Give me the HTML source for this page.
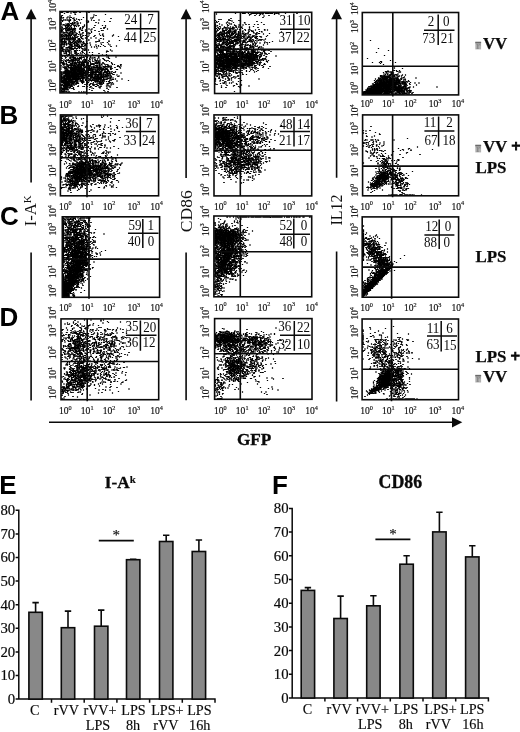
<!DOCTYPE html>
<html><head><meta charset="utf-8"><title>Figure</title>
<style>html,body{margin:0;padding:0;background:#fff}body{width:520px;height:732px;overflow:hidden}</style>
</head><body>
<svg width="520" height="732" viewBox="0 0 520 732" style="display:block">
<rect width="520" height="732" fill="#fff"/>
<g stroke="#000" stroke-width="2.3" stroke-linecap="square" fill="none" transform="scale(0.5) translate(0 1)"><path d="M122 24h3m9 0h2m11 0h2m3 0h0m8 0h0m13 0h0m5 0h0m-36 1h0m-13 1h0m21 1h0m1 1h0m60 0h0m-23 1h0m-63 1h0m67 0h0m-69 1h0m17 0h0m-18 2h0m14 0h0m51 0h0m-64 1h0m4 0h0m13 0h0m3 0h0m24 0h0m-45 1h0m4 0h0m8 0h0m14 0h0m34 0h0m3 0h0m-39 1h0m76 0h0m-100 1h0m17 0h0m14 0h0m-31 1h0m19 0h0m8 0h0m8 0h0m6 0h0m-41 1h0m5 0h0m3 0h1m3 0h2m12 0h0m11 0h0m24 0h0m15 0h0m-73 1h0m14 0h2m9 0h0m38 0h0m-66 1h0m16 0h0m35 0h0m3 0h0m-51 1h0m29 0h0m23 0h0m32 0h0m11 0h0m-81 1h0m9 0h0m29 0h0m-55 1h0m23 0h0m5 0h0m24 0h0m18 0h0m-70 1h0m27 0h0m5 0h2m5 0h0m36 0h0m-75 1h0m14 0h0m5 0h2m3 0h0m-24 1h0m10 0h0m4 0h2m7 0h0m5 0h0m6 0h0m-34 1h0m5 0h0m8 0h1m10 0h0m-20 1h0m3 0h0m5 0h2m3 0h0m4 0h0m11 0h0m15 0h0m-38 1h2m5 0h0m5 0h0m5 0h3m7 0h0m32 0h0m15 0h0m6 0h0m-89 1h0m13 0h2m4 0h0m16 0h0m12 0h0m-38 1h0m6 0h0m12 0h0m4 0h0m13 0h0m-42 1h0m10 0h0m4 0h0m4 0h0m69 0h0m-79 1h0m3 0h0m8 0h0m18 0h0m5 0h0m22 0h0m20 0h1m-87 1h0m3 0h0m14 0h0m10 0h0m-27 1h0m7 0h0m3 0h2m3 0h0m6 0h0m5 0h0m3 0h0m9 0h1m4 0h0m37 0h0m6 0h0m-86 1h0m5 0h0m4 0h0m9 0h9m29 0h0m6 0h0m31 0h0m-92 1h0m12 0h0m3 0h1m9 0h1m11 0h0m-35 1h0m7 0h9m3 0h1m6 0h0m13 0h0m7 0h0m11 0h0m-60 1h2m10 0h2m10 0h0m17 0h2m25 0h0m13 0h0m3 0h0m-84 1h0m10 0h1m5 0h0m7 0h0m4 0h0m-26 1h0m19 0h2m5 0h0m10 0h0m13 0h0m11 0h0m15 0h0m-76 1h0m3 0h1m8 0h0m7 0h2m3 0h0m4 0h0m9 0h0m-37 1h0m6 0h0m4 0h0m8 0h0m5 0h0m14 0h0m7 0h0m17 0h0m-61 1h0m6 0h1m6 0h0m3 0h0m10 0h0m4 0h0m14 0h0m10 0h2m-39 1h0m3 0h0m3 0h0m9 0h0m26 0h0m-54 1h0m6 0h0m5 0h0m5 0h0m4 0h0m14 0h0m4 0h0m35 0h0m7 0h0m-84 1h0m8 0h0m9 0h0m5 0h0m8 0h0m5 0h0m4 0h0m-39 1h3m7 0h2m4 0h2m8 0h5m8 0h0m17 0h0m27 0h0m22 0h0m-105 1h0m5 0h1m6 0h2m5 0h2m5 0h2m17 0h0m4 0h0m19 0h0m11 0h0m-78 1h0m4 0h0m4 0h2m3 0h0m3 0h0m22 0h0m4 0h0m42 0h0m18 0h0m-103 1h0m3 0h0m4 0h0m4 0h0m8 0h0m8 0h0m7 0h0m20 0h0m12 0h0m19 0h0m30 0h0m-115 1h0m14 0h1m8 0h0m6 0h0m3 0h0m9 0h0m-41 1h0m11 0h0m8 0h0m4 0h0m3 0h0m3 0h3m8 0h0m-40 1h0m3 0h2m3 0h0m7 0h2m3 0h0m21 0h0m8 0h0m3 0h0m8 0h0m10 0h0m-66 1h4m3 0h0m3 0h0m8 0h0m3 0h0m3 0h0m8 0h1m5 0h0m37 0h1m-78 1h0m4 0h0m4 0h5m3 0h1m4 0h0m3 0h0m3 0h0m5 0h0m10 0h0m41 0h0m-85 1h0m3 0h0m7 0h1m9 0h0m4 0h0m11 0h3m-36 1h0m5 0h0m7 0h0m3 0h0m3 0h0m4 0h0m3 0h1m7 0h0m20 0h1m20 0h0m-76 1h0m26 0h0m6 0h0m5 0h0m14 0h0m26 0h0m40 0h0m-117 1h2m5 0h0m3 0h0m6 0h0m17 0h0m5 0h2m11 0h0m45 0h0m-92 1h2m4 0h0m6 0h2m7 0h0m5 0h0m4 0h0m3 0h1m3 0h0m4 0h0m6 0h0m19 0h0m3 0h0m3 0h0m20 0h0m-96 1h3m3 0h0m3 0h0m10 0h0m4 0h0m3 0h4m5 0h3m32 0h0m-68 1h0m4 0h3m7 0h0m3 0h4m4 0h2m6 0h0m9 0h0m40 0h0m9 0h0m-91 1h0m5 0h0m4 0h0m5 0h0m4 0h2m5 0h0m4 0h2m7 0h0m5 0h1m12 0h0m22 0h0m-65 1h1m9 0h0m6 0h1m15 0h0m6 0h0m-52 1h6m3 0h2m4 0h0m3 0h0m8 0h1m4 0h0m4 0h0m8 0h0m5 0h0m46 0h0m-95 1h2m15 0h0m4 0h0m11 0h2m7 0h2m38 0h0m-81 1h0m6 0h1m4 0h0m6 0h3m3 0h0m4 0h1m5 0h0m15 0h1m10 0h0m11 0h0m28 0h0m-78 1h1m10 0h0m6 0h0m5 0h0m5 0h0m28 0h0m10 0h0m-85 1h2m25 0h2m4 0h2m13 0h0m3 0h0m24 0h0m36 0h0m-111 1h0m6 0h0m12 0h0m4 0h2m8 0h0m5 0h1m3 0h1m3 0h0m26 0h0m8 0h0m9 0h0m12 0h0m-100 1h0m15 0h2m4 0h0m13 0h2m25 0h0m6 0h0m-67 1h3m9 0h0m3 0h0m5 0h0m8 0h0m7 0h1m4 0h0m-36 1h0m6 0h4m3 0h2m3 0h0m15 0h0m11 0h0m24 0h0m-72 1h3m16 0h4m3 0h2m3 0h2m4 0h0m5 0h1m-43 1h0m18 0h0m13 0h0m15 0h0m4 0h0m-46 1h0m4 0h0m4 0h0m10 0h0m3 0h0m-25 1h0m3 0h2m9 0h2m4 0h0m23 0h1m4 0h1m6 0h0m44 0h0m-89 1h0m5 0h0m12 0h2m4 0h0m4 0h0m10 0h0m-47 1h3m5 0h2m4 0h4m13 0h0m61 0h0m10 0h0m-102 1h0m5 0h0m9 0h0m13 0h2m13 0h1m51 0h0m-85 1h2m5 0h0m5 0h0m6 0h2m14 0h0m48 0h0m-91 1h0m11 0h0m6 0h0m13 0h1m12 0h1m13 0h0m6 0h0m-63 1h0m6 0h0m12 0h0m21 0h0m-39 1h0m8 0h0m3 0h0m17 0h2m5 0h0m12 0h0m29 0h0m-59 1h0m4 0h0m12 0h0m9 0h0m-42 1h0m15 0h2m14 0h0m20 0h0m12 0h0m28 0h0m-90 1h0m10 0h0m3 0h2m7 0h1m6 0h0m8 0h0m11 0h0m5 0h0m29 0h0m-71 1h0m14 0h0m23 0h0m25 0h0m26 0h0m-97 1h0m10 0h0m11 0h0m17 0h0m35 0h0m-68 1h0m17 0h0m25 0h0m9 0h0m-59 1h1m18 0h3m23 0h1m7 0h0m6 0h0m16 0h0m17 0h0m3 0h0m15 0h0m-110 1h0m10 0h0m14 0h4m9 0h2m3 0h0m4 0h0m6 0h0m15 0h0m-67 1h0m9 0h0m8 0h2m6 0h0m4 0h0m4 0h0m5 0h2m18 0h0m4 0h2m4 0h0m8 0h0m19 0h0m-93 1h0m25 0h0m7 0h5m45 0h0m13 0h0m-77 1h0m4 0h0m5 0h2m5 0h0m5 0h0m6 0h0m10 0h0m16 0h0m12 0h0m-85 1h0m15 0h0m7 0h0m3 0h0m12 0h0m9 0h0m3 0h0m9 0h0m10 0h0m19 0h0m-87 1h0m6 0h0m5 0h1m9 0h0m6 0h3m3 0h1m3 0h0m13 0h0m13 0h0m15 0h0m-78 1h2m7 0h0m5 0h0m4 0h0m5 0h4m3 0h0m4 0h1m11 0h0m3 0h0m6 0h0m14 0h0m3 0h0m16 0h0m6 0h0m-94 1h1m8 0h0m7 0h0m4 0h0m4 0h0m10 0h0m9 0h0m6 0h0m9 0h0m10 0h0m3 0h0m4 0h1m15 0h0m-86 1h0m5 0h1m12 0h0m15 0h0m8 0h2m9 0h1m6 0h0m33 0h0m-79 1h0m4 0h4m3 0h0m4 0h0m4 0h0m5 0h1m4 0h0m4 0h0m3 0h0m18 0h0m3 0h0m3 0h0m-78 1h4m11 0h2m17 0h1m5 0h2m3 0h5m9 0h0m11 0h0m14 0h0m17 0h0m-101 1h0m6 0h0m5 0h0m12 0h0m4 0h4m5 0h1m3 0h1m4 0h0m8 0h2m13 0h0m5 0h4m-73 1h1m6 0h0m8 0h0m3 0h2m3 0h2m8 0h0m7 0h0m16 0h0m4 0h0m5 0h1m3 0h0m4 0h0m7 0h0m18 0h0m-99 1h5m13 0h0m6 0h0m3 0h2m4 0h1m4 0h2m3 0h1m4 0h3m5 0h0m4 0h0m3 0h0m6 0h0m8 0h0m7 0h0m-82 1h0m7 0h1m7 0h2m5 0h0m5 0h0m3 0h2m3 0h0m5 0h0m6 0h0m9 0h1m3 0h2m11 0h0m4 0h0m11 0h0m11 0h0m4 0h0m13 0h0m-115 1h1m5 0h0m5 0h2m3 0h0m3 0h4m7 0h7m3 0h2m5 0h2m5 0h0m17 0h0m6 0h0m7 0h0m5 0h0m25 0h0m-119 1h0m14 0h2m3 0h5m4 0h1m4 0h2m5 0h5m7 0h4m3 0h0m10 0h4m5 0h0m36 0h0m-99 1h0m4 0h2m5 0h10m4 0h0m7 0h1m5 0h2m3 0h0m8 0h0m6 0h0m5 0h1m16 0h2m4 0h0m20 0h0m-112 1h0m4 0h3m10 0h1m6 0h0m3 0h0m4 0h2m4 0h0m10 0h1m10 0h0m6 0h1m4 0h0m8 0h0m3 0h3m3 0h2m17 0h0m3 0h0m-116 1h0m4 0h0m8 0h0m10 0h0m4 0h0m3 0h2m4 0h6m4 0h0m4 0h2m5 0h0m4 0h4m6 0h0m6 0h2m4 0h0m3 0h0m3 0h0m5 0h2m3 0h0m3 0h0m16 0h0m-111 1h0m4 0h0m5 0h6m3 0h0m3 0h1m4 0h9m6 0h1m4 0h0m5 0h0m8 0h10m4 0h1m7 0h0m21 0h0m-101 1h1m8 0h0m7 0h1m3 0h3m4 0h2m3 0h3m9 0h0m3 0h2m5 0h0m6 0h0m7 0h4m12 0h0m9 0h0m20 0h0m-109 1h1m8 0h12m3 0h8m3 0h0m6 0h1m3 0h6m3 0h0m14 0h2m4 0h1m7 0h0m10 0h0m-102 1h0m8 0h0m4 0h1m6 0h2m3 0h9m4 0h10m10 0h0m12 0h4m3 0h0m5 0h3m4 0h2m9 0h0m-79 1h2m3 0h2m3 0h7m3 0h3m4 0h0m7 0h1m3 0h2m3 0h1m4 0h0m6 0h2m4 0h6m5 0h2m7 0h0m11 0h2m-103 1h4m5 0h1m4 0h0m3 0h4m3 0h0m6 0h0m3 0h1m3 0h0m14 0h1m3 0h0m3 0h0m5 0h0m5 0h0m3 0h0m3 0h0m4 0h0m6 0h0m-85 1h2m3 0h2m6 0h7m4 0h8m3 0h2m8 0h6m3 0h0m7 0h0m7 0h0m6 0h0m10 0h2m-87 1h0m3 0h5m4 0h3m3 0h4m3 0h8m3 0h0m3 0h2m3 0h3m5 0h0m3 0h0m9 0h3m6 0h0m7 0h0m5 0h0m-93 1h0m8 0h4m3 0h7m3 0h0m3 0h2m3 0h12m4 0h2m9 0h0m5 0h0m3 0h3m3 0h0m5 0h0m8 0h3m4 0h2m6 0h0m7 0h0m-109 1h0m4 0h3m3 0h5m3 0h4m3 0h7m6 0h7m9 0h0m6 0h4m4 0h6m3 0h5m5 0h0m4 0h2m5 0h0m-92 1h0m3 0h2m6 0h3m3 0h9m4 0h1m4 0h0m6 0h0m3 0h0m4 0h2m5 0h2m3 0h0m4 0h0m4 0h6m6 0h2m9 0h0m8 0h0m3 0h0m-108 1h2m7 0h10m3 0h0m4 0h0m3 0h13m3 0h0m3 0h4m7 0h0m6 0h5m5 0h1m4 0h0m5 0h1m4 0h2m4 0h0m5 0h0m19 0h0m-120 1h0m6 0h0m4 0h8m3 0h27m3 0h0m3 0h0m8 0h1m7 0h0m9 0h2m12 0h5m4 0h0m-98 1h0m4 0h0m3 0h6m4 0h8m5 0h11m6 0h0m3 0h0m5 0h2m3 0h0m13 0h5m3 0h0m7 0h0m5 0h0m-96 1h0m8 0h0m3 0h6m3 0h13m3 0h4m4 0h0m5 0h2m5 0h0m5 0h1m4 0h5m3 0h2m3 0h2m6 0h1m4 0h0m11 0h2m-106 1h2m9 0h1m4 0h7m3 0h10m3 0h10m5 0h0m3 0h3m4 0h0m9 0h6m3 0h0m3 0h0m5 0h0m5 0h0m4 0h0m13 0h0m-112 1h0m6 0h16m3 0h6m10 0h2m3 0h0m3 0h1m5 0h0m3 0h3m7 0h2m4 0h0m6 0h0m11 0h1m-92 1h0m6 0h1m3 0h3m3 0h4m4 0h1m3 0h2m3 0h2m3 0h0m3 0h2m7 0h1m10 0h2m6 0h1m3 0h2m7 0h0m3 0h4m4 0h4m3 0h0m16 0h0m-116 1h1m6 0h0m3 0h0m3 0h11m3 0h6m3 0h5m3 0h0m11 0h0m3 0h0m3 0h0m7 0h0m3 0h0m4 0h0m4 0h1m3 0h0m8 0h0m9 0h1m13 0h0m-114 1h26m3 0h3m3 0h0m8 0h0m3 0h2m3 0h2m7 0h0m3 0h1m3 0h3m3 0h0m4 0h5m4 0h6m-92 1h0m6 0h1m4 0h1m3 0h4m3 0h3m3 0h2m4 0h2m4 0h0m3 0h5m3 0h1m7 0h0m3 0h6m5 0h4m4 0h2m16 0h1m-100 1h1m3 0h3m4 0h3m3 0h2m4 0h3m3 0h2m3 0h0m3 0h0m4 0h0m3 0h0m7 0h0m3 0h0m6 0h0m5 0h0m6 0h1m3 0h1m3 0h0m6 0h0m9 0h0m3 0h0m3 0h0m4 0h0m-104 1h2m4 0h7m3 0h3m4 0h2m3 0h0m4 0h8m3 0h3m8 0h0m6 0h0m5 0h12m3 0h1m4 0h0m10 0h0m4 0h0m-99 1h1m8 0h14m3 0h1m3 0h0m3 0h3m3 0h0m4 0h2m4 0h0m5 0h6m3 0h0m5 0h0m4 0h9m7 0h0m3 0h2m16 0h0m13 0h0m-122 1h0m6 0h4m3 0h4m4 0h7m3 0h5m3 0h0m4 0h0m6 0h0m14 0h0m3 0h0m4 0h2m4 0h0m3 0h1m4 0h4m3 0h0m12 0h2m-105 1h5m3 0h3m4 0h11m3 0h2m3 0h0m5 0h0m11 0h1m7 0h0m5 0h0m7 0h1m4 0h0m23 0h3m-101 1h0m3 0h6m6 0h2m3 0h2m7 0h2m9 0h4m5 0h0m6 0h0m5 0h2m3 0h2m5 0h2m6 0h0m3 0h2m50 0h0m-135 1h0m3 0h2m6 0h2m4 0h5m9 0h2m5 0h2m4 0h0m8 0h0m4 0h0m5 0h0m6 0h2m9 0h0m9 0h0m10 0h0m15 0h0m-112 1h5m3 0h3m3 0h4m5 0h0m3 0h3m13 0h0m3 0h0m25 0h0m3 0h0m3 0h2m4 0h2m7 0h0m4 0h0m-95 1h0m3 0h6m3 0h3m6 0h0m3 0h2m4 0h0m4 0h0m7 0h2m3 0h0m7 0h0m16 0h0m3 0h2m4 0h1m17 0h0m-94 1h9m4 0h1m3 0h4m4 0h0m4 0h2m9 0h2m10 0h1m10 0h0m12 0h0m4 0h0m4 0h0m13 0h0m5 0h0m-96 1h16m3 0h1m5 0h0m21 0h0m12 0h0m15 0h4m16 0h0m-94 1h5m3 0h2m6 0h3m5 0h5m8 0h0m16 0h1m16 0h4m5 0h0m9 0h2m-96 1h0m4 0h0m4 0h9m7 0h0m29 0h0m10 0h0m9 0h1m19 0h0m10 0h0m3 0h0m-105 1h0m3 0h0m4 0h2m5 0h1m5 0h1m3 0h0m6 0h0m18 0h0m9 0h1m8 0h0m4 0h1m7 0h0m4 0h0m-75 1h10m4 0h0m5 0h1m37 0h0m16 0h0m14 0h0m6 0h0m-100 1h2m3 0h13m3 0h0m36 0h0m8 0h1m7 0h2m-75 1h1m8 0h5m5 0h4m12 0h0m56 0h1m4 0h0m-91 1h0m3 0h6m8 0h0m12 0h0m10 0h0m3 0h0m6 0h0m6 0h1m9 0h2m9 0h0m-74 1h3m8 0h2m57 0h2m20 0h1m-99 1h0m6 0h2m3 0h0m3 0h0m11 0h0m33 0h0m54 0h0m-112 1h2m4 0h6m5 0h1m33 0h0m11 0h0m16 0h0m14 0h0m-88 1h8m10 0h0m3 0h0m40 0h0m27 0h0m-92 1h0m3 0h4m5 0h2m-14 1h0m3 0h2m3 0h0m4 0h0m14 0h0m31 0h0m38 0h0m-92 1h0m3 0h0m4 0h0m4 0h0m-13 1h0m5 0h0m56 0h0m24 0h0m-86 1h0m6 0h1m-4 1h1m6 0h0m84 0h0m-94 1h6m6 0h0m3 0h2m19 0h0m5 0h0m4 0h0m3 0h0m40 0h0"/>
<path d="M122 24h3m9 0h2m11 0h2m3 0h0m8 0h0m13 0h0m5 0h0m-36 1h0m-13 1h0m21 1h0m1 1h0m60 0h0m-23 1h0m-63 1h0m67 0h0m-69 1h0m17 0h0m-18 2h0m14 0h0m51 0h0m-64 1h0m4 0h0m13 0h0m3 0h0m24 0h0m-45 1h0m4 0h0m8 0h0m14 0h0m34 0h0m3 0h0m-39 1h0m76 0h0m-100 1h0m17 0h0m14 0h0m-31 1h0m19 0h0m8 0h0m8 0h0m6 0h0m-41 1h0m5 0h0m3 0h1m3 0h2m12 0h0m11 0h0m24 0h0m15 0h0m-73 1h0m14 0h2m9 0h0m38 0h0m-66 1h0m16 0h0m35 0h0m3 0h0m-51 1h0m29 0h0m23 0h0m32 0h0m11 0h0m-81 1h0m9 0h0m29 0h0m-55 1h0m23 0h0m5 0h0m24 0h0m18 0h0m-70 1h0m27 0h0m5 0h2m5 0h0m36 0h0m-75 1h0m14 0h0m5 0h2m3 0h0m-24 1h0m10 0h0m4 0h2m7 0h0m5 0h0m6 0h0m-34 1h0m5 0h0m8 0h1m10 0h0m-20 1h0m3 0h0m5 0h2m3 0h0m4 0h0m11 0h0m15 0h0m-38 1h2m5 0h0m5 0h0m5 0h3m7 0h0m32 0h0m15 0h0m6 0h0m-89 1h0m13 0h2m4 0h0m16 0h0m12 0h0m-38 1h0m6 0h0m12 0h0m4 0h0m13 0h0m-42 1h0m10 0h0m4 0h0m4 0h0m69 0h0m-79 1h0m3 0h0m8 0h0m18 0h0m5 0h0m22 0h0m20 0h1m-87 1h0m3 0h0m14 0h0m10 0h0m-27 1h0m7 0h0m3 0h2m3 0h0m6 0h0m5 0h0m3 0h0m9 0h1m4 0h0m37 0h0m6 0h0m-86 1h0m5 0h0m4 0h0m9 0h9m29 0h0m6 0h0m31 0h0m-92 1h0m12 0h0m3 0h1m9 0h1m11 0h0m-35 1h0m7 0h9m3 0h1m6 0h0m13 0h0m7 0h0m11 0h0m-60 1h2m10 0h2m10 0h0m17 0h2m25 0h0m13 0h0m3 0h0m-84 1h0m10 0h1m5 0h0m7 0h0m4 0h0m-26 1h0m19 0h2m5 0h0m10 0h0m13 0h0m11 0h0m15 0h0m-76 1h0m3 0h1m8 0h0m7 0h2m3 0h0m4 0h0m9 0h0m-37 1h0m6 0h0m4 0h0m8 0h0m5 0h0m14 0h0m7 0h0m17 0h0m-61 1h0m6 0h1m6 0h0m3 0h0m10 0h0m4 0h0m14 0h0m10 0h2m-39 1h0m3 0h0m3 0h0m9 0h0m26 0h0m-54 1h0m6 0h0m5 0h0m5 0h0m4 0h0m14 0h0m4 0h0m35 0h0m7 0h0m-84 1h0m8 0h0m9 0h0m5 0h0m8 0h0m5 0h0m4 0h0m-39 1h3m7 0h2m4 0h2m8 0h5m8 0h0m17 0h0m27 0h0m22 0h0m-105 1h0m5 0h1m6 0h2m5 0h2m5 0h2m17 0h0m4 0h0m19 0h0m11 0h0m-78 1h0m4 0h0m4 0h2m3 0h0m3 0h0m22 0h0m4 0h0m42 0h0m18 0h0m-103 1h0m3 0h0m4 0h0m4 0h0m8 0h0m8 0h0m7 0h0m20 0h0m12 0h0m19 0h0m30 0h0m-115 1h0m14 0h1m8 0h0m6 0h0m3 0h0m9 0h0m-41 1h0m11 0h0m8 0h0m4 0h0m3 0h0m3 0h3m8 0h0m-40 1h0m3 0h2m3 0h0m7 0h2m3 0h0m21 0h0m8 0h0m3 0h0m8 0h0m10 0h0m-66 1h4m3 0h0m3 0h0m8 0h0m3 0h0m3 0h0m8 0h1m5 0h0m37 0h1m-78 1h0m4 0h0m4 0h5m3 0h1m4 0h0m3 0h0m3 0h0m5 0h0m10 0h0m41 0h0m-85 1h0m3 0h0m7 0h1m9 0h0m4 0h0m11 0h3m-36 1h0m5 0h0m7 0h0m3 0h0m3 0h0m4 0h0m3 0h1m7 0h0m20 0h1m20 0h0m-76 1h0m26 0h0m6 0h0m5 0h0m14 0h0m26 0h0m40 0h0m-117 1h2m5 0h0m3 0h0m6 0h0m17 0h0m5 0h2m11 0h0m45 0h0m-92 1h2m4 0h0m6 0h2m7 0h0m5 0h0m4 0h0m3 0h1m3 0h0m4 0h0m6 0h0m19 0h0m3 0h0m3 0h0m20 0h0m-96 1h3m3 0h0m3 0h0m10 0h0m4 0h0m3 0h4m5 0h3m32 0h0m-68 1h0m4 0h3m7 0h0m3 0h4m4 0h2m6 0h0m9 0h0m40 0h0m9 0h0m-91 1h0m5 0h0m4 0h0m5 0h0m4 0h2m5 0h0m4 0h2m7 0h0m5 0h1m12 0h0m22 0h0m-65 1h1m9 0h0m6 0h1m15 0h0m6 0h0m-52 1h6m3 0h2m4 0h0m3 0h0m8 0h1m4 0h0m4 0h0m8 0h0m5 0h0m46 0h0m-95 1h2m15 0h0m4 0h0m11 0h2m7 0h2m38 0h0m-81 1h0m6 0h1m4 0h0m6 0h3m3 0h0m4 0h1m5 0h0m15 0h1m10 0h0m11 0h0m28 0h0m-78 1h1m10 0h0m6 0h0m5 0h0m5 0h0m28 0h0m10 0h0m-85 1h2m25 0h2m4 0h2m13 0h0m3 0h0m24 0h0m36 0h0m-111 1h0m6 0h0m12 0h0m4 0h2m8 0h0m5 0h1m3 0h1m3 0h0m26 0h0m8 0h0m9 0h0m12 0h0m-100 1h0m15 0h2m4 0h0m13 0h2m25 0h0m6 0h0m-67 1h3m9 0h0m3 0h0m5 0h0m8 0h0m7 0h1m4 0h0m-36 1h0m6 0h4m3 0h2m3 0h0m15 0h0m11 0h0m24 0h0m-72 1h3m16 0h4m3 0h2m3 0h2m4 0h0m5 0h1m-43 1h0m18 0h0m13 0h0m15 0h0m4 0h0m-46 1h0m4 0h0m4 0h0m10 0h0m3 0h0m-25 1h0m3 0h2m9 0h2m4 0h0m23 0h1m4 0h1m6 0h0m44 0h0m-89 1h0m5 0h0m12 0h2m4 0h0m4 0h0m10 0h0m-47 1h3m5 0h2m4 0h4m13 0h0m61 0h0m10 0h0m-102 1h0m5 0h0m9 0h0m13 0h2m13 0h1m51 0h0m-85 1h2m5 0h0m5 0h0m6 0h2m14 0h0m48 0h0m-91 1h0m11 0h0m6 0h0m13 0h1m12 0h1m13 0h0m6 0h0m-63 1h0m6 0h0m12 0h0m21 0h0m-39 1h0m8 0h0m3 0h0m17 0h2m5 0h0m12 0h0m29 0h0m-59 1h0m4 0h0m12 0h0m9 0h0m-42 1h0m15 0h2m14 0h0m20 0h0m12 0h0m28 0h0m-90 1h0m10 0h0m3 0h2m7 0h1m6 0h0m8 0h0m11 0h0m5 0h0m29 0h0m-71 1h0m14 0h0m23 0h0m25 0h0m26 0h0m-97 1h0m10 0h0m11 0h0m17 0h0m35 0h0m-68 1h0m17 0h0m25 0h0m9 0h0m-59 1h1m18 0h3m23 0h1m7 0h0m6 0h0m16 0h0m17 0h0m3 0h0m15 0h0m-110 1h0m10 0h0m14 0h4m9 0h2m3 0h0m4 0h0m6 0h0m15 0h0m-67 1h0m9 0h0m8 0h2m6 0h0m4 0h0m4 0h0m5 0h2m18 0h0m4 0h2m4 0h0m8 0h0m19 0h0m-93 1h0m25 0h0m7 0h5m45 0h0m13 0h0m-77 1h0m4 0h0m5 0h2m5 0h0m5 0h0m6 0h0m10 0h0m16 0h0m12 0h0m-85 1h0m15 0h0m7 0h0m3 0h0m12 0h0m9 0h0m3 0h0m9 0h0m10 0h0m19 0h0m-87 1h0m6 0h0m5 0h1m9 0h0m6 0h3m3 0h1m3 0h0m13 0h0m13 0h0m15 0h0m-78 1h2m7 0h0m5 0h0m4 0h0m5 0h4m3 0h0m4 0h1m11 0h0m3 0h0m6 0h0m14 0h0m3 0h0m16 0h0m6 0h0m-94 1h1m8 0h0m7 0h0m4 0h0m4 0h0m10 0h0m9 0h0m6 0h0m9 0h0m10 0h0m3 0h0m4 0h1m15 0h0m-86 1h0m5 0h1m12 0h0m15 0h0m8 0h2m9 0h1m6 0h0m33 0h0m-79 1h0m4 0h4m3 0h0m4 0h0m4 0h0m5 0h1m4 0h0m4 0h0m3 0h0m18 0h0m3 0h0m3 0h0m-78 1h4m11 0h2m17 0h1m5 0h2m3 0h5m9 0h0m11 0h0m14 0h0m17 0h0m-101 1h0m6 0h0m5 0h0m12 0h0m4 0h4m5 0h1m3 0h1m4 0h0m8 0h2m13 0h0m5 0h4m-73 1h1m6 0h0m8 0h0m3 0h2m3 0h2m8 0h0m7 0h0m16 0h0m4 0h0m5 0h1m3 0h0m4 0h0m7 0h0m18 0h0m-99 1h5m13 0h0m6 0h0m3 0h2m4 0h1m4 0h2m3 0h1m4 0h3m5 0h0m4 0h0m3 0h0m6 0h0m8 0h0m7 0h0m-82 1h0m7 0h1m7 0h2m5 0h0m5 0h0m3 0h2m3 0h0m5 0h0m6 0h0m9 0h1m3 0h2m11 0h0m4 0h0m11 0h0m11 0h0m4 0h0m13 0h0m-115 1h1m5 0h0m5 0h2m3 0h0m3 0h4m7 0h7m3 0h2m5 0h2m5 0h0m17 0h0m6 0h0m7 0h0m5 0h0m25 0h0m-119 1h0m14 0h2m3 0h5m4 0h1m4 0h2m5 0h5m7 0h4m3 0h0m10 0h4m5 0h0m36 0h0m-99 1h0m4 0h2m5 0h10m4 0h0m7 0h1m5 0h2m3 0h0m8 0h0m6 0h0m5 0h1m16 0h2m4 0h0m20 0h0m-112 1h0m4 0h3m10 0h1m6 0h0m3 0h0m4 0h2m4 0h0m10 0h1m10 0h0m6 0h1m4 0h0m8 0h0m3 0h3m3 0h2m17 0h0m3 0h0m-116 1h0m4 0h0m8 0h0m10 0h0m4 0h0m3 0h2m4 0h6m4 0h0m4 0h2m5 0h0m4 0h4m6 0h0m6 0h2m4 0h0m3 0h0m3 0h0m5 0h2m3 0h0m3 0h0m16 0h0m-111 1h0m4 0h0m5 0h6m3 0h0m3 0h1m4 0h9m6 0h1m4 0h0m5 0h0m8 0h10m4 0h1m7 0h0m21 0h0m-101 1h1m8 0h0m7 0h1m3 0h3m4 0h2m3 0h3m9 0h0m3 0h2m5 0h0m6 0h0m7 0h4m12 0h0m9 0h0m20 0h0m-109 1h1m8 0h12m3 0h8m3 0h0m6 0h1m3 0h6m3 0h0m14 0h2m4 0h1m7 0h0m10 0h0m-102 1h0m8 0h0m4 0h1m6 0h2m3 0h9m4 0h10m10 0h0m12 0h4m3 0h0m5 0h3m4 0h2m9 0h0m-79 1h2m3 0h2m3 0h7m3 0h3m4 0h0m7 0h1m3 0h2m3 0h1m4 0h0m6 0h2m4 0h6m5 0h2m7 0h0m11 0h2m-103 1h4m5 0h1m4 0h0m3 0h4m3 0h0m6 0h0m3 0h1m3 0h0m14 0h1m3 0h0m3 0h0m5 0h0m5 0h0m3 0h0m3 0h0m4 0h0m6 0h0m-85 1h2m3 0h2m6 0h7m4 0h8m3 0h2m8 0h6m3 0h0m7 0h0m7 0h0m6 0h0m10 0h2m-87 1h0m3 0h5m4 0h3m3 0h4m3 0h8m3 0h0m3 0h2m3 0h3m5 0h0m3 0h0m9 0h3m6 0h0m7 0h0m5 0h0m-93 1h0m8 0h4m3 0h7m3 0h0m3 0h2m3 0h12m4 0h2m9 0h0m5 0h0m3 0h3m3 0h0m5 0h0m8 0h3m4 0h2m6 0h0m7 0h0m-109 1h0m4 0h3m3 0h5m3 0h4m3 0h7m6 0h7m9 0h0m6 0h4m4 0h6m3 0h5m5 0h0m4 0h2m5 0h0m-92 1h0m3 0h2m6 0h3m3 0h9m4 0h1m4 0h0m6 0h0m3 0h0m4 0h2m5 0h2m3 0h0m4 0h0m4 0h6m6 0h2m9 0h0m8 0h0m3 0h0m-108 1h2m7 0h10m3 0h0m4 0h0m3 0h13m3 0h0m3 0h4m7 0h0m6 0h5m5 0h1m4 0h0m5 0h1m4 0h2m4 0h0m5 0h0m19 0h0m-120 1h0m6 0h0m4 0h8m3 0h27m3 0h0m3 0h0m8 0h1m7 0h0m9 0h2m12 0h5m4 0h0m-98 1h0m4 0h0m3 0h6m4 0h8m5 0h11m6 0h0m3 0h0m5 0h2m3 0h0m13 0h5m3 0h0m7 0h0m5 0h0m-96 1h0m8 0h0m3 0h6m3 0h13m3 0h4m4 0h0m5 0h2m5 0h0m5 0h1m4 0h5m3 0h2m3 0h2m6 0h1m4 0h0m11 0h2m-106 1h2m9 0h1m4 0h7m3 0h10m3 0h10m5 0h0m3 0h3m4 0h0m9 0h6m3 0h0m3 0h0m5 0h0m5 0h0m4 0h0m13 0h0m-112 1h0m6 0h16m3 0h6m10 0h2m3 0h0m3 0h1m5 0h0m3 0h3m7 0h2m4 0h0m6 0h0m11 0h1m-92 1h0m6 0h1m3 0h3m3 0h4m4 0h1m3 0h2m3 0h2m3 0h0m3 0h2m7 0h1m10 0h2m6 0h1m3 0h2m7 0h0m3 0h4m4 0h4m3 0h0m16 0h0m-116 1h1m6 0h0m3 0h0m3 0h11m3 0h6m3 0h5m3 0h0m11 0h0m3 0h0m3 0h0m7 0h0m3 0h0m4 0h0m4 0h1m3 0h0m8 0h0m9 0h1m13 0h0m-114 1h26m3 0h3m3 0h0m8 0h0m3 0h2m3 0h2m7 0h0m3 0h1m3 0h3m3 0h0m4 0h5m4 0h6m-92 1h0m6 0h1m4 0h1m3 0h4m3 0h3m3 0h2m4 0h2m4 0h0m3 0h5m3 0h1m7 0h0m3 0h6m5 0h4m4 0h2m16 0h1m-100 1h1m3 0h3m4 0h3m3 0h2m4 0h3m3 0h2m3 0h0m3 0h0m4 0h0m3 0h0m7 0h0m3 0h0m6 0h0m5 0h0m6 0h1m3 0h1m3 0h0m6 0h0m9 0h0m3 0h0m3 0h0m4 0h0m-104 1h2m4 0h7m3 0h3m4 0h2m3 0h0m4 0h8m3 0h3m8 0h0m6 0h0m5 0h12m3 0h1m4 0h0m10 0h0m4 0h0m-99 1h1m8 0h14m3 0h1m3 0h0m3 0h3m3 0h0m4 0h2m4 0h0m5 0h6m3 0h0m5 0h0m4 0h9m7 0h0m3 0h2m16 0h0m13 0h0m-122 1h0m6 0h4m3 0h4m4 0h7m3 0h5m3 0h0m4 0h0m6 0h0m14 0h0m3 0h0m4 0h2m4 0h0m3 0h1m4 0h4m3 0h0m12 0h2m-105 1h5m3 0h3m4 0h11m3 0h2m3 0h0m5 0h0m11 0h1m7 0h0m5 0h0m7 0h1m4 0h0m23 0h3m-101 1h0m3 0h6m6 0h2m3 0h2m7 0h2m9 0h4m5 0h0m6 0h0m5 0h2m3 0h2m5 0h2m6 0h0m3 0h2m50 0h0m-135 1h0m3 0h2m6 0h2m4 0h5m9 0h2m5 0h2m4 0h0m8 0h0m4 0h0m5 0h0m6 0h2m9 0h0m9 0h0m10 0h0m15 0h0m-112 1h5m3 0h3m3 0h4m5 0h0m3 0h3m13 0h0m3 0h0m25 0h0m3 0h0m3 0h2m4 0h2m7 0h0m4 0h0m-95 1h0m3 0h6m3 0h3m6 0h0m3 0h2m4 0h0m4 0h0m7 0h2m3 0h0m7 0h0m16 0h0m3 0h2m4 0h1m17 0h0m-94 1h9m4 0h1m3 0h4m4 0h0m4 0h2m9 0h2m10 0h1m10 0h0m12 0h0m4 0h0m4 0h0m13 0h0m5 0h0m-96 1h16m3 0h1m5 0h0m21 0h0m12 0h0m15 0h4m16 0h0m-94 1h5m3 0h2m6 0h3m5 0h5m8 0h0m16 0h1m16 0h4m5 0h0m9 0h2m-96 1h0m4 0h0m4 0h9m7 0h0m29 0h0m10 0h0m9 0h1m19 0h0m10 0h0m3 0h0m-105 1h0m3 0h0m4 0h2m5 0h1m5 0h1m3 0h0m6 0h0m18 0h0m9 0h1m8 0h0m4 0h1m7 0h0m4 0h0m-75 1h10m4 0h0m5 0h1m37 0h0m16 0h0m14 0h0m6 0h0m-100 1h2m3 0h13m3 0h0m36 0h0m8 0h1m7 0h2m-75 1h1m8 0h5m5 0h4m12 0h0m56 0h1m4 0h0m-91 1h0m3 0h6m8 0h0m12 0h0m10 0h0m3 0h0m6 0h0m6 0h1m9 0h2m9 0h0m-74 1h3m8 0h2m57 0h2m20 0h1m-99 1h0m6 0h2m3 0h0m3 0h0m11 0h0m33 0h0m54 0h0m-112 1h2m4 0h6m5 0h1m33 0h0m11 0h0m16 0h0m14 0h0m-88 1h8m10 0h0m3 0h0m40 0h0m27 0h0m-92 1h0m3 0h4m5 0h2m-14 1h0m3 0h2m3 0h0m4 0h0m14 0h0m31 0h0m38 0h0m-92 1h0m3 0h0m4 0h0m4 0h0m-13 1h0m5 0h0m56 0h0m24 0h0m-86 1h0m6 0h1m-4 1h1m6 0h0m84 0h0m-94 1h6m6 0h0m3 0h2m19 0h0m5 0h0m4 0h0m3 0h0m40 0h0"/>
<path d="M471 26h0m14 0h5m7 0h0m6 0h8m3 0h2m3 0h2m3 0h3m4 0h6m3 0h5m4 0h1m3 0h1m3 0h0m14 0h0m23 0h0m-161 1h0m69 0h0m11 0h0m7 0h0m5 0h1m32 0h0m-58 1h0m21 0h0m28 0h0m-50 1h0m11 1h0m9 0h0m19 0h0m-10 1h0m-2 3h0m-64 2h0m-24 2h0m4 0h0m16 0h0m-27 2h0m27 0h0m3 0h0m17 0h0m-14 1h0m17 0h0m-48 1h0m4 0h0m77 0h0m-59 1h0m-21 1h0m33 0h0m22 0h0m34 0h0m-92 1h0m22 0h0m5 0h0m32 0h0m-51 2h0m21 0h0m3 0h0m-32 1h0m24 0h0m37 0h0m6 0h0m11 0h0m7 0h0m12 0h0m-84 1h0m25 0h0m9 0h1m7 0h0m-55 1h0m4 0h0m22 0h0m13 0h0m-39 1h0m3 0h0m21 0h0m17 0h0m-41 1h0m8 0h0m68 0h0m-76 1h0m10 0h0m8 0h0m12 0h0m5 0h0m6 0h0m5 0h0m3 0h1m3 0h0m15 0h0m-68 1h0m5 0h0m14 0h2m13 0h0m8 0h0m10 0h0m16 0h0m17 0h0m-68 1h0m7 0h3m8 0h3m-38 1h2m4 0h0m3 0h0m5 0h0m7 0h0m8 0h0m4 0h2m19 0h0m-54 1h0m15 0h0m16 0h0m13 0h0m6 0h0m18 0h0m-64 1h0m4 0h0m6 0h0m9 0h0m5 0h0m7 0h0m13 0h0m11 0h0m28 0h0m11 0h0m-98 1h0m20 0h0m8 0h2m9 0h2m25 0h0m3 0h0m11 0h0m18 0h1m5 0h0m-104 1h0m5 0h0m10 0h1m3 0h0m3 0h0m4 0h0m3 0h1m30 0h0m12 0h0m-72 1h0m3 0h0m11 0h0m4 0h0m11 0h2m4 0h0m3 0h0m3 0h0m8 0h0m6 0h0m20 0h0m-75 1h0m17 0h0m8 0h0m6 0h0m4 0h0m11 0h0m21 0h0m6 0h2m13 0h0m4 0h0m-92 1h2m8 0h1m4 0h3m5 0h0m3 0h4m7 0h3m14 0h0m39 0h0m39 0h0m-132 1h0m9 0h2m7 0h0m4 0h1m3 0h1m7 0h0m4 0h0m8 0h0m20 0h0m10 0h0m7 0h0m-83 1h0m8 0h2m3 0h0m8 0h0m4 0h0m3 0h0m4 0h2m5 0h2m7 0h0m9 0h0m8 0h0m12 0h0m-77 1h0m6 0h1m8 0h0m4 0h0m3 0h0m5 0h1m4 0h5m9 0h0m9 0h0m6 0h0m4 0h0m16 0h0m5 0h2m20 0h0m-108 1h0m3 0h0m9 0h0m5 0h0m6 0h0m5 0h0m15 0h0m3 0h0m7 0h0m7 0h0m5 0h0m18 0h0m13 0h0m-96 1h0m7 0h0m3 0h0m3 0h4m6 0h0m5 0h0m4 0h0m3 0h1m5 0h0m5 0h1m11 0h0m11 0h1m11 0h0m-77 1h5m5 0h0m4 0h0m5 0h0m8 0h0m3 0h0m6 0h0m5 0h1m10 0h0m5 0h0m-61 1h0m3 0h5m4 0h2m4 0h0m4 0h0m3 0h0m5 0h2m8 0h0m7 0h4m26 0h0m27 0h0m-104 1h0m6 0h2m9 0h0m9 0h4m8 0h1m5 0h0m14 0h1m7 0h0m3 0h0m5 0h0m7 0h0m-81 1h1m5 0h0m8 0h0m6 0h0m3 0h2m3 0h0m15 0h2m9 0h0m3 0h0m10 0h0m7 0h2m6 0h2m5 0h0m13 0h0m-102 1h0m5 0h0m3 0h1m4 0h4m3 0h0m3 0h0m8 0h0m4 0h8m4 0h1m3 0h1m4 0h0m7 0h0m10 0h0m6 0h0m12 0h1m-88 1h1m24 0h0m8 0h1m13 0h0m15 0h0m3 0h0m4 0h0m6 0h3m-82 1h0m9 0h2m5 0h0m8 0h3m4 0h3m8 0h5m10 0h2m5 0h0m5 0h1m10 0h0m-80 1h2m4 0h0m4 0h0m4 0h0m3 0h2m9 0h0m6 0h1m18 0h0m11 0h0m7 0h0m10 0h0m3 0h0m-84 1h2m6 0h1m5 0h2m4 0h0m19 0h0m6 0h0m4 0h0m12 0h1m38 0h0m-100 1h1m3 0h9m3 0h10m4 0h0m8 0h0m3 0h1m3 0h0m3 0h0m21 0h0m5 0h0m15 0h0m4 0h0m-93 1h0m9 0h0m4 0h4m6 0h1m4 0h0m4 0h0m7 0h0m5 0h3m10 0h0m3 0h1m6 0h0m4 0h0m5 0h0m7 0h0m4 0h0m3 0h2m5 0h0m-97 1h0m3 0h0m6 0h2m5 0h0m7 0h4m6 0h0m3 0h2m3 0h1m3 0h0m11 0h0m13 0h0m11 0h0m6 0h0m-86 1h1m4 0h1m11 0h0m3 0h0m4 0h0m7 0h2m4 0h0m3 0h1m6 0h0m6 0h0m4 0h1m11 0h0m3 0h0m3 0h0m-75 1h0m4 0h1m4 0h2m5 0h1m5 0h0m6 0h0m6 0h0m4 0h5m5 0h0m17 0h3m46 0h0m-114 1h0m8 0h0m7 0h1m8 0h0m6 0h0m3 0h2m13 0h0m7 0h2m3 0h0m4 0h0m7 0h0m3 0h0m4 0h0m5 0h0m16 0h0m-99 1h1m14 0h1m3 0h2m3 0h1m3 0h1m7 0h0m7 0h2m12 0h0m4 0h0m42 0h0m5 0h0m-94 1h0m3 0h0m7 0h0m4 0h0m4 0h1m7 0h0m14 0h0m25 0h0m10 0h0m9 0h0m-98 1h0m7 0h0m7 0h1m7 0h0m4 0h0m3 0h6m6 0h0m4 0h0m30 0h0m6 0h0m-81 1h0m3 0h0m10 0h3m3 0h2m6 0h0m3 0h0m6 0h0m7 0h0m7 0h0m3 0h0m8 0h0m43 0h0m-104 1h0m8 0h0m5 0h0m7 0h0m3 0h3m11 0h2m13 0h0m3 0h0m10 0h0m10 0h1m4 0h0m-78 1h0m4 0h0m4 0h2m28 0h0m19 0h1m5 0h0m5 0h0m26 0h0m-96 1h0m4 0h0m3 0h0m15 0h2m4 0h1m4 0h0m4 0h0m11 0h0m3 0h0m12 0h0m5 0h2m9 0h0m-79 1h1m9 0h0m3 0h0m4 0h0m13 0h0m5 0h0m19 0h0m6 0h0m9 0h0m4 0h2m9 0h0m-81 1h0m8 0h7m9 0h1m3 0h1m3 0h3m20 0h0m12 0h0m3 0h2m6 0h0m-79 1h0m3 0h1m7 0h2m6 0h0m3 0h3m23 0h2m25 0h0m11 0h1m3 0h0m-92 1h0m3 0h0m3 0h0m4 0h1m6 0h0m3 0h1m6 0h0m3 0h0m7 0h0m14 0h0m3 0h0m5 0h0m4 0h0m7 0h0m3 0h0m13 0h1m-87 1h2m13 0h0m8 0h2m4 0h0m4 0h0m3 0h0m32 0h0m8 0h0m19 0h0m-95 1h0m6 0h3m6 0h0m7 0h3m3 0h4m4 0h0m17 0h0m6 0h4m13 0h0m10 0h0m-86 1h0m12 0h0m5 0h9m6 0h0m5 0h4m3 0h2m8 0h1m3 0h0m7 0h1m5 0h0m20 0h0m-91 1h0m4 0h3m8 0h0m5 0h1m10 0h0m11 0h2m3 0h2m20 0h0m3 0h0m13 0h0m9 0h0m-94 1h6m14 0h4m6 0h0m4 0h5m10 0h0m31 0h0m12 0h0m3 0h0m8 0h0m-102 1h0m5 0h1m3 0h7m3 0h1m5 0h0m24 0h0m12 0h0m10 0h4m21 0h2m8 0h0m-103 1h4m4 0h0m10 0h6m8 0h1m5 0h0m7 0h3m7 0h1m5 0h1m8 0h4m6 0h0m13 0h0m-97 1h1m8 0h6m7 0h5m4 0h0m4 0h4m3 0h0m3 0h2m7 0h0m19 0h0m3 0h2m18 0h0m15 0h0m-111 1h0m9 0h0m3 0h0m10 0h0m8 0h0m4 0h2m11 0h3m4 0h0m4 0h0m7 0h1m3 0h0m3 0h8m7 0h0m11 0h0m-98 1h1m7 0h0m3 0h4m15 0h0m3 0h0m6 0h0m4 0h1m4 0h0m4 0h1m4 0h2m6 0h0m8 0h0m6 0h0m3 0h4m4 0h0m-86 1h0m6 0h2m3 0h1m6 0h8m3 0h0m3 0h0m3 0h0m8 0h4m4 0h1m8 0h0m3 0h0m6 0h3m5 0h0m3 0h0m9 0h1m5 0h0m-99 1h0m4 0h0m6 0h0m4 0h0m4 0h0m6 0h0m6 0h5m3 0h4m4 0h7m3 0h0m5 0h11m3 0h0m6 0h0m3 0h0m17 0h0m6 0h0m-107 1h0m5 0h0m5 0h0m4 0h0m3 0h9m3 0h3m5 0h2m4 0h1m11 0h2m7 0h0m3 0h6m7 0h0m10 0h0m3 0h0m6 0h0m-99 1h0m6 0h7m3 0h2m10 0h8m4 0h2m4 0h1m5 0h3m4 0h0m3 0h2m3 0h3m5 0h3m3 0h1m6 0h2m13 0h0m-103 1h0m5 0h0m4 0h0m6 0h0m5 0h4m4 0h5m4 0h2m3 0h0m6 0h7m4 0h3m9 0h3m3 0h4m9 0h1m-91 1h0m3 0h0m5 0h0m4 0h0m3 0h0m3 0h0m4 0h1m3 0h4m7 0h6m3 0h2m7 0h0m5 0h1m3 0h2m3 0h3m3 0h2m6 0h2m7 0h0m5 0h0m-97 1h0m3 0h7m3 0h7m3 0h0m3 0h2m3 0h2m4 0h6m3 0h4m3 0h1m3 0h7m3 0h5m3 0h1m4 0h4m3 0h0m34 0h0m-121 1h3m5 0h0m6 0h1m3 0h8m3 0h9m3 0h0m4 0h1m3 0h6m3 0h0m4 0h0m4 0h1m3 0h3m3 0h5m3 0h0m5 0h2m11 0h0m-102 1h3m5 0h5m5 0h1m5 0h3m3 0h1m3 0h0m5 0h0m3 0h0m6 0h0m4 0h0m5 0h2m4 0h5m3 0h2m4 0h2m3 0h0m7 0h0m12 0h0m-101 1h0m3 0h4m4 0h0m4 0h11m5 0h13m5 0h17m3 0h3m4 0h1m4 0h3m4 0h1m-89 1h0m3 0h0m3 0h0m3 0h0m3 0h0m5 0h0m3 0h2m3 0h1m5 0h5m3 0h5m8 0h0m3 0h0m4 0h1m3 0h0m3 0h12m5 0h0m-83 1h0m8 0h0m3 0h6m4 0h7m3 0h2m5 0h2m6 0h3m14 0h13m3 0h0m9 0h0m6 0h0m3 0h0m3 0h0m-100 1h4m3 0h0m5 0h0m4 0h0m6 0h2m3 0h19m3 0h5m3 0h2m3 0h1m4 0h1m3 0h0m5 0h5m3 0h0m4 0h0m-88 1h10m7 0h22m3 0h13m4 0h0m3 0h1m3 0h0m3 0h0m3 0h6m7 0h0m6 0h4m4 0h0m-99 1h0m3 0h5m5 0h4m3 0h0m4 0h1m3 0h5m3 0h14m5 0h0m11 0h13m3 0h1m9 0h0m3 0h0m7 0h0m-102 1h3m3 0h5m3 0h0m5 0h0m3 0h25m4 0h0m4 0h8m4 0h1m3 0h0m3 0h0m3 0h2m7 0h2m8 0h0m10 0h0m-106 1h0m6 0h10m3 0h3m3 0h2m3 0h5m3 0h6m4 0h1m7 0h1m3 0h11m4 0h0m11 0h0m4 0h0m-90 1h0m4 0h12m6 0h18m4 0h1m3 0h4m5 0h6m3 0h0m4 0h4m6 0h5m17 0h2m-104 1h3m3 0h0m3 0h2m3 0h8m5 0h5m3 0h2m3 0h2m5 0h0m3 0h1m4 0h0m4 0h2m6 0h2m3 0h0m13 0h0m19 0h0m-104 1h1m3 0h0m4 0h2m4 0h0m7 0h0m3 0h2m5 0h1m3 0h0m4 0h1m4 0h4m3 0h0m4 0h0m4 0h3m3 0h0m4 0h9m4 0h1m5 0h0m3 0h0m-91 1h0m3 0h1m4 0h0m3 0h7m3 0h13m4 0h1m3 0h3m4 0h3m7 0h3m3 0h0m3 0h9m12 0h0m-89 1h1m4 0h0m4 0h8m3 0h0m3 0h17m4 0h0m8 0h17m3 0h0m7 0h0m4 0h0m15 0h0m-98 1h33m3 0h4m3 0h2m4 0h3m4 0h0m5 0h0m4 0h2m3 0h7m7 0h1m4 0h0m-89 1h0m7 0h1m6 0h2m8 0h4m3 0h6m3 0h0m9 0h4m5 0h0m5 0h0m3 0h2m3 0h0m17 0h0m9 0h2m-99 1h1m4 0h1m3 0h8m5 0h3m3 0h2m3 0h2m3 0h5m3 0h1m4 0h1m3 0h1m4 0h0m5 0h2m6 0h0m-73 1h1m5 0h15m3 0h0m3 0h0m3 0h0m5 0h2m8 0h0m6 0h5m3 0h2m5 0h8m5 0h2m7 0h0m5 0h1m-94 1h2m4 0h2m4 0h16m3 0h0m3 0h8m3 0h4m4 0h1m3 0h2m5 0h0m5 0h0m9 0h2m-80 1h1m5 0h21m5 0h0m5 0h1m7 0h0m7 0h0m4 0h0m9 0h0m13 0h0m18 0h0m13 0h0m-109 1h3m6 0h0m3 0h4m3 0h0m3 0h10m5 0h4m3 0h0m10 0h0m8 0h0m5 0h0m6 0h0m-73 1h2m3 0h1m3 0h0m6 0h4m3 0h2m3 0h2m6 0h2m5 0h0m11 0h0m3 0h0m3 0h0m14 0h2m4 0h0m3 0h0m13 0h0m-90 1h2m8 0h2m4 0h0m3 0h6m4 0h1m5 0h0m13 0h0m7 0h1m8 0h0m-69 1h0m5 0h2m3 0h3m4 0h1m3 0h2m4 0h0m3 0h1m3 0h0m3 0h0m5 0h1m3 0h0m7 0h0m3 0h0m6 0h0m17 0h0m6 0h0m21 0h0m-106 1h1m12 0h0m3 0h2m9 0h0m4 0h0m3 0h0m5 0h0m8 0h0m10 0h0m17 0h0m7 0h0m-81 1h2m3 0h0m6 0h1m3 0h5m3 0h3m5 0h1m9 0h0m31 0h0m-72 1h0m5 0h0m6 0h0m6 0h0m7 0h4m4 0h0m38 0h0m-70 1h2m4 0h0m7 0h3m6 0h1m4 0h0m3 0h0m6 0h0m3 0h0m4 0h0m10 0h0m9 0h0m14 0h0m9 0h0m-85 1h0m8 0h0m3 0h0m10 0h1m7 0h2m3 0h0m13 0h0m-47 1h4m6 0h0m3 0h0m4 0h3m9 0h3m4 0h0m26 0h0m6 0h0m14 0h0m-76 1h0m8 0h0m13 0h0m13 0h0m38 0h0m-78 1h1m16 0h0m5 0h0m14 0h0m6 0h1m4 0h2m4 0h0m-53 1h0m16 0h0m6 0h0m19 0h0m-41 1h0m3 0h0m4 0h0m3 0h0m6 0h0m5 0h0m8 0h0m14 0h0m-43 1h1m4 0h0m4 0h1m7 0h0m8 0h0m3 0h0m26 0h0m-47 1h0m5 0h0m5 0h0m4 0h0m34 0h0m7 0h0m-62 1h0m7 0h0m7 0h0m18 0h0m-20 1h0m10 0h0m5 0h1m17 0h0m5 0h0m-48 1h2m13 0h0m3 0h0m9 0h0m-25 1h0m11 0h0m3 0h0m5 0h0m14 0h0m8 0h0m-37 1h0m5 0h0m12 0h0m16 0h0m-27 1h0m21 0h0m-28 1h0m8 0h0m10 0h0m7 0h0m7 0h0m-39 1h0m7 0h1m24 0h0m14 0h1m-47 1h0m20 0h0m6 0h2m59 0h0m-87 1h0m10 1h0m18 0h0m4 0h0m-17 1h0m10 0h0m27 0h0m-52 1h0m9 0h0m10 1h0m27 0h0m-25 1h0m14 0h0m-17 1h0m-3 1h0m13 0h0m4 0h0m-22 1h0m7 0h0m25 0h0m-42 1h0m21 0h0m-18 1h0m40 0h0m7 0h0m0 1h2m-29 1h0m15 0h0m-26 1h0m24 0h0m31 0h0m-21 1h0m2 1h0m-36 1h0m9 0h0m17 8h0"/>
<path d="M471 26h0m14 0h5m7 0h0m6 0h8m3 0h2m3 0h2m3 0h3m4 0h6m3 0h5m4 0h1m3 0h1m3 0h0m14 0h0m23 0h0m-161 1h0m69 0h0m11 0h0m7 0h0m5 0h1m32 0h0m-58 1h0m21 0h0m28 0h0m-50 1h0m11 1h0m9 0h0m19 0h0m-10 1h0m-2 3h0m-64 2h0m-24 2h0m4 0h0m16 0h0m-27 2h0m27 0h0m3 0h0m17 0h0m-14 1h0m17 0h0m-48 1h0m4 0h0m77 0h0m-59 1h0m-21 1h0m33 0h0m22 0h0m34 0h0m-92 1h0m22 0h0m5 0h0m32 0h0m-51 2h0m21 0h0m3 0h0m-32 1h0m24 0h0m37 0h0m6 0h0m11 0h0m7 0h0m12 0h0m-84 1h0m25 0h0m9 0h1m7 0h0m-55 1h0m4 0h0m22 0h0m13 0h0m-39 1h0m3 0h0m21 0h0m17 0h0m-41 1h0m8 0h0m68 0h0m-76 1h0m10 0h0m8 0h0m12 0h0m5 0h0m6 0h0m5 0h0m3 0h1m3 0h0m15 0h0m-68 1h0m5 0h0m14 0h2m13 0h0m8 0h0m10 0h0m16 0h0m17 0h0m-68 1h0m7 0h3m8 0h3m-38 1h2m4 0h0m3 0h0m5 0h0m7 0h0m8 0h0m4 0h2m19 0h0m-54 1h0m15 0h0m16 0h0m13 0h0m6 0h0m18 0h0m-64 1h0m4 0h0m6 0h0m9 0h0m5 0h0m7 0h0m13 0h0m11 0h0m28 0h0m11 0h0m-98 1h0m20 0h0m8 0h2m9 0h2m25 0h0m3 0h0m11 0h0m18 0h1m5 0h0m-104 1h0m5 0h0m10 0h1m3 0h0m3 0h0m4 0h0m3 0h1m30 0h0m12 0h0m-72 1h0m3 0h0m11 0h0m4 0h0m11 0h2m4 0h0m3 0h0m3 0h0m8 0h0m6 0h0m20 0h0m-75 1h0m17 0h0m8 0h0m6 0h0m4 0h0m11 0h0m21 0h0m6 0h2m13 0h0m4 0h0m-92 1h2m8 0h1m4 0h3m5 0h0m3 0h4m7 0h3m14 0h0m39 0h0m39 0h0m-132 1h0m9 0h2m7 0h0m4 0h1m3 0h1m7 0h0m4 0h0m8 0h0m20 0h0m10 0h0m7 0h0m-83 1h0m8 0h2m3 0h0m8 0h0m4 0h0m3 0h0m4 0h2m5 0h2m7 0h0m9 0h0m8 0h0m12 0h0m-77 1h0m6 0h1m8 0h0m4 0h0m3 0h0m5 0h1m4 0h5m9 0h0m9 0h0m6 0h0m4 0h0m16 0h0m5 0h2m20 0h0m-108 1h0m3 0h0m9 0h0m5 0h0m6 0h0m5 0h0m15 0h0m3 0h0m7 0h0m7 0h0m5 0h0m18 0h0m13 0h0m-96 1h0m7 0h0m3 0h0m3 0h4m6 0h0m5 0h0m4 0h0m3 0h1m5 0h0m5 0h1m11 0h0m11 0h1m11 0h0m-77 1h5m5 0h0m4 0h0m5 0h0m8 0h0m3 0h0m6 0h0m5 0h1m10 0h0m5 0h0m-61 1h0m3 0h5m4 0h2m4 0h0m4 0h0m3 0h0m5 0h2m8 0h0m7 0h4m26 0h0m27 0h0m-104 1h0m6 0h2m9 0h0m9 0h4m8 0h1m5 0h0m14 0h1m7 0h0m3 0h0m5 0h0m7 0h0m-81 1h1m5 0h0m8 0h0m6 0h0m3 0h2m3 0h0m15 0h2m9 0h0m3 0h0m10 0h0m7 0h2m6 0h2m5 0h0m13 0h0m-102 1h0m5 0h0m3 0h1m4 0h4m3 0h0m3 0h0m8 0h0m4 0h8m4 0h1m3 0h1m4 0h0m7 0h0m10 0h0m6 0h0m12 0h1m-88 1h1m24 0h0m8 0h1m13 0h0m15 0h0m3 0h0m4 0h0m6 0h3m-82 1h0m9 0h2m5 0h0m8 0h3m4 0h3m8 0h5m10 0h2m5 0h0m5 0h1m10 0h0m-80 1h2m4 0h0m4 0h0m4 0h0m3 0h2m9 0h0m6 0h1m18 0h0m11 0h0m7 0h0m10 0h0m3 0h0m-84 1h2m6 0h1m5 0h2m4 0h0m19 0h0m6 0h0m4 0h0m12 0h1m38 0h0m-100 1h1m3 0h9m3 0h10m4 0h0m8 0h0m3 0h1m3 0h0m3 0h0m21 0h0m5 0h0m15 0h0m4 0h0m-93 1h0m9 0h0m4 0h4m6 0h1m4 0h0m4 0h0m7 0h0m5 0h3m10 0h0m3 0h1m6 0h0m4 0h0m5 0h0m7 0h0m4 0h0m3 0h2m5 0h0m-97 1h0m3 0h0m6 0h2m5 0h0m7 0h4m6 0h0m3 0h2m3 0h1m3 0h0m11 0h0m13 0h0m11 0h0m6 0h0m-86 1h1m4 0h1m11 0h0m3 0h0m4 0h0m7 0h2m4 0h0m3 0h1m6 0h0m6 0h0m4 0h1m11 0h0m3 0h0m3 0h0m-75 1h0m4 0h1m4 0h2m5 0h1m5 0h0m6 0h0m6 0h0m4 0h5m5 0h0m17 0h3m46 0h0m-114 1h0m8 0h0m7 0h1m8 0h0m6 0h0m3 0h2m13 0h0m7 0h2m3 0h0m4 0h0m7 0h0m3 0h0m4 0h0m5 0h0m16 0h0m-99 1h1m14 0h1m3 0h2m3 0h1m3 0h1m7 0h0m7 0h2m12 0h0m4 0h0m42 0h0m5 0h0m-94 1h0m3 0h0m7 0h0m4 0h0m4 0h1m7 0h0m14 0h0m25 0h0m10 0h0m9 0h0m-98 1h0m7 0h0m7 0h1m7 0h0m4 0h0m3 0h6m6 0h0m4 0h0m30 0h0m6 0h0m-81 1h0m3 0h0m10 0h3m3 0h2m6 0h0m3 0h0m6 0h0m7 0h0m7 0h0m3 0h0m8 0h0m43 0h0m-104 1h0m8 0h0m5 0h0m7 0h0m3 0h3m11 0h2m13 0h0m3 0h0m10 0h0m10 0h1m4 0h0m-78 1h0m4 0h0m4 0h2m28 0h0m19 0h1m5 0h0m5 0h0m26 0h0m-96 1h0m4 0h0m3 0h0m15 0h2m4 0h1m4 0h0m4 0h0m11 0h0m3 0h0m12 0h0m5 0h2m9 0h0m-79 1h1m9 0h0m3 0h0m4 0h0m13 0h0m5 0h0m19 0h0m6 0h0m9 0h0m4 0h2m9 0h0m-81 1h0m8 0h7m9 0h1m3 0h1m3 0h3m20 0h0m12 0h0m3 0h2m6 0h0m-79 1h0m3 0h1m7 0h2m6 0h0m3 0h3m23 0h2m25 0h0m11 0h1m3 0h0m-92 1h0m3 0h0m3 0h0m4 0h1m6 0h0m3 0h1m6 0h0m3 0h0m7 0h0m14 0h0m3 0h0m5 0h0m4 0h0m7 0h0m3 0h0m13 0h1m-87 1h2m13 0h0m8 0h2m4 0h0m4 0h0m3 0h0m32 0h0m8 0h0m19 0h0m-95 1h0m6 0h3m6 0h0m7 0h3m3 0h4m4 0h0m17 0h0m6 0h4m13 0h0m10 0h0m-86 1h0m12 0h0m5 0h9m6 0h0m5 0h4m3 0h2m8 0h1m3 0h0m7 0h1m5 0h0m20 0h0m-91 1h0m4 0h3m8 0h0m5 0h1m10 0h0m11 0h2m3 0h2m20 0h0m3 0h0m13 0h0m9 0h0m-94 1h6m14 0h4m6 0h0m4 0h5m10 0h0m31 0h0m12 0h0m3 0h0m8 0h0m-102 1h0m5 0h1m3 0h7m3 0h1m5 0h0m24 0h0m12 0h0m10 0h4m21 0h2m8 0h0m-103 1h4m4 0h0m10 0h6m8 0h1m5 0h0m7 0h3m7 0h1m5 0h1m8 0h4m6 0h0m13 0h0m-97 1h1m8 0h6m7 0h5m4 0h0m4 0h4m3 0h0m3 0h2m7 0h0m19 0h0m3 0h2m18 0h0m15 0h0m-111 1h0m9 0h0m3 0h0m10 0h0m8 0h0m4 0h2m11 0h3m4 0h0m4 0h0m7 0h1m3 0h0m3 0h8m7 0h0m11 0h0m-98 1h1m7 0h0m3 0h4m15 0h0m3 0h0m6 0h0m4 0h1m4 0h0m4 0h1m4 0h2m6 0h0m8 0h0m6 0h0m3 0h4m4 0h0m-86 1h0m6 0h2m3 0h1m6 0h8m3 0h0m3 0h0m3 0h0m8 0h4m4 0h1m8 0h0m3 0h0m6 0h3m5 0h0m3 0h0m9 0h1m5 0h0m-99 1h0m4 0h0m6 0h0m4 0h0m4 0h0m6 0h0m6 0h5m3 0h4m4 0h7m3 0h0m5 0h11m3 0h0m6 0h0m3 0h0m17 0h0m6 0h0m-107 1h0m5 0h0m5 0h0m4 0h0m3 0h9m3 0h3m5 0h2m4 0h1m11 0h2m7 0h0m3 0h6m7 0h0m10 0h0m3 0h0m6 0h0m-99 1h0m6 0h7m3 0h2m10 0h8m4 0h2m4 0h1m5 0h3m4 0h0m3 0h2m3 0h3m5 0h3m3 0h1m6 0h2m13 0h0m-103 1h0m5 0h0m4 0h0m6 0h0m5 0h4m4 0h5m4 0h2m3 0h0m6 0h7m4 0h3m9 0h3m3 0h4m9 0h1m-91 1h0m3 0h0m5 0h0m4 0h0m3 0h0m3 0h0m4 0h1m3 0h4m7 0h6m3 0h2m7 0h0m5 0h1m3 0h2m3 0h3m3 0h2m6 0h2m7 0h0m5 0h0m-97 1h0m3 0h7m3 0h7m3 0h0m3 0h2m3 0h2m4 0h6m3 0h4m3 0h1m3 0h7m3 0h5m3 0h1m4 0h4m3 0h0m34 0h0m-121 1h3m5 0h0m6 0h1m3 0h8m3 0h9m3 0h0m4 0h1m3 0h6m3 0h0m4 0h0m4 0h1m3 0h3m3 0h5m3 0h0m5 0h2m11 0h0m-102 1h3m5 0h5m5 0h1m5 0h3m3 0h1m3 0h0m5 0h0m3 0h0m6 0h0m4 0h0m5 0h2m4 0h5m3 0h2m4 0h2m3 0h0m7 0h0m12 0h0m-101 1h0m3 0h4m4 0h0m4 0h11m5 0h13m5 0h17m3 0h3m4 0h1m4 0h3m4 0h1m-89 1h0m3 0h0m3 0h0m3 0h0m3 0h0m5 0h0m3 0h2m3 0h1m5 0h5m3 0h5m8 0h0m3 0h0m4 0h1m3 0h0m3 0h12m5 0h0m-83 1h0m8 0h0m3 0h6m4 0h7m3 0h2m5 0h2m6 0h3m14 0h13m3 0h0m9 0h0m6 0h0m3 0h0m3 0h0m-100 1h4m3 0h0m5 0h0m4 0h0m6 0h2m3 0h19m3 0h5m3 0h2m3 0h1m4 0h1m3 0h0m5 0h5m3 0h0m4 0h0m-88 1h10m7 0h22m3 0h13m4 0h0m3 0h1m3 0h0m3 0h0m3 0h6m7 0h0m6 0h4m4 0h0m-99 1h0m3 0h5m5 0h4m3 0h0m4 0h1m3 0h5m3 0h14m5 0h0m11 0h13m3 0h1m9 0h0m3 0h0m7 0h0m-102 1h3m3 0h5m3 0h0m5 0h0m3 0h25m4 0h0m4 0h8m4 0h1m3 0h0m3 0h0m3 0h2m7 0h2m8 0h0m10 0h0m-106 1h0m6 0h10m3 0h3m3 0h2m3 0h5m3 0h6m4 0h1m7 0h1m3 0h11m4 0h0m11 0h0m4 0h0m-90 1h0m4 0h12m6 0h18m4 0h1m3 0h4m5 0h6m3 0h0m4 0h4m6 0h5m17 0h2m-104 1h3m3 0h0m3 0h2m3 0h8m5 0h5m3 0h2m3 0h2m5 0h0m3 0h1m4 0h0m4 0h2m6 0h2m3 0h0m13 0h0m19 0h0m-104 1h1m3 0h0m4 0h2m4 0h0m7 0h0m3 0h2m5 0h1m3 0h0m4 0h1m4 0h4m3 0h0m4 0h0m4 0h3m3 0h0m4 0h9m4 0h1m5 0h0m3 0h0m-91 1h0m3 0h1m4 0h0m3 0h7m3 0h13m4 0h1m3 0h3m4 0h3m7 0h3m3 0h0m3 0h9m12 0h0m-89 1h1m4 0h0m4 0h8m3 0h0m3 0h17m4 0h0m8 0h17m3 0h0m7 0h0m4 0h0m15 0h0m-98 1h33m3 0h4m3 0h2m4 0h3m4 0h0m5 0h0m4 0h2m3 0h7m7 0h1m4 0h0m-89 1h0m7 0h1m6 0h2m8 0h4m3 0h6m3 0h0m9 0h4m5 0h0m5 0h0m3 0h2m3 0h0m17 0h0m9 0h2m-99 1h1m4 0h1m3 0h8m5 0h3m3 0h2m3 0h2m3 0h5m3 0h1m4 0h1m3 0h1m4 0h0m5 0h2m6 0h0m-73 1h1m5 0h15m3 0h0m3 0h0m3 0h0m5 0h2m8 0h0m6 0h5m3 0h2m5 0h8m5 0h2m7 0h0m5 0h1m-94 1h2m4 0h2m4 0h16m3 0h0m3 0h8m3 0h4m4 0h1m3 0h2m5 0h0m5 0h0m9 0h2m-80 1h1m5 0h21m5 0h0m5 0h1m7 0h0m7 0h0m4 0h0m9 0h0m13 0h0m18 0h0m13 0h0m-109 1h3m6 0h0m3 0h4m3 0h0m3 0h10m5 0h4m3 0h0m10 0h0m8 0h0m5 0h0m6 0h0m-73 1h2m3 0h1m3 0h0m6 0h4m3 0h2m3 0h2m6 0h2m5 0h0m11 0h0m3 0h0m3 0h0m14 0h2m4 0h0m3 0h0m13 0h0m-90 1h2m8 0h2m4 0h0m3 0h6m4 0h1m5 0h0m13 0h0m7 0h1m8 0h0m-69 1h0m5 0h2m3 0h3m4 0h1m3 0h2m4 0h0m3 0h1m3 0h0m3 0h0m5 0h1m3 0h0m7 0h0m3 0h0m6 0h0m17 0h0m6 0h0m21 0h0m-106 1h1m12 0h0m3 0h2m9 0h0m4 0h0m3 0h0m5 0h0m8 0h0m10 0h0m17 0h0m7 0h0m-81 1h2m3 0h0m6 0h1m3 0h5m3 0h3m5 0h1m9 0h0m31 0h0m-72 1h0m5 0h0m6 0h0m6 0h0m7 0h4m4 0h0m38 0h0m-70 1h2m4 0h0m7 0h3m6 0h1m4 0h0m3 0h0m6 0h0m3 0h0m4 0h0m10 0h0m9 0h0m14 0h0m9 0h0m-85 1h0m8 0h0m3 0h0m10 0h1m7 0h2m3 0h0m13 0h0m-47 1h4m6 0h0m3 0h0m4 0h3m9 0h3m4 0h0m26 0h0m6 0h0m14 0h0m-76 1h0m8 0h0m13 0h0m13 0h0m38 0h0m-78 1h1m16 0h0m5 0h0m14 0h0m6 0h1m4 0h2m4 0h0m-53 1h0m16 0h0m6 0h0m19 0h0m-41 1h0m3 0h0m4 0h0m3 0h0m6 0h0m5 0h0m8 0h0m14 0h0m-43 1h1m4 0h0m4 0h1m7 0h0m8 0h0m3 0h0m26 0h0m-47 1h0m5 0h0m5 0h0m4 0h0m34 0h0m7 0h0m-62 1h0m7 0h0m7 0h0m18 0h0m-20 1h0m10 0h0m5 0h1m17 0h0m5 0h0m-48 1h2m13 0h0m3 0h0m9 0h0m-25 1h0m11 0h0m3 0h0m5 0h0m14 0h0m8 0h0m-37 1h0m5 0h0m12 0h0m16 0h0m-27 1h0m21 0h0m-28 1h0m8 0h0m10 0h0m7 0h0m7 0h0m-39 1h0m7 0h1m24 0h0m14 0h1m-47 1h0m20 0h0m6 0h2m59 0h0m-87 1h0m10 1h0m18 0h0m4 0h0m-17 1h0m10 0h0m27 0h0m-52 1h0m9 0h0m10 1h0m27 0h0m-25 1h0m14 0h0m-17 1h0m-3 1h0m13 0h0m4 0h0m-22 1h0m7 0h0m25 0h0m-42 1h0m21 0h0m-18 1h0m40 0h0m7 0h0m0 1h2m-29 1h0m15 0h0m-26 1h0m24 0h0m31 0h0m-21 1h0m2 1h0m-36 1h0m9 0h0m17 8h0"/>
<path d="M741 80h0m16 16h0m20 4h0m-24 4h0m16 6h0m-34 6h0m46 4h0m-20 2h2m-18 2h0m14 0h0m4 0h0m28 0h0m-30 2h0m6 2h0m-12 4h0m34 3h0m16 1h0m-19 4h0m3 0h0m4 0h0m6 0h0m-23 1h0m-5 1h0m3 0h0m3 0h0m17 0h1m-22 1h0m5 0h0m3 0h2m15 0h3m-34 1h0m16 0h0m-11 1h2m9 0h0m4 0h0m-2 1h0m-17 1h0m8 0h0m6 0h1m13 0h0m-25 1h0m4 0h0m5 0h0m3 0h2m7 0h0m-11 1h0m5 0h4m4 0h0m11 0h0m6 0h0m-50 1h1m6 0h1m9 0h3m13 0h0m-30 1h1m6 0h1m3 0h0m3 0h1m4 0h0m3 0h0m3 0h0m9 0h1m4 0h0m-42 1h0m5 0h13m10 0h0m8 0h0m-36 1h2m8 0h1m6 0h3m4 0h5m4 0h2m13 0h0m-45 1h1m3 0h1m3 0h6m3 0h0m14 0h0m12 0h0m-50 1h1m7 0h6m8 0h6m7 0h0m11 0h0m3 0h0m26 0h0m-71 1h0m3 0h0m5 0h1m3 0h2m6 0h7m6 0h2m6 0h0m-51 1h0m7 0h2m4 0h4m3 0h0m3 0h0m4 0h0m3 0h11m18 0h0m-51 1h0m3 0h1m3 0h7m5 0h10m6 0h3m6 0h0m-48 1h0m3 0h0m10 0h8m3 0h2m3 0h0m4 0h1m4 0h0m3 0h5m6 0h0m3 0h1m-62 1h0m4 0h0m3 0h0m3 0h4m3 0h1m3 0h0m3 0h1m6 0h5m4 0h0m3 0h6m19 0h0m-61 1h1m3 0h7m6 0h5m3 0h6m3 0h0m3 0h0m5 0h1m-48 1h2m7 0h3m3 0h3m3 0h10m3 0h2m3 0h0m6 0h3m5 0h4m5 0h0m5 0h0m-66 1h0m4 0h0m3 0h2m7 0h12m3 0h1m4 0h13m4 0h1m5 0h1m3 0h0m-66 1h2m4 0h0m4 0h8m5 0h9m3 0h3m3 0h4m3 0h0m7 0h1m4 0h1m11 0h0m-70 1h0m3 0h2m3 0h3m4 0h7m3 0h19m3 0h1m7 0h5m19 0h0m8 0h0m-83 1h0m4 0h5m3 0h5m5 0h0m4 0h3m4 0h2m3 0h1m4 0h3m3 0h1m3 0h1m10 0h0m-74 1h2m4 0h9m4 0h21m3 0h4m5 0h4m4 0h0m3 0h5m-65 1h32m3 0h13m16 0h1m7 0h0m-72 1h5m3 0h1m3 0h16m3 0h6m3 0h3m5 0h0m6 0h0m6 0h0m3 0h0m22 0h0m-87 1h2m5 0h32m4 0h3m5 0h2m11 0h0m4 0h0m-72 1h1m4 0h3m3 0h4m3 0h12m4 0h14m7 0h0m4 0h1m7 0h0m-71 1h0m4 0h2m4 0h18m3 0h13m3 0h3m3 0h0m3 0h0m3 0h5m5 0h5m-73 1h1m6 0h4m3 0h21m5 0h3m3 0h9m3 0h5m3 0h1m5 0h0m9 0h0m7 0h0m47 0h0m-131 1h13m3 0h5m3 0h2m3 0h7m3 0h15m6 0h1m3 0h0m3 0h0m7 0h2m-83 1h1m5 0h0m3 0h13m3 0h2m4 0h4m3 0h4m5 0h5m5 0h6m3 0h4m4 0h0m3 0h1m3 0h2m-84 1h0m3 0h6m3 0h34m4 0h2m3 0h10m3 0h2m5 0h4m-76 1h0m3 0h3m3 0h20m3 0h9m5 0h1m5 0h3m4 0h0m3 0h1m5 0h2m3 0h0m4 0h0m-80 1h0m5 0h26m4 0h1m3 0h8m4 0h5m3 0h5m3 0h2m5 0h0m3 0h0m-80 1h45m4 0h3m5 0h5m3 0h1m4 0h2m8 0h1m6 0h0m-85 1h35m3 0h5m3 0h1m4 0h0m4 0h7m4 0h0m3 0h2m3 0h0m6 0h0m3 0h0m5 0h0m-89 1h19m3 0h26m6 0h0m3 0h0m4 0h0m4 0h4m3 0h4m4 0h0m5 0h2m-92 1h3m3 0h30m4 0h3m3 0h10m10 0h3m4 0h0m3 0h0m3 0h2m6 0h0m-85 1h0m3 0h39m6 0h0m7 0h0m3 0h0m6 0h1m3 0h1m3 0h1m6 0h0m10 0h3m-95 1h10m3 0h4m3 0h0m6 0h4m3 0h4m5 0h6m3 0h5m13 0h2m6 0h0m4 0h0m8 0h0m4 0h0m6 0h0m-99 1h0m3 0h2m5 0h25m10 0h0m3 0h3m6 0h0m7 0h1m7 0h1m5 0h1m4 0h0m3 0h0m-83 1h0m5 0h2m3 0h9m6 0h8m5 0h2m4 0h0m4 0h0m21 0h0m10 0h2m7 0h0m6 0h0m-97 1h81m6 0h1m3 0h0"/>
<path d="M741 80h0m16 16h0m20 4h0m-24 4h0m16 6h0m-34 6h0m46 4h0m-20 2h2m-18 2h0m14 0h0m4 0h0m28 0h0m-30 2h0m6 2h0m-12 4h0m34 3h0m16 1h0m-19 4h0m3 0h0m4 0h0m6 0h0m-23 1h0m-5 1h0m3 0h0m3 0h0m17 0h1m-22 1h0m5 0h0m3 0h2m15 0h3m-34 1h0m16 0h0m-11 1h2m9 0h0m4 0h0m-2 1h0m-17 1h0m8 0h0m6 0h1m13 0h0m-25 1h0m4 0h0m5 0h0m3 0h2m7 0h0m-11 1h0m5 0h4m4 0h0m11 0h0m6 0h0m-50 1h1m6 0h1m9 0h3m13 0h0m-30 1h1m6 0h1m3 0h0m3 0h1m4 0h0m3 0h0m3 0h0m9 0h1m4 0h0m-42 1h0m5 0h13m10 0h0m8 0h0m-36 1h2m8 0h1m6 0h3m4 0h5m4 0h2m13 0h0m-45 1h1m3 0h1m3 0h6m3 0h0m14 0h0m12 0h0m-50 1h1m7 0h6m8 0h6m7 0h0m11 0h0m3 0h0m26 0h0m-71 1h0m3 0h0m5 0h1m3 0h2m6 0h7m6 0h2m6 0h0m-51 1h0m7 0h2m4 0h4m3 0h0m3 0h0m4 0h0m3 0h11m18 0h0m-51 1h0m3 0h1m3 0h7m5 0h10m6 0h3m6 0h0m-48 1h0m3 0h0m10 0h8m3 0h2m3 0h0m4 0h1m4 0h0m3 0h5m6 0h0m3 0h1m-62 1h0m4 0h0m3 0h0m3 0h4m3 0h1m3 0h0m3 0h1m6 0h5m4 0h0m3 0h6m19 0h0m-61 1h1m3 0h7m6 0h5m3 0h6m3 0h0m3 0h0m5 0h1m-48 1h2m7 0h3m3 0h3m3 0h10m3 0h2m3 0h0m6 0h3m5 0h4m5 0h0m5 0h0m-66 1h0m4 0h0m3 0h2m7 0h12m3 0h1m4 0h13m4 0h1m5 0h1m3 0h0m-66 1h2m4 0h0m4 0h8m5 0h9m3 0h3m3 0h4m3 0h0m7 0h1m4 0h1m11 0h0m-70 1h0m3 0h2m3 0h3m4 0h7m3 0h19m3 0h1m7 0h5m19 0h0m8 0h0m-83 1h0m4 0h5m3 0h5m5 0h0m4 0h3m4 0h2m3 0h1m4 0h3m3 0h1m3 0h1m10 0h0m-74 1h2m4 0h9m4 0h21m3 0h4m5 0h4m4 0h0m3 0h5m-65 1h32m3 0h13m16 0h1m7 0h0m-72 1h5m3 0h1m3 0h16m3 0h6m3 0h3m5 0h0m6 0h0m6 0h0m3 0h0m22 0h0m-87 1h2m5 0h32m4 0h3m5 0h2m11 0h0m4 0h0m-72 1h1m4 0h3m3 0h4m3 0h12m4 0h14m7 0h0m4 0h1m7 0h0m-71 1h0m4 0h2m4 0h18m3 0h13m3 0h3m3 0h0m3 0h0m3 0h5m5 0h5m-73 1h1m6 0h4m3 0h21m5 0h3m3 0h9m3 0h5m3 0h1m5 0h0m9 0h0m7 0h0m47 0h0m-131 1h13m3 0h5m3 0h2m3 0h7m3 0h15m6 0h1m3 0h0m3 0h0m7 0h2m-83 1h1m5 0h0m3 0h13m3 0h2m4 0h4m3 0h4m5 0h5m5 0h6m3 0h4m4 0h0m3 0h1m3 0h2m-84 1h0m3 0h6m3 0h34m4 0h2m3 0h10m3 0h2m5 0h4m-76 1h0m3 0h3m3 0h20m3 0h9m5 0h1m5 0h3m4 0h0m3 0h1m5 0h2m3 0h0m4 0h0m-80 1h0m5 0h26m4 0h1m3 0h8m4 0h5m3 0h5m3 0h2m5 0h0m3 0h0m-80 1h45m4 0h3m5 0h5m3 0h1m4 0h2m8 0h1m6 0h0m-85 1h35m3 0h5m3 0h1m4 0h0m4 0h7m4 0h0m3 0h2m3 0h0m6 0h0m3 0h0m5 0h0m-89 1h19m3 0h26m6 0h0m3 0h0m4 0h0m4 0h4m3 0h4m4 0h0m5 0h2m-92 1h3m3 0h30m4 0h3m3 0h10m10 0h3m4 0h0m3 0h0m3 0h2m6 0h0m-85 1h0m3 0h39m6 0h0m7 0h0m3 0h0m6 0h1m3 0h1m3 0h1m6 0h0m10 0h3m-95 1h10m3 0h4m3 0h0m6 0h4m3 0h4m5 0h6m3 0h5m13 0h2m6 0h0m4 0h0m8 0h0m4 0h0m6 0h0m-99 1h0m3 0h2m5 0h25m10 0h0m3 0h3m6 0h0m7 0h1m7 0h1m5 0h1m4 0h0m3 0h0m-83 1h0m5 0h2m3 0h9m6 0h8m5 0h2m4 0h0m4 0h0m21 0h0m10 0h2m7 0h0m6 0h0m-97 1h81m6 0h1m3 0h0"/>
<path d="M123 231h21m59 0h0m4 0h0m8 0h0m-92 1h0m3 0h0m6 0h0m-8 1h0m28 0h0m-29 1h0m7 0h0m74 0h0m-81 1h0m4 0h0m10 0h0m9 0h0m-19 1h0m3 0h0m4 0h0m19 0h0m14 0h0m55 0h0m-99 1h0m5 0h0m35 0h0m-36 1h0m4 0h0m5 0h0m-13 1h0m3 0h0m3 0h9m5 0h0m-20 1h0m8 0h0m6 0h0m10 0h0m91 0h0m-115 1h6m3 0h0m6 0h0m3 0h0m3 0h0m6 0h0m-27 1h0m9 0h0m5 0h2m5 0h0m30 0h0m-51 1h2m15 0h0m6 0h0m75 0h0m-98 1h0m8 0h0m5 0h0m3 0h0m6 0h0m-18 1h0m4 0h0m7 0h0m8 0h0m5 0h1m14 0h0m-43 1h0m7 0h0m3 0h0m3 0h0m15 0h0m3 0h0m-31 1h0m4 0h0m3 0h4m10 0h0m7 0h0m-28 1h1m5 0h0m4 0h0m3 0h2m3 0h0m15 0h0m30 0h0m-63 1h0m5 0h2m6 0h1m3 0h0m6 0h0m5 0h0m47 0h0m12 0h0m-79 1h0m5 0h2m6 0h0m20 0h0m34 0h0m3 0h0m32 0h0m-110 1h0m5 0h0m8 0h2m4 0h0m4 0h0m3 0h0m4 0h0m5 0h0m15 0h0m8 0h0m12 0h0m3 0h0m4 0h0m21 0h0m-98 1h0m9 0h0m3 0h0m23 0h0m-35 1h2m3 0h4m6 0h0m4 0h0m3 0h0m26 0h0m12 0h0m16 0h0m10 0h0m26 0h0m-107 1h0m3 0h2m6 0h0m5 0h0m73 0h0m17 0h0m11 0h0m-122 1h5m4 0h2m3 0h0m8 0h0m10 0h2m32 0h0m-63 1h0m10 0h3m3 0h2m5 0h2m84 0h0m-112 1h1m10 0h2m17 0h0m7 0h0m47 0h0m15 0h0m-99 1h6m3 0h0m4 0h2m6 0h0m4 0h0m3 0h0m6 0h0m28 0h0m15 0h0m8 0h0m-85 1h0m5 0h0m10 0h1m6 0h0m7 0h0m3 0h0m6 0h0m3 0h0m19 0h0m46 0h0m-106 1h0m3 0h0m3 0h5m3 0h1m4 0h2m4 0h0m10 0h0m6 0h0m12 0h0m4 0h0m-57 1h0m3 0h0m4 0h0m3 0h0m3 0h2m5 0h0m17 0h0m3 0h2m21 0h2m7 0h0m-72 1h0m4 0h0m8 0h3m3 0h0m5 0h1m6 0h0m3 0h0m3 0h1m5 0h0m7 0h0m4 0h0m46 0h0m16 0h0m-115 1h4m5 0h12m10 0h0m8 0h0m3 0h0m29 0h0m13 0h0m-84 1h1m5 0h4m6 0h0m4 0h1m13 0h0m6 0h1m18 0h0m-59 1h0m3 0h5m6 0h5m4 0h3m3 0h0m7 0h0m49 0h0m-85 1h7m3 0h3m3 0h4m3 0h2m3 0h2m3 0h0m49 0h0m6 0h0m6 0h0m3 0h0m6 0h0m-103 1h0m3 0h2m4 0h8m4 0h9m9 0h0m69 0h0m-105 1h3m3 0h5m4 0h0m4 0h0m6 0h1m5 0h1m6 0h0m13 0h0m11 0h2m40 0h0m-107 1h3m7 0h2m8 0h0m9 0h1m3 0h2m14 0h2m27 0h0m4 0h0m16 0h0m-98 1h0m3 0h8m4 0h0m3 0h3m3 0h0m3 0h0m5 0h2m8 0h1m34 0h0m21 0h0m-98 1h0m3 0h16m16 0h0m3 0h0m14 0h0m4 0h0m7 0h0m5 0h0m15 0h0m4 0h0m-87 1h0m4 0h0m7 0h1m6 0h2m4 0h0m5 0h2m4 0h2m7 0h0m24 0h0m19 0h0m-87 1h6m4 0h1m6 0h1m4 0h2m4 0h0m5 0h0m3 0h0m10 0h0m9 0h0m28 0h0m4 0h0m7 0h0m-92 1h0m7 0h1m5 0h3m6 0h2m10 0h0m11 0h0m12 0h0m5 0h0m53 0h0m-117 1h0m3 0h8m4 0h5m4 0h0m4 0h4m6 0h3m6 0h0m14 0h0m3 0h0m17 0h0m-81 1h3m3 0h4m7 0h3m4 0h0m6 0h0m6 0h0m7 0h0m12 0h2m14 0h0m-69 1h12m5 0h2m3 0h0m6 0h0m5 0h2m9 0h1m4 0h0m17 0h0m26 0h0m-94 1h1m3 0h6m6 0h2m12 0h0m11 0h1m24 0h0m41 0h0m-107 1h0m5 0h0m4 0h0m8 0h4m4 0h3m3 0h3m3 0h0m9 0h0m43 0h0m17 0h0m-106 1h6m5 0h0m6 0h0m3 0h0m8 0h2m4 0h0m9 0h0m5 0h0m7 0h3m22 0h0m23 0h0m-103 1h0m3 0h0m5 0h3m3 0h2m4 0h0m6 0h4m3 0h3m3 0h0m31 0h0m26 0h0m9 0h0m-105 1h3m4 0h4m15 0h0m4 0h4m4 0h0m7 0h0m21 0h0m9 0h0m4 0h0m-79 1h2m6 0h4m3 0h0m3 0h0m5 0h0m3 0h1m37 0h0m8 0h0m26 0h0m-96 1h1m6 0h2m7 0h0m4 0h0m12 0h2m7 0h0m10 0h0m8 0h0m-61 1h2m6 0h4m4 0h0m3 0h0m8 0h2m5 0h1m3 0h0m4 0h0m11 0h1m5 0h0m-59 1h0m7 0h0m4 0h6m3 0h1m16 0h4m5 0h0m35 0h0m-81 1h1m6 0h6m6 0h0m6 0h3m20 0h0m19 0h0m3 0h0m9 0h0m-79 1h0m8 0h0m12 0h0m7 0h3m7 0h0m23 0h0m15 0h0m-75 1h2m4 0h0m11 0h2m7 0h4m4 0h1m3 0h3m5 0h0m4 0h0m29 0h0m8 0h0m-87 1h1m5 0h0m3 0h0m3 0h0m4 0h0m5 0h0m8 0h0m18 0h3m31 0h0m-81 1h0m4 0h0m10 0h1m3 0h1m6 0h2m10 0h1m4 0h0m30 0h0m15 0h0m-75 1h2m21 0h2m17 0h0m51 0h0m-96 1h0m5 0h0m4 0h4m3 0h0m3 0h3m3 0h2m5 0h0m4 0h0m15 0h0m-60 1h0m5 0h0m6 0h2m4 0h0m6 0h0m5 0h2m7 0h0m3 0h1m3 0h0m5 0h0m4 0h0m24 0h2m7 0h0m-85 1h0m5 0h0m6 0h4m3 0h2m4 0h0m18 0h0m24 0h0m24 0h0m7 0h0m-95 1h0m7 0h0m5 0h2m3 0h0m3 0h0m3 0h0m9 0h0m4 0h0m18 0h0m57 0h0m-114 1h1m7 0h0m14 0h0m3 0h0m5 0h0m9 0h1m3 0h0m15 0h0m9 0h0m7 0h0m-74 1h0m10 0h0m6 0h0m3 0h1m5 0h0m5 0h2m8 0h1m-41 1h0m4 0h0m7 0h0m6 0h0m5 0h0m3 0h0m3 0h0m4 0h0m-28 1h2m8 0h0m16 0h0m20 0h0m4 0h0m35 0h0m-86 1h0m7 0h0m3 0h1m7 0h0m4 0h2m7 0h2m10 0h0m12 0h0m-58 1h0m19 0h0m6 0h0m7 0h0m7 0h0m12 0h0m-41 1h0m16 0h0m11 0h3m3 0h0m15 0h1m26 0h0m5 0h0m3 0h0m4 0h0m-97 1h2m8 0h0m15 0h0m6 0h1m9 0h2m40 0h1m-50 1h2m11 0h1m14 0h0m5 0h0m27 0h0m-94 1h0m13 0h2m4 0h0m16 0h0m17 0h0m11 0h0m18 0h0m3 0h0m5 0h0m-82 1h1m13 0h0m6 0h0m11 0h2m5 0h0m6 0h0m-51 1h0m17 0h0m3 0h0m9 0h1m5 0h3m22 0h0m-51 1h0m5 0h2m9 0h0m12 0h1m22 0h0m5 0h0m26 0h0m21 0h0m-87 1h2m5 0h0m10 0h0m3 0h0m7 0h1m17 0h0m18 0h0m-74 1h0m25 0h1m4 0h0m4 0h0m4 0h0m-51 1h0m13 0h0m11 0h2m12 0h0m36 0h0m3 0h0m11 0h0m11 0h0m-92 1h1m10 0h0m4 0h0m18 0h0m9 0h0m19 0h0m-63 1h0m26 0h0m24 0h0m3 0h0m16 0h0m13 0h0m8 0h0m-76 1h0m4 0h0m11 0h1m12 0h0m5 0h0m5 0h0m12 0h0m11 0h0m3 0h0m4 0h0m-88 1h0m19 0h0m15 0h0m5 0h1m6 0h0m10 0h0m12 0h0m20 0h0m3 0h0m17 0h0m-97 1h0m10 0h0m3 0h2m4 0h0m5 0h0m8 0h0m3 0h0m55 0h2m6 0h0m-95 1h0m11 0h0m8 0h0m3 0h1m6 0h0m5 0h0m8 0h0m6 0h0m31 0h0m-67 1h0m7 0h0m5 0h2m7 0h0m9 0h0m3 0h0m14 0h0m10 0h0m3 0h0m-86 1h0m16 0h0m9 0h0m25 0h0m10 0h2m3 0h0m3 0h0m10 0h0m15 0h0m16 0h0m-90 1h0m8 0h2m12 0h0m8 0h2m6 0h0m5 0h0m6 0h1m13 0h0m5 0h0m13 0h0m-92 1h0m29 0h0m3 0h1m7 0h0m3 0h0m4 0h0m3 0h0m5 0h0m6 0h1m5 0h0m27 0h0m8 0h0m-79 1h0m12 0h0m5 0h0m14 0h0m4 0h2m7 0h0m7 0h1m5 0h0m-57 1h1m5 0h0m4 0h4m3 0h3m3 0h0m4 0h0m5 0h0m7 0h0m3 0h0m10 0h0m13 0h0m-86 1h0m13 0h0m11 0h7m4 0h1m7 0h0m4 0h0m12 0h0m12 0h0m4 0h0m16 0h0m20 0h0m-105 1h0m15 0h0m3 0h4m3 0h2m3 0h2m8 0h1m4 0h0m3 0h0m14 0h0m3 0h0m6 0h0m10 0h2m-93 1h0m11 0h0m5 0h6m8 0h4m4 0h0m4 0h0m6 0h0m3 0h0m5 0h2m3 0h0m6 0h1m4 0h0m7 0h5m6 0h0m12 0h0m3 0h2m6 0h0m-97 1h4m5 0h2m3 0h0m3 0h8m3 0h2m10 0h0m17 0h2m5 0h1m8 0h2m20 0h0m-95 1h0m6 0h0m7 0h0m14 0h8m6 0h0m6 0h0m9 0h4m5 0h1m8 0h1m3 0h0m7 0h0m4 0h0m-96 1h0m4 0h0m9 0h1m3 0h0m5 0h3m3 0h1m3 0h0m3 0h1m5 0h0m3 0h0m4 0h1m3 0h0m3 0h0m3 0h0m3 0h3m6 0h1m6 0h0m11 0h0m15 0h0m-93 1h0m5 0h13m7 0h0m5 0h3m6 0h2m3 0h2m3 0h0m4 0h0m8 0h2m5 0h0m5 0h2m-88 1h0m12 0h1m6 0h3m4 0h2m4 0h0m4 0h1m8 0h1m3 0h0m6 0h0m4 0h2m3 0h3m4 0h0m3 0h0m4 0h0m10 0h0m-82 1h4m7 0h3m3 0h7m4 0h3m3 0h3m8 0h1m4 0h0m3 0h3m9 0h0m7 0h2m9 0h0m4 0h3m-92 1h2m4 0h10m3 0h12m4 0h0m6 0h4m5 0h0m4 0h0m5 0h0m3 0h1m3 0h0m5 0h0m3 0h2m14 0h0m-96 1h0m14 0h3m4 0h0m4 0h0m3 0h0m4 0h5m3 0h3m4 0h0m3 0h3m11 0h0m3 0h0m8 0h0m3 0h0m3 0h4m7 0h0m14 0h0m-101 1h0m9 0h3m3 0h11m5 0h1m3 0h1m4 0h9m4 0h3m6 0h0m3 0h10m4 0h0m10 0h0m-80 1h0m7 0h0m4 0h6m3 0h4m3 0h7m5 0h11m3 0h2m5 0h0m3 0h1m5 0h0m4 0h3m-81 1h1m3 0h0m5 0h16m4 0h0m3 0h4m9 0h4m4 0h0m3 0h1m5 0h0m32 0h0m-91 1h6m3 0h17m4 0h6m6 0h1m3 0h2m4 0h4m16 0h1m17 0h0m-88 1h4m3 0h0m3 0h8m3 0h0m4 0h2m4 0h0m3 0h0m3 0h1m5 0h5m8 0h0m5 0h0m4 0h0m4 0h1m7 0h0m-84 1h2m5 0h10m3 0h0m3 0h16m3 0h0m5 0h0m6 0h1m5 0h0m3 0h0m3 0h1m4 0h0m8 0h0m-80 1h0m5 0h7m3 0h4m3 0h7m4 0h2m3 0h6m5 0h7m9 0h2m4 0h0m3 0h1m4 0h0m5 0h0m12 0h0m-92 1h3m3 0h24m8 0h0m3 0h1m3 0h0m8 0h4m4 0h0m5 0h2m6 0h0m-79 1h5m3 0h1m3 0h16m3 0h1m3 0h0m4 0h0m3 0h5m8 0h2m3 0h0m3 0h1m6 0h0m21 0h0m-83 1h0m6 0h20m7 0h1m16 0h2m4 0h0m3 0h0m4 0h1m3 0h0m4 0h0m23 0h0m-106 1h2m3 0h7m3 0h0m5 0h13m3 0h0m7 0h1m3 0h5m8 0h3m4 0h0m3 0h0m7 0h0m4 0h1m5 0h0m8 0h0m8 0h0m-100 1h0m3 0h2m9 0h13m7 0h4m3 0h1m5 0h0m5 0h4m11 0h0m3 0h0m5 0h5m8 0h0m-90 1h0m13 0h4m4 0h2m3 0h6m4 0h10m6 0h2m3 0h0m3 0h1m3 0h3m12 0h1m3 0h1m3 0h2m8 0h0m-99 1h0m3 0h2m9 0h2m3 0h1m3 0h0m6 0h7m5 0h5m4 0h0m3 0h2m4 0h0m9 0h0m9 0h0m3 0h0m4 0h0m4 0h0m8 0h1m-97 1h0m7 0h0m4 0h5m4 0h1m6 0h4m3 0h7m6 0h2m7 0h0m4 0h0m4 0h0m3 0h1m5 0h0m6 0h0m7 0h2m5 0h0m-90 1h0m3 0h6m4 0h3m3 0h3m5 0h3m3 0h1m4 0h2m4 0h0m3 0h1m5 0h1m6 0h3m3 0h3m4 0h1m6 0h0m6 0h0m7 0h0m-94 1h0m4 0h0m9 0h1m4 0h0m3 0h4m4 0h2m3 0h1m4 0h0m14 0h2m6 0h5m5 0h0m4 0h0m7 0h1m-94 1h0m8 0h0m4 0h0m4 0h0m4 0h1m3 0h2m5 0h1m3 0h5m3 0h1m3 0h3m3 0h0m4 0h0m5 0h0m6 0h0m3 0h0m7 0h2m9 0h0m13 0h0m3 0h1m-106 1h0m22 0h1m5 0h12m3 0h2m3 0h1m4 0h0m5 0h1m3 0h0m17 0h3m5 0h0m4 0h0m4 0h2m-92 1h0m13 0h0m4 0h1m3 0h1m3 0h7m3 0h1m4 0h0m5 0h0m5 0h2m7 0h1m4 0h0m11 0h3m9 0h0m-84 1h0m4 0h1m7 0h0m6 0h8m4 0h2m6 0h5m5 0h2m5 0h0m4 0h0m16 0h2m7 0h0m7 0h0m8 0h0m-107 1h0m15 0h0m7 0h1m3 0h0m3 0h0m4 0h7m4 0h1m5 0h0m5 0h0m13 0h0m5 0h0m15 0h0m18 0h0m-92 1h0m3 0h1m10 0h4m3 0h7m6 0h0m10 0h0m6 0h0m13 0h0m11 0h0m15 0h2m-96 1h0m3 0h0m4 0h0m3 0h2m9 0h0m5 0h5m4 0h0m7 0h0m8 0h0m5 0h0m3 0h1m13 0h3m8 0h0m-74 1h5m4 0h5m4 0h0m5 0h0m5 0h0m7 0h2m4 0h0m15 0h6m3 0h0m3 0h1m6 0h0m17 0h2m-105 1h0m9 0h6m5 0h5m3 0h1m4 0h0m4 0h3m7 0h2m5 0h0m4 0h0m3 0h0m11 0h0m15 0h0m-86 1h0m6 0h0m3 0h7m3 0h0m8 0h2m3 0h2m7 0h0m32 0h0m4 0h2m3 0h0m11 0h0m-100 1h0m10 0h2m4 0h0m5 0h0m4 0h0m5 0h3m13 0h0m8 0h1m9 0h0m20 0h0m4 0h0m25 0h0m-88 1h0m3 0h2m42 0h0m6 0h0m12 0h0m8 0h0m-84 1h0m3 0h0m3 0h6m3 0h3m7 0h3m9 0h0m32 0h0m17 0h0m-82 1h8m6 0h0m14 0h0m14 0h0m15 0h0m4 0h0m9 0h0m-80 1h0m10 0h0m3 0h0m6 0h1m11 0h0m3 0h1m7 0h0m8 0h0m10 0h0m-64 1h0m4 0h2m3 0h1m4 0h0m3 0h1m3 0h1m3 0h0m3 0h2m4 0h0m6 0h0m9 0h0m13 0h0m-64 1h0m14 0h1m4 0h1m4 0h4m10 0h0m6 0h0m13 0h0m37 0h0m7 0h0m-94 1h2m5 0h0m3 0h0m4 0h2m10 0h0m4 0h0m8 0h0m41 0h0m-73 1h0m9 0h2m3 0h0m12 0h0m48 0h0m11 0h0m-82 1h0m9 0h0m4 0h0m-23 1h0m18 0h0m5 0h0m7 0h2m45 0h0m14 0h0m3 0h0m-103 1h2m3 0h0m11 0h1m7 0h0m50 0h2m34 0h0m-95 1h1m5 0h3m3 0h0m11 0h0m47 0h0m-85 1h0m18 0h0m30 0h0m-34 1h0m3 0h0m17 0h0m-17 1h0m18 0h0m24 1h0m-41 1h0m14 0h0m-19 1h0m43 1h0m-37 2h0"/>
<path d="M123 231h21m59 0h0m4 0h0m8 0h0m-92 1h0m3 0h0m6 0h0m-8 1h0m28 0h0m-29 1h0m7 0h0m74 0h0m-81 1h0m4 0h0m10 0h0m9 0h0m-19 1h0m3 0h0m4 0h0m19 0h0m14 0h0m55 0h0m-99 1h0m5 0h0m35 0h0m-36 1h0m4 0h0m5 0h0m-13 1h0m3 0h0m3 0h9m5 0h0m-20 1h0m8 0h0m6 0h0m10 0h0m91 0h0m-115 1h6m3 0h0m6 0h0m3 0h0m3 0h0m6 0h0m-27 1h0m9 0h0m5 0h2m5 0h0m30 0h0m-51 1h2m15 0h0m6 0h0m75 0h0m-98 1h0m8 0h0m5 0h0m3 0h0m6 0h0m-18 1h0m4 0h0m7 0h0m8 0h0m5 0h1m14 0h0m-43 1h0m7 0h0m3 0h0m3 0h0m15 0h0m3 0h0m-31 1h0m4 0h0m3 0h4m10 0h0m7 0h0m-28 1h1m5 0h0m4 0h0m3 0h2m3 0h0m15 0h0m30 0h0m-63 1h0m5 0h2m6 0h1m3 0h0m6 0h0m5 0h0m47 0h0m12 0h0m-79 1h0m5 0h2m6 0h0m20 0h0m34 0h0m3 0h0m32 0h0m-110 1h0m5 0h0m8 0h2m4 0h0m4 0h0m3 0h0m4 0h0m5 0h0m15 0h0m8 0h0m12 0h0m3 0h0m4 0h0m21 0h0m-98 1h0m9 0h0m3 0h0m23 0h0m-35 1h2m3 0h4m6 0h0m4 0h0m3 0h0m26 0h0m12 0h0m16 0h0m10 0h0m26 0h0m-107 1h0m3 0h2m6 0h0m5 0h0m73 0h0m17 0h0m11 0h0m-122 1h5m4 0h2m3 0h0m8 0h0m10 0h2m32 0h0m-63 1h0m10 0h3m3 0h2m5 0h2m84 0h0m-112 1h1m10 0h2m17 0h0m7 0h0m47 0h0m15 0h0m-99 1h6m3 0h0m4 0h2m6 0h0m4 0h0m3 0h0m6 0h0m28 0h0m15 0h0m8 0h0m-85 1h0m5 0h0m10 0h1m6 0h0m7 0h0m3 0h0m6 0h0m3 0h0m19 0h0m46 0h0m-106 1h0m3 0h0m3 0h5m3 0h1m4 0h2m4 0h0m10 0h0m6 0h0m12 0h0m4 0h0m-57 1h0m3 0h0m4 0h0m3 0h0m3 0h2m5 0h0m17 0h0m3 0h2m21 0h2m7 0h0m-72 1h0m4 0h0m8 0h3m3 0h0m5 0h1m6 0h0m3 0h0m3 0h1m5 0h0m7 0h0m4 0h0m46 0h0m16 0h0m-115 1h4m5 0h12m10 0h0m8 0h0m3 0h0m29 0h0m13 0h0m-84 1h1m5 0h4m6 0h0m4 0h1m13 0h0m6 0h1m18 0h0m-59 1h0m3 0h5m6 0h5m4 0h3m3 0h0m7 0h0m49 0h0m-85 1h7m3 0h3m3 0h4m3 0h2m3 0h2m3 0h0m49 0h0m6 0h0m6 0h0m3 0h0m6 0h0m-103 1h0m3 0h2m4 0h8m4 0h9m9 0h0m69 0h0m-105 1h3m3 0h5m4 0h0m4 0h0m6 0h1m5 0h1m6 0h0m13 0h0m11 0h2m40 0h0m-107 1h3m7 0h2m8 0h0m9 0h1m3 0h2m14 0h2m27 0h0m4 0h0m16 0h0m-98 1h0m3 0h8m4 0h0m3 0h3m3 0h0m3 0h0m5 0h2m8 0h1m34 0h0m21 0h0m-98 1h0m3 0h16m16 0h0m3 0h0m14 0h0m4 0h0m7 0h0m5 0h0m15 0h0m4 0h0m-87 1h0m4 0h0m7 0h1m6 0h2m4 0h0m5 0h2m4 0h2m7 0h0m24 0h0m19 0h0m-87 1h6m4 0h1m6 0h1m4 0h2m4 0h0m5 0h0m3 0h0m10 0h0m9 0h0m28 0h0m4 0h0m7 0h0m-92 1h0m7 0h1m5 0h3m6 0h2m10 0h0m11 0h0m12 0h0m5 0h0m53 0h0m-117 1h0m3 0h8m4 0h5m4 0h0m4 0h4m6 0h3m6 0h0m14 0h0m3 0h0m17 0h0m-81 1h3m3 0h4m7 0h3m4 0h0m6 0h0m6 0h0m7 0h0m12 0h2m14 0h0m-69 1h12m5 0h2m3 0h0m6 0h0m5 0h2m9 0h1m4 0h0m17 0h0m26 0h0m-94 1h1m3 0h6m6 0h2m12 0h0m11 0h1m24 0h0m41 0h0m-107 1h0m5 0h0m4 0h0m8 0h4m4 0h3m3 0h3m3 0h0m9 0h0m43 0h0m17 0h0m-106 1h6m5 0h0m6 0h0m3 0h0m8 0h2m4 0h0m9 0h0m5 0h0m7 0h3m22 0h0m23 0h0m-103 1h0m3 0h0m5 0h3m3 0h2m4 0h0m6 0h4m3 0h3m3 0h0m31 0h0m26 0h0m9 0h0m-105 1h3m4 0h4m15 0h0m4 0h4m4 0h0m7 0h0m21 0h0m9 0h0m4 0h0m-79 1h2m6 0h4m3 0h0m3 0h0m5 0h0m3 0h1m37 0h0m8 0h0m26 0h0m-96 1h1m6 0h2m7 0h0m4 0h0m12 0h2m7 0h0m10 0h0m8 0h0m-61 1h2m6 0h4m4 0h0m3 0h0m8 0h2m5 0h1m3 0h0m4 0h0m11 0h1m5 0h0m-59 1h0m7 0h0m4 0h6m3 0h1m16 0h4m5 0h0m35 0h0m-81 1h1m6 0h6m6 0h0m6 0h3m20 0h0m19 0h0m3 0h0m9 0h0m-79 1h0m8 0h0m12 0h0m7 0h3m7 0h0m23 0h0m15 0h0m-75 1h2m4 0h0m11 0h2m7 0h4m4 0h1m3 0h3m5 0h0m4 0h0m29 0h0m8 0h0m-87 1h1m5 0h0m3 0h0m3 0h0m4 0h0m5 0h0m8 0h0m18 0h3m31 0h0m-81 1h0m4 0h0m10 0h1m3 0h1m6 0h2m10 0h1m4 0h0m30 0h0m15 0h0m-75 1h2m21 0h2m17 0h0m51 0h0m-96 1h0m5 0h0m4 0h4m3 0h0m3 0h3m3 0h2m5 0h0m4 0h0m15 0h0m-60 1h0m5 0h0m6 0h2m4 0h0m6 0h0m5 0h2m7 0h0m3 0h1m3 0h0m5 0h0m4 0h0m24 0h2m7 0h0m-85 1h0m5 0h0m6 0h4m3 0h2m4 0h0m18 0h0m24 0h0m24 0h0m7 0h0m-95 1h0m7 0h0m5 0h2m3 0h0m3 0h0m3 0h0m9 0h0m4 0h0m18 0h0m57 0h0m-114 1h1m7 0h0m14 0h0m3 0h0m5 0h0m9 0h1m3 0h0m15 0h0m9 0h0m7 0h0m-74 1h0m10 0h0m6 0h0m3 0h1m5 0h0m5 0h2m8 0h1m-41 1h0m4 0h0m7 0h0m6 0h0m5 0h0m3 0h0m3 0h0m4 0h0m-28 1h2m8 0h0m16 0h0m20 0h0m4 0h0m35 0h0m-86 1h0m7 0h0m3 0h1m7 0h0m4 0h2m7 0h2m10 0h0m12 0h0m-58 1h0m19 0h0m6 0h0m7 0h0m7 0h0m12 0h0m-41 1h0m16 0h0m11 0h3m3 0h0m15 0h1m26 0h0m5 0h0m3 0h0m4 0h0m-97 1h2m8 0h0m15 0h0m6 0h1m9 0h2m40 0h1m-50 1h2m11 0h1m14 0h0m5 0h0m27 0h0m-94 1h0m13 0h2m4 0h0m16 0h0m17 0h0m11 0h0m18 0h0m3 0h0m5 0h0m-82 1h1m13 0h0m6 0h0m11 0h2m5 0h0m6 0h0m-51 1h0m17 0h0m3 0h0m9 0h1m5 0h3m22 0h0m-51 1h0m5 0h2m9 0h0m12 0h1m22 0h0m5 0h0m26 0h0m21 0h0m-87 1h2m5 0h0m10 0h0m3 0h0m7 0h1m17 0h0m18 0h0m-74 1h0m25 0h1m4 0h0m4 0h0m4 0h0m-51 1h0m13 0h0m11 0h2m12 0h0m36 0h0m3 0h0m11 0h0m11 0h0m-92 1h1m10 0h0m4 0h0m18 0h0m9 0h0m19 0h0m-63 1h0m26 0h0m24 0h0m3 0h0m16 0h0m13 0h0m8 0h0m-76 1h0m4 0h0m11 0h1m12 0h0m5 0h0m5 0h0m12 0h0m11 0h0m3 0h0m4 0h0m-88 1h0m19 0h0m15 0h0m5 0h1m6 0h0m10 0h0m12 0h0m20 0h0m3 0h0m17 0h0m-97 1h0m10 0h0m3 0h2m4 0h0m5 0h0m8 0h0m3 0h0m55 0h2m6 0h0m-95 1h0m11 0h0m8 0h0m3 0h1m6 0h0m5 0h0m8 0h0m6 0h0m31 0h0m-67 1h0m7 0h0m5 0h2m7 0h0m9 0h0m3 0h0m14 0h0m10 0h0m3 0h0m-86 1h0m16 0h0m9 0h0m25 0h0m10 0h2m3 0h0m3 0h0m10 0h0m15 0h0m16 0h0m-90 1h0m8 0h2m12 0h0m8 0h2m6 0h0m5 0h0m6 0h1m13 0h0m5 0h0m13 0h0m-92 1h0m29 0h0m3 0h1m7 0h0m3 0h0m4 0h0m3 0h0m5 0h0m6 0h1m5 0h0m27 0h0m8 0h0m-79 1h0m12 0h0m5 0h0m14 0h0m4 0h2m7 0h0m7 0h1m5 0h0m-57 1h1m5 0h0m4 0h4m3 0h3m3 0h0m4 0h0m5 0h0m7 0h0m3 0h0m10 0h0m13 0h0m-86 1h0m13 0h0m11 0h7m4 0h1m7 0h0m4 0h0m12 0h0m12 0h0m4 0h0m16 0h0m20 0h0m-105 1h0m15 0h0m3 0h4m3 0h2m3 0h2m8 0h1m4 0h0m3 0h0m14 0h0m3 0h0m6 0h0m10 0h2m-93 1h0m11 0h0m5 0h6m8 0h4m4 0h0m4 0h0m6 0h0m3 0h0m5 0h2m3 0h0m6 0h1m4 0h0m7 0h5m6 0h0m12 0h0m3 0h2m6 0h0m-97 1h4m5 0h2m3 0h0m3 0h8m3 0h2m10 0h0m17 0h2m5 0h1m8 0h2m20 0h0m-95 1h0m6 0h0m7 0h0m14 0h8m6 0h0m6 0h0m9 0h4m5 0h1m8 0h1m3 0h0m7 0h0m4 0h0m-96 1h0m4 0h0m9 0h1m3 0h0m5 0h3m3 0h1m3 0h0m3 0h1m5 0h0m3 0h0m4 0h1m3 0h0m3 0h0m3 0h0m3 0h3m6 0h1m6 0h0m11 0h0m15 0h0m-93 1h0m5 0h13m7 0h0m5 0h3m6 0h2m3 0h2m3 0h0m4 0h0m8 0h2m5 0h0m5 0h2m-88 1h0m12 0h1m6 0h3m4 0h2m4 0h0m4 0h1m8 0h1m3 0h0m6 0h0m4 0h2m3 0h3m4 0h0m3 0h0m4 0h0m10 0h0m-82 1h4m7 0h3m3 0h7m4 0h3m3 0h3m8 0h1m4 0h0m3 0h3m9 0h0m7 0h2m9 0h0m4 0h3m-92 1h2m4 0h10m3 0h12m4 0h0m6 0h4m5 0h0m4 0h0m5 0h0m3 0h1m3 0h0m5 0h0m3 0h2m14 0h0m-96 1h0m14 0h3m4 0h0m4 0h0m3 0h0m4 0h5m3 0h3m4 0h0m3 0h3m11 0h0m3 0h0m8 0h0m3 0h0m3 0h4m7 0h0m14 0h0m-101 1h0m9 0h3m3 0h11m5 0h1m3 0h1m4 0h9m4 0h3m6 0h0m3 0h10m4 0h0m10 0h0m-80 1h0m7 0h0m4 0h6m3 0h4m3 0h7m5 0h11m3 0h2m5 0h0m3 0h1m5 0h0m4 0h3m-81 1h1m3 0h0m5 0h16m4 0h0m3 0h4m9 0h4m4 0h0m3 0h1m5 0h0m32 0h0m-91 1h6m3 0h17m4 0h6m6 0h1m3 0h2m4 0h4m16 0h1m17 0h0m-88 1h4m3 0h0m3 0h8m3 0h0m4 0h2m4 0h0m3 0h0m3 0h1m5 0h5m8 0h0m5 0h0m4 0h0m4 0h1m7 0h0m-84 1h2m5 0h10m3 0h0m3 0h16m3 0h0m5 0h0m6 0h1m5 0h0m3 0h0m3 0h1m4 0h0m8 0h0m-80 1h0m5 0h7m3 0h4m3 0h7m4 0h2m3 0h6m5 0h7m9 0h2m4 0h0m3 0h1m4 0h0m5 0h0m12 0h0m-92 1h3m3 0h24m8 0h0m3 0h1m3 0h0m8 0h4m4 0h0m5 0h2m6 0h0m-79 1h5m3 0h1m3 0h16m3 0h1m3 0h0m4 0h0m3 0h5m8 0h2m3 0h0m3 0h1m6 0h0m21 0h0m-83 1h0m6 0h20m7 0h1m16 0h2m4 0h0m3 0h0m4 0h1m3 0h0m4 0h0m23 0h0m-106 1h2m3 0h7m3 0h0m5 0h13m3 0h0m7 0h1m3 0h5m8 0h3m4 0h0m3 0h0m7 0h0m4 0h1m5 0h0m8 0h0m8 0h0m-100 1h0m3 0h2m9 0h13m7 0h4m3 0h1m5 0h0m5 0h4m11 0h0m3 0h0m5 0h5m8 0h0m-90 1h0m13 0h4m4 0h2m3 0h6m4 0h10m6 0h2m3 0h0m3 0h1m3 0h3m12 0h1m3 0h1m3 0h2m8 0h0m-99 1h0m3 0h2m9 0h2m3 0h1m3 0h0m6 0h7m5 0h5m4 0h0m3 0h2m4 0h0m9 0h0m9 0h0m3 0h0m4 0h0m4 0h0m8 0h1m-97 1h0m7 0h0m4 0h5m4 0h1m6 0h4m3 0h7m6 0h2m7 0h0m4 0h0m4 0h0m3 0h1m5 0h0m6 0h0m7 0h2m5 0h0m-90 1h0m3 0h6m4 0h3m3 0h3m5 0h3m3 0h1m4 0h2m4 0h0m3 0h1m5 0h1m6 0h3m3 0h3m4 0h1m6 0h0m6 0h0m7 0h0m-94 1h0m4 0h0m9 0h1m4 0h0m3 0h4m4 0h2m3 0h1m4 0h0m14 0h2m6 0h5m5 0h0m4 0h0m7 0h1m-94 1h0m8 0h0m4 0h0m4 0h0m4 0h1m3 0h2m5 0h1m3 0h5m3 0h1m3 0h3m3 0h0m4 0h0m5 0h0m6 0h0m3 0h0m7 0h2m9 0h0m13 0h0m3 0h1m-106 1h0m22 0h1m5 0h12m3 0h2m3 0h1m4 0h0m5 0h1m3 0h0m17 0h3m5 0h0m4 0h0m4 0h2m-92 1h0m13 0h0m4 0h1m3 0h1m3 0h7m3 0h1m4 0h0m5 0h0m5 0h2m7 0h1m4 0h0m11 0h3m9 0h0m-84 1h0m4 0h1m7 0h0m6 0h8m4 0h2m6 0h5m5 0h2m5 0h0m4 0h0m16 0h2m7 0h0m7 0h0m8 0h0m-107 1h0m15 0h0m7 0h1m3 0h0m3 0h0m4 0h7m4 0h1m5 0h0m5 0h0m13 0h0m5 0h0m15 0h0m18 0h0m-92 1h0m3 0h1m10 0h4m3 0h7m6 0h0m10 0h0m6 0h0m13 0h0m11 0h0m15 0h2m-96 1h0m3 0h0m4 0h0m3 0h2m9 0h0m5 0h5m4 0h0m7 0h0m8 0h0m5 0h0m3 0h1m13 0h3m8 0h0m-74 1h5m4 0h5m4 0h0m5 0h0m5 0h0m7 0h2m4 0h0m15 0h6m3 0h0m3 0h1m6 0h0m17 0h2m-105 1h0m9 0h6m5 0h5m3 0h1m4 0h0m4 0h3m7 0h2m5 0h0m4 0h0m3 0h0m11 0h0m15 0h0m-86 1h0m6 0h0m3 0h7m3 0h0m8 0h2m3 0h2m7 0h0m32 0h0m4 0h2m3 0h0m11 0h0m-100 1h0m10 0h2m4 0h0m5 0h0m4 0h0m5 0h3m13 0h0m8 0h1m9 0h0m20 0h0m4 0h0m25 0h0m-88 1h0m3 0h2m42 0h0m6 0h0m12 0h0m8 0h0m-84 1h0m3 0h0m3 0h6m3 0h3m7 0h3m9 0h0m32 0h0m17 0h0m-82 1h8m6 0h0m14 0h0m14 0h0m15 0h0m4 0h0m9 0h0m-80 1h0m10 0h0m3 0h0m6 0h1m11 0h0m3 0h1m7 0h0m8 0h0m10 0h0m-64 1h0m4 0h2m3 0h1m4 0h0m3 0h1m3 0h1m3 0h0m3 0h2m4 0h0m6 0h0m9 0h0m13 0h0m-64 1h0m14 0h1m4 0h1m4 0h4m10 0h0m6 0h0m13 0h0m37 0h0m7 0h0m-94 1h2m5 0h0m3 0h0m4 0h2m10 0h0m4 0h0m8 0h0m41 0h0m-73 1h0m9 0h2m3 0h0m12 0h0m48 0h0m11 0h0m-82 1h0m9 0h0m4 0h0m-23 1h0m18 0h0m5 0h0m7 0h2m45 0h0m14 0h0m3 0h0m-103 1h2m3 0h0m11 0h1m7 0h0m50 0h2m34 0h0m-95 1h1m5 0h3m3 0h0m11 0h0m47 0h0m-85 1h0m18 0h0m30 0h0m-34 1h0m3 0h0m17 0h0m-17 1h0m18 0h0m24 1h0m-41 1h0m14 0h0m-19 1h0m43 1h0m-37 2h0"/>
<path d="M475 233h0m-28 1h0m6 0h0m16 0h0m-39 1h0m7 0h0m9 0h0m4 0h0m25 1h0m-29 1h0m4 1h0m7 0h0m7 0h0m17 0h0m-33 1h0m3 0h2m3 0h0m5 0h1m4 0h0m-36 1h0m4 0h0m12 0h0m15 0h0m9 1h1m-41 1h2m5 0h0m5 1h1m7 0h0m23 0h0m-23 1h0m12 0h0m26 0h0m-54 1h0m4 0h0m4 0h1m5 0h0m79 0h0m-93 1h0m22 0h2m-28 1h0m3 0h0m9 0h0m13 0h0m7 0h1m6 0h0m25 0h0m-64 1h0m17 0h0m15 0h0m3 0h0m13 0h0m54 0h0m-99 1h0m12 0h0m3 0h0m6 0h0m5 0h0m25 0h0m17 0h0m-70 1h0m6 0h5m12 0h0m5 0h0m9 0h3m92 0h0m-133 1h0m6 0h0m9 0h0m8 0h0m11 0h0m10 0h0m7 0h0m10 0h0m-55 1h0m7 0h2m5 0h2m5 0h1m9 0h1m11 0h0m31 0h0m14 0h0m-94 1h1m3 0h0m5 0h0m7 0h6m7 0h0m7 0h4m9 0h0m9 0h0m31 0h0m-89 1h1m9 0h3m6 0h3m10 0h0m10 0h0m11 0h0m33 0h0m11 0h0m-97 1h3m4 0h2m4 0h0m6 0h2m3 0h1m3 0h2m4 0h0m5 0h0m4 0h1m30 0h0m14 0h0m-88 1h0m3 0h2m3 0h0m5 0h5m6 0h4m26 0h2m9 0h0m4 0h2m6 0h1m24 0h0m-102 1h0m3 0h4m3 0h3m3 0h2m13 0h1m4 0h2m11 0h1m19 0h0m12 0h0m11 0h2m-94 1h6m4 0h0m3 0h2m7 0h1m8 0h0m3 0h0m4 0h0m5 0h0m37 0h0m5 0h0m8 0h0m20 0h0m-113 1h2m5 0h2m3 0h1m3 0h2m3 0h1m15 0h3m3 0h0m8 0h0m7 0h0m-58 1h1m6 0h0m4 0h0m3 0h4m4 0h2m4 0h9m11 0h0m4 0h0m17 0h0m21 0h0m5 0h1m16 0h0m-112 1h0m4 0h0m3 0h2m11 0h8m6 0h1m8 0h0m5 0h0m3 0h0m14 0h2m8 0h0m5 0h1m9 0h0m31 0h0m-121 1h0m7 0h0m5 0h16m8 0h0m3 0h0m5 0h0m7 0h0m17 0h0m5 0h0m28 0h0m6 0h0m-107 1h20m5 0h0m4 0h2m4 0h0m5 0h0m3 0h0m20 0h0m15 0h2m6 0h0m25 0h0m-111 1h0m6 0h0m3 0h0m3 0h11m3 0h0m3 0h0m4 0h0m4 0h0m5 0h0m5 0h0m3 0h3m14 0h0m6 0h0m7 0h0m3 0h2m-85 1h0m3 0h9m3 0h16m3 0h2m4 0h3m5 0h0m24 0h0m5 0h0m8 0h0m4 0h0m6 0h1m5 0h2m-103 1h7m3 0h0m4 0h8m3 0h6m3 0h0m4 0h2m3 0h0m4 0h0m11 0h0m9 0h0m5 0h2m11 0h0m4 0h0m31 0h0m-120 1h6m3 0h14m3 0h4m4 0h0m9 0h1m10 0h0m11 0h2m15 0h0m4 0h0m4 0h0m37 0h0m-127 1h4m4 0h8m5 0h5m4 0h0m4 0h0m5 0h2m3 0h0m7 0h0m18 0h0m24 0h0m-93 1h0m4 0h5m3 0h2m3 0h0m3 0h6m3 0h1m3 0h3m17 0h0m3 0h3m31 0h0m6 0h0m6 0h0m8 0h0m9 0h0m-119 1h5m4 0h8m3 0h8m6 0h2m3 0h0m4 0h0m3 0h3m6 0h2m7 0h1m11 0h0m-76 1h2m4 0h3m4 0h0m4 0h4m5 0h0m3 0h0m3 0h0m9 0h0m4 0h0m7 0h0m3 0h0m20 0h0m7 0h0m4 0h0m6 0h0m-92 1h1m4 0h6m3 0h3m4 0h11m5 0h0m5 0h0m3 0h2m3 0h2m4 0h0m4 0h0m13 0h2m12 0h0m-87 1h6m6 0h12m4 0h0m6 0h0m4 0h2m4 0h1m5 0h0m4 0h0m21 0h5m3 0h0m3 0h0m10 0h0m7 0h2m-105 1h3m4 0h12m3 0h0m4 0h2m7 0h0m3 0h0m4 0h0m4 0h1m6 0h1m3 0h3m11 0h0m4 0h2m8 0h2m3 0h0m9 0h0m-99 1h0m5 0h4m4 0h0m4 0h2m3 0h10m3 0h2m3 0h3m6 0h0m3 0h0m5 0h0m15 0h1m3 0h0m11 0h1m18 0h0m-106 1h0m3 0h7m3 0h11m3 0h5m3 0h0m3 0h0m8 0h1m3 0h1m12 0h2m5 0h5m14 0h0m4 0h2m3 0h0m-98 1h0m3 0h0m3 0h4m4 0h5m4 0h6m12 0h7m3 0h0m9 0h3m21 0h0m16 0h0m4 0h0m-104 1h0m3 0h2m4 0h9m3 0h1m3 0h4m5 0h0m5 0h0m7 0h6m7 0h0m6 0h0m6 0h7m4 0h0m3 0h0m9 0h0m7 0h2m9 0h0m-112 1h1m3 0h0m3 0h1m3 0h0m3 0h0m3 0h3m3 0h0m3 0h9m3 0h0m7 0h0m5 0h0m4 0h1m5 0h2m7 0h0m12 0h0m16 0h0m-97 1h2m12 0h2m5 0h0m4 0h14m13 0h1m7 0h1m10 0h0m10 0h0m7 0h0m10 0h1m21 0h0m-120 1h2m4 0h2m7 0h0m4 0h0m5 0h1m4 0h6m3 0h0m4 0h3m8 0h1m23 0h0m8 0h0m8 0h1m-94 1h0m4 0h4m6 0h11m3 0h0m3 0h0m5 0h1m8 0h3m4 0h0m5 0h2m3 0h0m4 0h0m18 0h2m5 0h0m10 0h2m6 0h0m-109 1h0m4 0h0m3 0h0m3 0h0m8 0h0m5 0h9m11 0h0m3 0h6m9 0h0m13 0h1m4 0h0m5 0h2m-86 1h0m3 0h7m5 0h3m5 0h0m7 0h4m5 0h0m3 0h1m3 0h2m13 0h2m23 0h0m4 0h1m4 0h0m14 0h0m-109 1h1m7 0h3m6 0h22m5 0h0m8 0h0m11 0h0m14 0h2m3 0h1m3 0h0m-86 1h3m7 0h1m3 0h5m3 0h6m3 0h0m3 0h1m3 0h3m3 0h0m10 0h0m5 0h0m3 0h0m5 0h0m4 0h0m6 0h1m7 0h0m5 0h1m-91 1h1m4 0h4m7 0h1m10 0h1m5 0h3m4 0h5m5 0h0m5 0h0m5 0h0m11 0h1m-72 1h2m3 0h0m4 0h0m3 0h4m6 0h3m4 0h1m3 0h2m7 0h4m3 0h0m3 0h0m11 0h0m5 0h0m31 0h0m5 0h0m-104 1h0m4 0h0m6 0h3m4 0h0m3 0h1m5 0h2m4 0h0m8 0h3m6 0h0m12 0h0m4 0h2m8 0h0m-75 1h0m4 0h0m5 0h0m3 0h2m9 0h7m6 0h1m4 0h1m4 0h1m3 0h2m12 0h2m29 0h0m-95 1h1m4 0h0m3 0h1m9 0h0m3 0h2m3 0h8m5 0h0m4 0h0m4 0h2m5 0h1m3 0h0m6 0h0m8 0h0m9 0h0m20 0h0m-101 1h1m10 0h1m4 0h0m8 0h0m5 0h3m5 0h1m7 0h0m6 0h0m5 0h0m3 0h0m10 0h0m3 0h0m5 0h0m16 0h0m16 0h0m-109 1h2m6 0h0m9 0h0m4 0h0m6 0h4m3 0h0m3 0h3m12 0h1m35 0h0m4 0h0m-92 1h0m7 0h0m8 0h0m4 0h0m9 0h1m3 0h0m4 0h0m3 0h0m6 0h1m8 0h1m17 0h0m3 0h0m5 0h0m-80 1h1m5 0h0m15 0h0m5 0h4m4 0h0m16 0h2m4 0h2m8 0h0m5 0h2m8 0h0m-81 1h0m5 0h0m5 0h0m4 0h0m3 0h0m5 0h2m6 0h1m11 0h0m32 0h0m5 0h0m39 0h0m-114 1h0m8 0h1m3 0h0m9 0h0m6 0h5m4 0h0m4 0h0m14 0h0m19 0h0m9 0h0m25 0h0m-95 1h0m7 0h0m14 0h0m3 0h1m3 0h0m17 0h0m5 0h0m5 0h0m6 0h0m10 0h0m13 0h1m-101 1h0m9 0h2m11 0h0m4 0h0m9 0h0m5 0h0m11 0h0m7 0h1m15 0h0m3 0h0m3 0h0m4 0h0m24 0h0m10 0h0m-118 1h0m12 0h1m11 0h0m5 0h0m15 0h2m7 0h0m8 0h0m4 0h0m22 0h0m5 0h0m35 0h0m-127 1h0m12 0h0m7 0h0m7 0h2m4 0h0m3 0h2m18 0h1m10 0h0m4 0h0m9 0h0m-79 1h0m4 0h0m18 0h0m5 0h0m5 0h1m7 0h0m4 0h0m8 0h4m3 0h0m4 0h0m5 0h0m24 0h1m-85 1h0m5 0h0m6 0h2m6 0h0m10 0h1m3 0h0m4 0h0m3 0h0m17 0h0m8 0h0m-58 1h0m8 0h2m4 0h0m7 0h0m9 0h0m7 0h1m4 0h1m6 0h0m5 0h0m7 0h2m11 0h0m6 0h0m6 0h0m-81 1h3m16 0h0m5 0h1m3 0h0m3 0h0m3 0h0m3 0h0m5 0h0m25 0h0m-65 1h0m19 0h0m16 0h2m8 0h0m8 0h0m13 0h0m7 0h0m-83 1h0m11 0h0m11 0h6m12 0h1m3 0h0m5 0h1m8 0h0m7 0h0m8 0h0m-67 1h9m7 0h0m3 0h5m3 0h0m8 0h0m9 0h2m6 0h0m15 0h0m4 0h0m11 0h0m-89 1h3m7 0h0m4 0h0m7 0h0m6 0h3m7 0h4m5 0h0m9 0h0m7 0h0m8 0h0m9 0h0m-62 1h2m6 0h0m4 0h0m3 0h0m5 0h0m20 0h0m4 0h0m-55 1h0m3 0h0m3 0h0m21 0h2m4 0h2m6 0h0m4 0h2m7 0h0m6 0h0m5 0h0m3 0h1m8 0h0m3 0h0m-84 1h1m23 0h1m8 0h0m5 0h2m7 0h3m5 0h0m10 0h0m5 0h2m3 0h0m7 0h0m-90 1h0m10 0h0m18 0h3m4 0h2m4 0h0m4 0h0m5 0h0m12 0h1m10 0h6m18 0h0m-94 1h0m7 0h0m9 0h0m12 0h0m4 0h3m10 0h1m4 0h2m3 0h0m4 0h0m7 0h0m7 0h1m5 0h0m21 0h0m-93 1h0m9 0h0m7 0h0m3 0h0m3 0h1m4 0h1m13 0h4m3 0h0m4 0h0m3 0h0m16 0h0m4 0h1m17 0h2m-110 1h0m24 0h0m3 0h0m6 0h2m3 0h3m7 0h3m4 0h0m3 0h0m4 0h0m3 0h5m3 0h3m6 0h0m10 0h0m4 0h0m-82 1h0m19 0h0m3 0h0m8 0h0m3 0h0m8 0h1m4 0h0m7 0h2m3 0h0m3 0h0m6 0h0m5 0h0m16 0h0m-76 1h1m6 0h0m4 0h0m4 0h3m3 0h0m6 0h0m3 0h0m6 0h0m10 0h0m3 0h0m3 0h0m4 0h2m9 0h0m-92 1h2m20 0h0m3 0h0m8 0h1m5 0h4m4 0h3m12 0h3m3 0h0m6 0h1m7 0h0m4 0h0m3 0h0m-81 1h0m4 0h0m13 0h1m3 0h0m8 0h0m4 0h1m3 0h1m3 0h0m7 0h3m7 0h0m4 0h1m-61 1h0m14 0h10m3 0h0m6 0h6m8 0h0m6 0h3m3 0h2m5 0h5m6 0h0m21 0h0m-93 1h2m11 0h0m3 0h1m6 0h0m12 0h1m4 0h3m3 0h3m7 0h1m15 0h0m3 0h1m9 0h0m3 0h0m-94 1h0m6 0h0m3 0h0m4 0h0m9 0h4m3 0h2m5 0h0m8 0h0m4 0h1m6 0h2m16 0h4m16 0h0m-103 1h0m22 0h0m9 0h0m3 0h0m3 0h2m4 0h0m3 0h1m3 0h5m5 0h1m9 0h0m4 0h0m3 0h3m3 0h1m-84 1h0m17 0h0m5 0h0m6 0h3m8 0h3m3 0h5m12 0h0m5 0h2m9 0h3m6 0h0m3 0h1m6 0h0m-94 1h0m11 0h0m4 0h0m7 0h1m5 0h0m6 0h3m23 0h0m3 0h0m10 0h0m8 0h0m-73 1h0m8 0h0m4 0h0m5 0h1m3 0h0m8 0h0m6 0h1m3 0h2m6 0h0m4 0h2m3 0h0m3 0h2m7 0h1m13 0h0m-80 1h0m9 0h0m16 0h0m5 0h5m6 0h2m3 0h1m8 0h2m5 0h0m3 0h0m3 0h4m-83 1h0m7 0h4m6 0h0m5 0h0m4 0h0m4 0h0m4 0h1m4 0h1m3 0h0m8 0h0m4 0h2m4 0h2m15 0h1m4 0h0m-63 1h0m3 0h0m6 0h2m19 0h0m3 0h3m9 0h0m7 0h0m10 0h0m7 0h0m-91 1h0m4 0h0m11 0h0m10 0h0m15 0h0m6 0h0m3 0h4m7 0h0m11 0h0m3 0h1m10 0h0m-66 1h10m3 0h0m5 0h0m7 0h0m4 0h5m21 0h2m-73 1h0m11 0h0m10 0h0m19 0h0m5 0h2m4 0h1m3 0h1m8 0h0m5 0h0m8 0h0m6 0h3m-77 1h1m15 0h0m6 0h0m6 0h4m10 0h0m4 0h5m5 0h0m11 0h0m5 0h2m-80 1h0m14 0h0m10 0h0m11 0h0m6 0h0m6 0h5m6 0h0m10 0h2m4 0h0m13 0h0m-92 1h0m30 0h2m7 0h1m4 0h0m20 0h0m3 0h0m12 0h0m4 0h1m-66 1h0m4 0h1m6 0h0m3 0h0m6 0h0m3 0h1m10 0h0m20 0h0m7 0h0m8 0h0m-74 1h0m5 0h0m11 0h0m7 0h1m5 0h1m4 0h2m7 0h0m5 0h2m3 0h1m6 0h1m12 0h0m-66 1h0m9 0h2m3 0h1m5 0h2m18 0h0m19 0h0m20 0h0m-98 1h0m27 0h0m5 0h0m3 0h0m6 0h0m44 0h0m3 0h0m-65 1h0m4 0h0m4 0h0m13 0h2m3 0h1m25 0h0m-58 1h2m5 0h1m7 0h0m5 0h0m4 0h5m5 0h0m3 0h0m9 0h0m7 0h0m-38 1h0m7 0h2m8 0h0m16 0h0m15 0h0m6 0h4m-69 1h0m7 0h0m4 0h0m5 0h0m5 0h0m21 0h2m11 0h1m-51 1h2m5 0h0m8 0h0m7 0h0m9 0h0m4 0h0m-55 1h0m23 0h0m3 0h0m3 0h4m22 0h0m6 0h2m-27 1h0m8 0h0m-39 1h0m23 0h0m52 0h0m-76 1h0m13 0h0m4 0h0m7 0h0m45 0h0m-61 1h0m10 0h0m12 0h0m-14 1h0m13 0h0m34 0h1m-47 1h0m24 0h0m-37 1h0m51 0h0m3 0h0m-44 1h0m4 0h0m13 0h0m28 0h0m-53 1h0m34 0h0m23 0h0m-30 1h0m33 1h0m-46 1h0m26 1h0m6 0h0m3 0h0m8 1h0m-33 3h0m-24 1h0m39 0h0m-4 1h0"/>
<path d="M475 233h0m-28 1h0m6 0h0m16 0h0m-39 1h0m7 0h0m9 0h0m4 0h0m25 1h0m-29 1h0m4 1h0m7 0h0m7 0h0m17 0h0m-33 1h0m3 0h2m3 0h0m5 0h1m4 0h0m-36 1h0m4 0h0m12 0h0m15 0h0m9 1h1m-41 1h2m5 0h0m5 1h1m7 0h0m23 0h0m-23 1h0m12 0h0m26 0h0m-54 1h0m4 0h0m4 0h1m5 0h0m79 0h0m-93 1h0m22 0h2m-28 1h0m3 0h0m9 0h0m13 0h0m7 0h1m6 0h0m25 0h0m-64 1h0m17 0h0m15 0h0m3 0h0m13 0h0m54 0h0m-99 1h0m12 0h0m3 0h0m6 0h0m5 0h0m25 0h0m17 0h0m-70 1h0m6 0h5m12 0h0m5 0h0m9 0h3m92 0h0m-133 1h0m6 0h0m9 0h0m8 0h0m11 0h0m10 0h0m7 0h0m10 0h0m-55 1h0m7 0h2m5 0h2m5 0h1m9 0h1m11 0h0m31 0h0m14 0h0m-94 1h1m3 0h0m5 0h0m7 0h6m7 0h0m7 0h4m9 0h0m9 0h0m31 0h0m-89 1h1m9 0h3m6 0h3m10 0h0m10 0h0m11 0h0m33 0h0m11 0h0m-97 1h3m4 0h2m4 0h0m6 0h2m3 0h1m3 0h2m4 0h0m5 0h0m4 0h1m30 0h0m14 0h0m-88 1h0m3 0h2m3 0h0m5 0h5m6 0h4m26 0h2m9 0h0m4 0h2m6 0h1m24 0h0m-102 1h0m3 0h4m3 0h3m3 0h2m13 0h1m4 0h2m11 0h1m19 0h0m12 0h0m11 0h2m-94 1h6m4 0h0m3 0h2m7 0h1m8 0h0m3 0h0m4 0h0m5 0h0m37 0h0m5 0h0m8 0h0m20 0h0m-113 1h2m5 0h2m3 0h1m3 0h2m3 0h1m15 0h3m3 0h0m8 0h0m7 0h0m-58 1h1m6 0h0m4 0h0m3 0h4m4 0h2m4 0h9m11 0h0m4 0h0m17 0h0m21 0h0m5 0h1m16 0h0m-112 1h0m4 0h0m3 0h2m11 0h8m6 0h1m8 0h0m5 0h0m3 0h0m14 0h2m8 0h0m5 0h1m9 0h0m31 0h0m-121 1h0m7 0h0m5 0h16m8 0h0m3 0h0m5 0h0m7 0h0m17 0h0m5 0h0m28 0h0m6 0h0m-107 1h20m5 0h0m4 0h2m4 0h0m5 0h0m3 0h0m20 0h0m15 0h2m6 0h0m25 0h0m-111 1h0m6 0h0m3 0h0m3 0h11m3 0h0m3 0h0m4 0h0m4 0h0m5 0h0m5 0h0m3 0h3m14 0h0m6 0h0m7 0h0m3 0h2m-85 1h0m3 0h9m3 0h16m3 0h2m4 0h3m5 0h0m24 0h0m5 0h0m8 0h0m4 0h0m6 0h1m5 0h2m-103 1h7m3 0h0m4 0h8m3 0h6m3 0h0m4 0h2m3 0h0m4 0h0m11 0h0m9 0h0m5 0h2m11 0h0m4 0h0m31 0h0m-120 1h6m3 0h14m3 0h4m4 0h0m9 0h1m10 0h0m11 0h2m15 0h0m4 0h0m4 0h0m37 0h0m-127 1h4m4 0h8m5 0h5m4 0h0m4 0h0m5 0h2m3 0h0m7 0h0m18 0h0m24 0h0m-93 1h0m4 0h5m3 0h2m3 0h0m3 0h6m3 0h1m3 0h3m17 0h0m3 0h3m31 0h0m6 0h0m6 0h0m8 0h0m9 0h0m-119 1h5m4 0h8m3 0h8m6 0h2m3 0h0m4 0h0m3 0h3m6 0h2m7 0h1m11 0h0m-76 1h2m4 0h3m4 0h0m4 0h4m5 0h0m3 0h0m3 0h0m9 0h0m4 0h0m7 0h0m3 0h0m20 0h0m7 0h0m4 0h0m6 0h0m-92 1h1m4 0h6m3 0h3m4 0h11m5 0h0m5 0h0m3 0h2m3 0h2m4 0h0m4 0h0m13 0h2m12 0h0m-87 1h6m6 0h12m4 0h0m6 0h0m4 0h2m4 0h1m5 0h0m4 0h0m21 0h5m3 0h0m3 0h0m10 0h0m7 0h2m-105 1h3m4 0h12m3 0h0m4 0h2m7 0h0m3 0h0m4 0h0m4 0h1m6 0h1m3 0h3m11 0h0m4 0h2m8 0h2m3 0h0m9 0h0m-99 1h0m5 0h4m4 0h0m4 0h2m3 0h10m3 0h2m3 0h3m6 0h0m3 0h0m5 0h0m15 0h1m3 0h0m11 0h1m18 0h0m-106 1h0m3 0h7m3 0h11m3 0h5m3 0h0m3 0h0m8 0h1m3 0h1m12 0h2m5 0h5m14 0h0m4 0h2m3 0h0m-98 1h0m3 0h0m3 0h4m4 0h5m4 0h6m12 0h7m3 0h0m9 0h3m21 0h0m16 0h0m4 0h0m-104 1h0m3 0h2m4 0h9m3 0h1m3 0h4m5 0h0m5 0h0m7 0h6m7 0h0m6 0h0m6 0h7m4 0h0m3 0h0m9 0h0m7 0h2m9 0h0m-112 1h1m3 0h0m3 0h1m3 0h0m3 0h0m3 0h3m3 0h0m3 0h9m3 0h0m7 0h0m5 0h0m4 0h1m5 0h2m7 0h0m12 0h0m16 0h0m-97 1h2m12 0h2m5 0h0m4 0h14m13 0h1m7 0h1m10 0h0m10 0h0m7 0h0m10 0h1m21 0h0m-120 1h2m4 0h2m7 0h0m4 0h0m5 0h1m4 0h6m3 0h0m4 0h3m8 0h1m23 0h0m8 0h0m8 0h1m-94 1h0m4 0h4m6 0h11m3 0h0m3 0h0m5 0h1m8 0h3m4 0h0m5 0h2m3 0h0m4 0h0m18 0h2m5 0h0m10 0h2m6 0h0m-109 1h0m4 0h0m3 0h0m3 0h0m8 0h0m5 0h9m11 0h0m3 0h6m9 0h0m13 0h1m4 0h0m5 0h2m-86 1h0m3 0h7m5 0h3m5 0h0m7 0h4m5 0h0m3 0h1m3 0h2m13 0h2m23 0h0m4 0h1m4 0h0m14 0h0m-109 1h1m7 0h3m6 0h22m5 0h0m8 0h0m11 0h0m14 0h2m3 0h1m3 0h0m-86 1h3m7 0h1m3 0h5m3 0h6m3 0h0m3 0h1m3 0h3m3 0h0m10 0h0m5 0h0m3 0h0m5 0h0m4 0h0m6 0h1m7 0h0m5 0h1m-91 1h1m4 0h4m7 0h1m10 0h1m5 0h3m4 0h5m5 0h0m5 0h0m5 0h0m11 0h1m-72 1h2m3 0h0m4 0h0m3 0h4m6 0h3m4 0h1m3 0h2m7 0h4m3 0h0m3 0h0m11 0h0m5 0h0m31 0h0m5 0h0m-104 1h0m4 0h0m6 0h3m4 0h0m3 0h1m5 0h2m4 0h0m8 0h3m6 0h0m12 0h0m4 0h2m8 0h0m-75 1h0m4 0h0m5 0h0m3 0h2m9 0h7m6 0h1m4 0h1m4 0h1m3 0h2m12 0h2m29 0h0m-95 1h1m4 0h0m3 0h1m9 0h0m3 0h2m3 0h8m5 0h0m4 0h0m4 0h2m5 0h1m3 0h0m6 0h0m8 0h0m9 0h0m20 0h0m-101 1h1m10 0h1m4 0h0m8 0h0m5 0h3m5 0h1m7 0h0m6 0h0m5 0h0m3 0h0m10 0h0m3 0h0m5 0h0m16 0h0m16 0h0m-109 1h2m6 0h0m9 0h0m4 0h0m6 0h4m3 0h0m3 0h3m12 0h1m35 0h0m4 0h0m-92 1h0m7 0h0m8 0h0m4 0h0m9 0h1m3 0h0m4 0h0m3 0h0m6 0h1m8 0h1m17 0h0m3 0h0m5 0h0m-80 1h1m5 0h0m15 0h0m5 0h4m4 0h0m16 0h2m4 0h2m8 0h0m5 0h2m8 0h0m-81 1h0m5 0h0m5 0h0m4 0h0m3 0h0m5 0h2m6 0h1m11 0h0m32 0h0m5 0h0m39 0h0m-114 1h0m8 0h1m3 0h0m9 0h0m6 0h5m4 0h0m4 0h0m14 0h0m19 0h0m9 0h0m25 0h0m-95 1h0m7 0h0m14 0h0m3 0h1m3 0h0m17 0h0m5 0h0m5 0h0m6 0h0m10 0h0m13 0h1m-101 1h0m9 0h2m11 0h0m4 0h0m9 0h0m5 0h0m11 0h0m7 0h1m15 0h0m3 0h0m3 0h0m4 0h0m24 0h0m10 0h0m-118 1h0m12 0h1m11 0h0m5 0h0m15 0h2m7 0h0m8 0h0m4 0h0m22 0h0m5 0h0m35 0h0m-127 1h0m12 0h0m7 0h0m7 0h2m4 0h0m3 0h2m18 0h1m10 0h0m4 0h0m9 0h0m-79 1h0m4 0h0m18 0h0m5 0h0m5 0h1m7 0h0m4 0h0m8 0h4m3 0h0m4 0h0m5 0h0m24 0h1m-85 1h0m5 0h0m6 0h2m6 0h0m10 0h1m3 0h0m4 0h0m3 0h0m17 0h0m8 0h0m-58 1h0m8 0h2m4 0h0m7 0h0m9 0h0m7 0h1m4 0h1m6 0h0m5 0h0m7 0h2m11 0h0m6 0h0m6 0h0m-81 1h3m16 0h0m5 0h1m3 0h0m3 0h0m3 0h0m3 0h0m5 0h0m25 0h0m-65 1h0m19 0h0m16 0h2m8 0h0m8 0h0m13 0h0m7 0h0m-83 1h0m11 0h0m11 0h6m12 0h1m3 0h0m5 0h1m8 0h0m7 0h0m8 0h0m-67 1h9m7 0h0m3 0h5m3 0h0m8 0h0m9 0h2m6 0h0m15 0h0m4 0h0m11 0h0m-89 1h3m7 0h0m4 0h0m7 0h0m6 0h3m7 0h4m5 0h0m9 0h0m7 0h0m8 0h0m9 0h0m-62 1h2m6 0h0m4 0h0m3 0h0m5 0h0m20 0h0m4 0h0m-55 1h0m3 0h0m3 0h0m21 0h2m4 0h2m6 0h0m4 0h2m7 0h0m6 0h0m5 0h0m3 0h1m8 0h0m3 0h0m-84 1h1m23 0h1m8 0h0m5 0h2m7 0h3m5 0h0m10 0h0m5 0h2m3 0h0m7 0h0m-90 1h0m10 0h0m18 0h3m4 0h2m4 0h0m4 0h0m5 0h0m12 0h1m10 0h6m18 0h0m-94 1h0m7 0h0m9 0h0m12 0h0m4 0h3m10 0h1m4 0h2m3 0h0m4 0h0m7 0h0m7 0h1m5 0h0m21 0h0m-93 1h0m9 0h0m7 0h0m3 0h0m3 0h1m4 0h1m13 0h4m3 0h0m4 0h0m3 0h0m16 0h0m4 0h1m17 0h2m-110 1h0m24 0h0m3 0h0m6 0h2m3 0h3m7 0h3m4 0h0m3 0h0m4 0h0m3 0h5m3 0h3m6 0h0m10 0h0m4 0h0m-82 1h0m19 0h0m3 0h0m8 0h0m3 0h0m8 0h1m4 0h0m7 0h2m3 0h0m3 0h0m6 0h0m5 0h0m16 0h0m-76 1h1m6 0h0m4 0h0m4 0h3m3 0h0m6 0h0m3 0h0m6 0h0m10 0h0m3 0h0m3 0h0m4 0h2m9 0h0m-92 1h2m20 0h0m3 0h0m8 0h1m5 0h4m4 0h3m12 0h3m3 0h0m6 0h1m7 0h0m4 0h0m3 0h0m-81 1h0m4 0h0m13 0h1m3 0h0m8 0h0m4 0h1m3 0h1m3 0h0m7 0h3m7 0h0m4 0h1m-61 1h0m14 0h10m3 0h0m6 0h6m8 0h0m6 0h3m3 0h2m5 0h5m6 0h0m21 0h0m-93 1h2m11 0h0m3 0h1m6 0h0m12 0h1m4 0h3m3 0h3m7 0h1m15 0h0m3 0h1m9 0h0m3 0h0m-94 1h0m6 0h0m3 0h0m4 0h0m9 0h4m3 0h2m5 0h0m8 0h0m4 0h1m6 0h2m16 0h4m16 0h0m-103 1h0m22 0h0m9 0h0m3 0h0m3 0h2m4 0h0m3 0h1m3 0h5m5 0h1m9 0h0m4 0h0m3 0h3m3 0h1m-84 1h0m17 0h0m5 0h0m6 0h3m8 0h3m3 0h5m12 0h0m5 0h2m9 0h3m6 0h0m3 0h1m6 0h0m-94 1h0m11 0h0m4 0h0m7 0h1m5 0h0m6 0h3m23 0h0m3 0h0m10 0h0m8 0h0m-73 1h0m8 0h0m4 0h0m5 0h1m3 0h0m8 0h0m6 0h1m3 0h2m6 0h0m4 0h2m3 0h0m3 0h2m7 0h1m13 0h0m-80 1h0m9 0h0m16 0h0m5 0h5m6 0h2m3 0h1m8 0h2m5 0h0m3 0h0m3 0h4m-83 1h0m7 0h4m6 0h0m5 0h0m4 0h0m4 0h0m4 0h1m4 0h1m3 0h0m8 0h0m4 0h2m4 0h2m15 0h1m4 0h0m-63 1h0m3 0h0m6 0h2m19 0h0m3 0h3m9 0h0m7 0h0m10 0h0m7 0h0m-91 1h0m4 0h0m11 0h0m10 0h0m15 0h0m6 0h0m3 0h4m7 0h0m11 0h0m3 0h1m10 0h0m-66 1h10m3 0h0m5 0h0m7 0h0m4 0h5m21 0h2m-73 1h0m11 0h0m10 0h0m19 0h0m5 0h2m4 0h1m3 0h1m8 0h0m5 0h0m8 0h0m6 0h3m-77 1h1m15 0h0m6 0h0m6 0h4m10 0h0m4 0h5m5 0h0m11 0h0m5 0h2m-80 1h0m14 0h0m10 0h0m11 0h0m6 0h0m6 0h5m6 0h0m10 0h2m4 0h0m13 0h0m-92 1h0m30 0h2m7 0h1m4 0h0m20 0h0m3 0h0m12 0h0m4 0h1m-66 1h0m4 0h1m6 0h0m3 0h0m6 0h0m3 0h1m10 0h0m20 0h0m7 0h0m8 0h0m-74 1h0m5 0h0m11 0h0m7 0h1m5 0h1m4 0h2m7 0h0m5 0h2m3 0h1m6 0h1m12 0h0m-66 1h0m9 0h2m3 0h1m5 0h2m18 0h0m19 0h0m20 0h0m-98 1h0m27 0h0m5 0h0m3 0h0m6 0h0m44 0h0m3 0h0m-65 1h0m4 0h0m4 0h0m13 0h2m3 0h1m25 0h0m-58 1h2m5 0h1m7 0h0m5 0h0m4 0h5m5 0h0m3 0h0m9 0h0m7 0h0m-38 1h0m7 0h2m8 0h0m16 0h0m15 0h0m6 0h4m-69 1h0m7 0h0m4 0h0m5 0h0m5 0h0m21 0h2m11 0h1m-51 1h2m5 0h0m8 0h0m7 0h0m9 0h0m4 0h0m-55 1h0m23 0h0m3 0h0m3 0h4m22 0h0m6 0h2m-27 1h0m8 0h0m-39 1h0m23 0h0m52 0h0m-76 1h0m13 0h0m4 0h0m7 0h0m45 0h0m-61 1h0m10 0h0m12 0h0m-14 1h0m13 0h0m34 0h1m-47 1h0m24 0h0m-37 1h0m51 0h0m3 0h0m-44 1h0m4 0h0m13 0h0m28 0h0m-53 1h0m34 0h0m23 0h0m-30 1h0m33 1h0m-46 1h0m26 1h0m6 0h0m3 0h0m8 1h0m-33 3h0m-24 1h0m39 0h0m-4 1h0"/>
<path d="M742 252h0m-15 8h0m13 0h0m-8 1h0m19 3h0m-24 1h0m5 1h0m27 1h0m1 1h0m-27 3h0m16 0h0m-15 1h0m10 1h0m71 3h0m-84 2h0m20 0h0m-17 1h0m8 0h4m10 0h0m32 0h0m-58 1h0m27 0h0m-5 1h0m-13 1h0m8 0h0m6 1h0m15 0h0m-41 1h0m6 0h0m3 0h0m10 0h0m-17 1h0m3 0h0m28 0h0m-33 1h0m10 1h0m10 0h0m21 0h0m-35 1h0m11 0h0m3 0h0m12 0h0m-6 1h1m-13 1h0m26 0h0m-40 1h0m9 0h0m3 0h0m6 0h0m8 0h0m11 0h0m-31 1h0m13 0h0m11 0h0m78 1h0m-97 1h0m5 0h0m16 1h0m-10 1h0m5 0h0m43 0h0m22 0h0m-74 1h0m4 0h0m4 0h1m63 0h0m-72 1h0m4 0h0m56 0h0m60 0h0m-120 1h0m5 0h0m5 0h0m52 0h0m15 0h0m-67 1h0m4 0h0m3 0h0m8 0h0m31 0h0m21 0h0m-90 1h0m9 0h0m8 0h0m15 0h0m-30 1h0m33 0h0m20 0h0m-52 1h0m14 1h0m6 0h0m60 0h0m-74 1h2m4 0h0m6 0h0m60 0h0m-67 1h0m17 0h0m8 0h0m-25 1h0m54 1h0m40 0h0m-96 1h0m14 0h0m7 0h0m18 0h0m-35 1h0m18 0h0m-25 1h0m20 0h0m16 0h0m-29 1h0m5 0h0m9 0h0m3 0h4m-15 1h0m23 1h0m29 0h0m-68 1h0m35 0h0m6 0h0m-24 1h0m4 0h0m6 0h4m7 0h0m5 0h0m-14 2h0m3 0h2m24 0h0m-20 1h0m22 0h0m-56 1h0m14 0h0m8 0h0m8 0h0m12 0h0m5 0h0m8 0h0m-28 1h4m21 0h0m-41 1h0m8 0h0m5 0h0m5 0h0m4 0h0m10 0h0m-20 2h0m4 0h0m4 0h2m-48 1h0m29 0h0m7 0h0m4 0h0m7 0h0m19 0h0m-23 1h0m4 0h0m3 0h1m13 0h0m-35 1h0m10 0h2m4 0h0m5 0h0m4 0h0m-11 1h2m24 0h0m-36 1h0m4 0h0m5 0h0m4 0h0m4 0h0m-14 1h0m4 0h0m4 0h0m11 0h0m6 0h0m-24 2h0m15 0h0m3 0h0m22 0h0m-46 1h0m9 0h0m4 0h1m6 0h2m5 0h0m-19 1h0m4 0h2m3 0h0m10 1h0m10 0h0m5 0h0m-48 1h0m11 0h0m5 0h0m7 0h0m3 0h0m3 0h0m5 0h0m9 0h0m-37 1h0m24 0h0m17 0h0m-27 1h1m9 0h1m5 0h0m12 0h0m-41 1h0m6 0h0m3 0h0m3 0h0m7 0h0m9 0h0m-22 1h0m6 0h0m5 0h4m8 0h0m3 0h2m6 0h0m-40 1h0m7 0h0m15 0h0m-25 1h0m3 0h1m12 0h4m12 0h0m37 0h0m-73 1h0m11 0h0m5 0h1m4 0h2m5 0h2m3 0h0m6 0h0m-30 1h0m3 0h0m3 0h4m4 0h0m4 0h0m3 0h2m8 0h0m7 0h2m-44 1h1m7 0h0m4 0h2m4 0h0m6 0h0m5 0h0m12 0h0m5 0h0m-49 1h0m5 0h0m4 0h1m3 0h0m4 0h4m4 0h3m14 0h0m9 0h0m8 0h0m-54 1h4m4 0h2m5 0h3m4 0h2m5 0h0m3 0h0m9 0h2m-41 1h9m6 0h2m4 0h0m3 0h0m15 0h2m-50 1h0m11 0h8m3 0h2m8 0h2m3 0h0m3 0h0m3 0h0m4 0h0m8 0h1m-52 1h16m3 0h1m6 0h2m6 0h0m5 0h0m4 0h0m6 0h0m12 0h0m-58 1h2m3 0h10m3 0h0m5 0h0m4 0h0m7 0h0m-38 1h1m4 0h2m4 0h8m11 0h0m7 0h0m8 0h0m-51 1h0m4 0h0m6 0h7m5 0h0m4 0h0m3 0h1m9 0h2m5 0h0m-41 1h4m3 0h15m5 0h0m5 0h0m6 0h2m17 0h0m-65 1h1m5 0h3m3 0h10m7 0h1m7 0h0m4 0h0m4 0h0m10 0h1m3 0h0m8 0h0m-62 1h3m4 0h19m11 0h0m7 0h0m6 0h5m5 0h0m4 0h0m-70 1h0m10 0h7m5 0h5m3 0h2m6 0h0m5 0h2m6 0h1m6 0h3m-59 1h0m11 0h4m3 0h0m3 0h5m13 0h0m5 0h2m4 0h2m9 0h0m-56 1h9m5 0h6m10 0h0m10 0h0m3 0h1m6 0h0m-59 1h1m5 0h0m4 0h1m5 0h0m5 0h3m10 0h0m16 0h0m5 0h0m6 0h0m3 0h0m-55 1h0m5 0h0m8 0h1m3 0h1m7 0h0m22 0h1m3 0h0m-56 1h0m7 0h1m4 0h3m7 0h2m4 0h1m10 0h0m5 0h1m10 0h0m3 0h0m-68 1h0m12 0h8m3 0h0m3 0h1m4 0h2m3 0h0m7 0h0m11 0h0m7 0h1m-47 1h3m4 0h0m4 0h1m29 0h0m3 0h1m4 0h0m6 0h0m5 0h0m-71 1h0m4 0h0m5 0h7m13 0h0m3 0h0m15 0h1m5 0h0m13 0h0m8 0h0m-72 1h5m5 0h6m3 0h0m3 0h2m4 0h0m16 0h0m9 0h0m8 0h0m12 0h0m-73 1h2m4 0h0m3 0h4m4 0h0m13 0h0m4 0h0m3 0h0m4 0h0m7 0h2m3 0h0m5 0h0m4 0h0m7 0h2m-73 1h0m4 0h1m4 0h0m5 0h8m6 0h0m23 0h2m16 0h0m9 0h0m-76 1h15m3 0h0m3 0h2m36 0h0m7 0h1m5 0h0m-73 1h2m4 0h3m8 0h0m34 0h5m3 0h0m8 0h1m-68 1h0m3 0h9m6 0h0m4 0h0m28 0h0m17 0h0m-64 1h6m5 0h0m3 0h0m36 0h0m13 0h0m6 0h0m-78 1h0m6 0h0m4 0h2m5 0h0m30 0h0m19 0h0m-68 1h0m6 0h2m6 0h0m8 0h0m28 0h0m12 0h2m3 0h1m-65 1h0m5 0h0m12 0h0m6 0h0m37 0h0m3 0h0m3 0h1m4 0h0m-62 1h0m3 0h1m38 0h0m5 0h2m7 0h1m11 0h0m3 0h0m-63 1h0m58 0h0m-69 1h0m70 0h0m-77 1h0m29 0h0m40 0h2m5 0h0m-63 1h0m48 0h0m3 0h0m9 0h0m-64 2h0m55 0h0m-58 2h0m62 0h0m1 1h0m3 1h0m-6 2h0m-24 1h0m4 0h12m5 0h6m4 0h7m3 0h3m3 0h0m3 0h0m15 0h0"/>
<path d="M742 252h0m-15 8h0m13 0h0m-8 1h0m19 3h0m-24 1h0m5 1h0m27 1h0m1 1h0m-27 3h0m16 0h0m-15 1h0m10 1h0m71 3h0m-84 2h0m20 0h0m-17 1h0m8 0h4m10 0h0m32 0h0m-58 1h0m27 0h0m-5 1h0m-13 1h0m8 0h0m6 1h0m15 0h0m-41 1h0m6 0h0m3 0h0m10 0h0m-17 1h0m3 0h0m28 0h0m-33 1h0m10 1h0m10 0h0m21 0h0m-35 1h0m11 0h0m3 0h0m12 0h0m-6 1h1m-13 1h0m26 0h0m-40 1h0m9 0h0m3 0h0m6 0h0m8 0h0m11 0h0m-31 1h0m13 0h0m11 0h0m78 1h0m-97 1h0m5 0h0m16 1h0m-10 1h0m5 0h0m43 0h0m22 0h0m-74 1h0m4 0h0m4 0h1m63 0h0m-72 1h0m4 0h0m56 0h0m60 0h0m-120 1h0m5 0h0m5 0h0m52 0h0m15 0h0m-67 1h0m4 0h0m3 0h0m8 0h0m31 0h0m21 0h0m-90 1h0m9 0h0m8 0h0m15 0h0m-30 1h0m33 0h0m20 0h0m-52 1h0m14 1h0m6 0h0m60 0h0m-74 1h2m4 0h0m6 0h0m60 0h0m-67 1h0m17 0h0m8 0h0m-25 1h0m54 1h0m40 0h0m-96 1h0m14 0h0m7 0h0m18 0h0m-35 1h0m18 0h0m-25 1h0m20 0h0m16 0h0m-29 1h0m5 0h0m9 0h0m3 0h4m-15 1h0m23 1h0m29 0h0m-68 1h0m35 0h0m6 0h0m-24 1h0m4 0h0m6 0h4m7 0h0m5 0h0m-14 2h0m3 0h2m24 0h0m-20 1h0m22 0h0m-56 1h0m14 0h0m8 0h0m8 0h0m12 0h0m5 0h0m8 0h0m-28 1h4m21 0h0m-41 1h0m8 0h0m5 0h0m5 0h0m4 0h0m10 0h0m-20 2h0m4 0h0m4 0h2m-48 1h0m29 0h0m7 0h0m4 0h0m7 0h0m19 0h0m-23 1h0m4 0h0m3 0h1m13 0h0m-35 1h0m10 0h2m4 0h0m5 0h0m4 0h0m-11 1h2m24 0h0m-36 1h0m4 0h0m5 0h0m4 0h0m4 0h0m-14 1h0m4 0h0m4 0h0m11 0h0m6 0h0m-24 2h0m15 0h0m3 0h0m22 0h0m-46 1h0m9 0h0m4 0h1m6 0h2m5 0h0m-19 1h0m4 0h2m3 0h0m10 1h0m10 0h0m5 0h0m-48 1h0m11 0h0m5 0h0m7 0h0m3 0h0m3 0h0m5 0h0m9 0h0m-37 1h0m24 0h0m17 0h0m-27 1h1m9 0h1m5 0h0m12 0h0m-41 1h0m6 0h0m3 0h0m3 0h0m7 0h0m9 0h0m-22 1h0m6 0h0m5 0h4m8 0h0m3 0h2m6 0h0m-40 1h0m7 0h0m15 0h0m-25 1h0m3 0h1m12 0h4m12 0h0m37 0h0m-73 1h0m11 0h0m5 0h1m4 0h2m5 0h2m3 0h0m6 0h0m-30 1h0m3 0h0m3 0h4m4 0h0m4 0h0m3 0h2m8 0h0m7 0h2m-44 1h1m7 0h0m4 0h2m4 0h0m6 0h0m5 0h0m12 0h0m5 0h0m-49 1h0m5 0h0m4 0h1m3 0h0m4 0h4m4 0h3m14 0h0m9 0h0m8 0h0m-54 1h4m4 0h2m5 0h3m4 0h2m5 0h0m3 0h0m9 0h2m-41 1h9m6 0h2m4 0h0m3 0h0m15 0h2m-50 1h0m11 0h8m3 0h2m8 0h2m3 0h0m3 0h0m3 0h0m4 0h0m8 0h1m-52 1h16m3 0h1m6 0h2m6 0h0m5 0h0m4 0h0m6 0h0m12 0h0m-58 1h2m3 0h10m3 0h0m5 0h0m4 0h0m7 0h0m-38 1h1m4 0h2m4 0h8m11 0h0m7 0h0m8 0h0m-51 1h0m4 0h0m6 0h7m5 0h0m4 0h0m3 0h1m9 0h2m5 0h0m-41 1h4m3 0h15m5 0h0m5 0h0m6 0h2m17 0h0m-65 1h1m5 0h3m3 0h10m7 0h1m7 0h0m4 0h0m4 0h0m10 0h1m3 0h0m8 0h0m-62 1h3m4 0h19m11 0h0m7 0h0m6 0h5m5 0h0m4 0h0m-70 1h0m10 0h7m5 0h5m3 0h2m6 0h0m5 0h2m6 0h1m6 0h3m-59 1h0m11 0h4m3 0h0m3 0h5m13 0h0m5 0h2m4 0h2m9 0h0m-56 1h9m5 0h6m10 0h0m10 0h0m3 0h1m6 0h0m-59 1h1m5 0h0m4 0h1m5 0h0m5 0h3m10 0h0m16 0h0m5 0h0m6 0h0m3 0h0m-55 1h0m5 0h0m8 0h1m3 0h1m7 0h0m22 0h1m3 0h0m-56 1h0m7 0h1m4 0h3m7 0h2m4 0h1m10 0h0m5 0h1m10 0h0m3 0h0m-68 1h0m12 0h8m3 0h0m3 0h1m4 0h2m3 0h0m7 0h0m11 0h0m7 0h1m-47 1h3m4 0h0m4 0h1m29 0h0m3 0h1m4 0h0m6 0h0m5 0h0m-71 1h0m4 0h0m5 0h7m13 0h0m3 0h0m15 0h1m5 0h0m13 0h0m8 0h0m-72 1h5m5 0h6m3 0h0m3 0h2m4 0h0m16 0h0m9 0h0m8 0h0m12 0h0m-73 1h2m4 0h0m3 0h4m4 0h0m13 0h0m4 0h0m3 0h0m4 0h0m7 0h2m3 0h0m5 0h0m4 0h0m7 0h2m-73 1h0m4 0h1m4 0h0m5 0h8m6 0h0m23 0h2m16 0h0m9 0h0m-76 1h15m3 0h0m3 0h2m36 0h0m7 0h1m5 0h0m-73 1h2m4 0h3m8 0h0m34 0h5m3 0h0m8 0h1m-68 1h0m3 0h9m6 0h0m4 0h0m28 0h0m17 0h0m-64 1h6m5 0h0m3 0h0m36 0h0m13 0h0m6 0h0m-78 1h0m6 0h0m4 0h2m5 0h0m30 0h0m19 0h0m-68 1h0m6 0h2m6 0h0m8 0h0m28 0h0m12 0h2m3 0h1m-65 1h0m5 0h0m12 0h0m6 0h0m37 0h0m3 0h0m3 0h1m4 0h0m-62 1h0m3 0h1m38 0h0m5 0h2m7 0h1m11 0h0m3 0h0m-63 1h0m58 0h0m-69 1h0m70 0h0m-77 1h0m29 0h0m40 0h2m5 0h0m-63 1h0m48 0h0m3 0h0m9 0h0m-64 2h0m55 0h0m-58 2h0m62 0h0m1 1h0m3 1h0m-6 2h0m-24 1h0m4 0h12m5 0h6m4 0h7m3 0h3m3 0h0m3 0h0m15 0h0"/>
<path d="M127 435h0m5 0h6m4 0h9m5 0h0m5 0h9m3 0h7m-53 1h0m14 0h0m9 0h0m10 0h0m-31 1h0m18 0h0m31 0h0m-48 1h0m6 0h0m3 0h2m3 0h2m5 0h0m-24 1h0m4 0h0m3 0h0m3 0h0m20 0h1m3 0h0m3 0h0m4 0h0m-30 1h0m9 0h0m17 0h0m4 0h2m8 0h1m-52 1h1m16 0h2m7 0h1m3 0h0m14 0h0m-33 1h0m4 0h0m13 0h4m8 0h0m-39 1h0m3 0h0m4 0h0m5 0h0m3 0h0m6 0h3m17 0h1m7 0h0m-39 1h1m10 0h1m6 0h0m6 0h0m3 0h0m4 0h0m4 0h0m9 0h0m-55 1h1m3 0h0m9 0h0m6 0h0m5 0h3m5 0h2m3 0h0m7 0h0m-44 1h0m6 0h0m4 0h2m5 0h1m12 0h1m7 0h0m9 0h0m-47 1h2m3 0h0m6 0h4m8 0h1m5 0h0m-26 1h0m11 0h0m16 0h0m3 0h2m9 0h0m4 0h0m-48 1h0m5 0h1m7 0h2m3 0h0m4 0h2m4 0h0m17 0h2m3 0h2m-47 1h0m6 0h0m8 0h0m3 0h0m3 0h0m3 0h0m6 0h0m4 0h2m11 0h0m-51 1h0m6 0h0m10 0h0m4 0h0m4 0h2m4 0h0m19 0h0m4 0h0m-53 1h0m22 0h0m7 0h0m3 0h2m10 0h0m4 0h0m3 0h2m-53 1h0m8 0h0m3 0h5m4 0h2m5 0h1m8 0h0m4 0h0m8 0h0m-48 1h0m4 0h0m4 0h3m10 0h0m3 0h0m14 0h1m10 0h0m-49 1h0m9 0h0m5 0h0m6 0h1m16 0h1m6 0h0m-44 1h0m10 0h2m5 0h0m8 0h0m4 0h0m5 0h0m5 0h1m5 0h0m-45 1h0m16 0h3m6 0h0m4 0h0m3 0h1m6 0h0m6 0h0m-45 1h0m5 0h0m3 0h0m3 0h0m3 0h3m6 0h1m3 0h2m3 0h2m3 0h0m5 0h0m7 0h0m15 0h0m-63 1h0m8 0h1m4 0h2m4 0h1m4 0h3m6 0h2m13 0h0m-49 1h0m4 0h0m10 0h0m4 0h0m3 0h4m8 0h1m16 0h0m-46 1h2m3 0h0m10 0h0m4 0h0m10 0h0m8 0h3m5 0h0m-49 1h0m9 0h0m3 0h0m7 0h1m4 0h2m6 0h0m3 0h0m6 0h0m5 0h1m-47 1h0m8 0h7m3 0h7m16 0h0m-41 1h0m7 0h0m10 0h3m5 0h7m9 0h1m9 0h2m9 0h0m-62 1h1m4 0h0m3 0h1m5 0h2m6 0h1m3 0h0m6 0h0m3 0h2m4 0h2m13 0h0m5 0h0m-61 1h0m8 0h2m11 0h0m5 0h0m3 0h0m4 0h0m-33 1h1m7 0h0m5 0h0m8 0h0m5 0h2m6 0h0m3 0h5m3 0h0m36 0h0m-81 1h0m11 0h0m4 0h0m6 0h3m4 0h3m3 0h0m7 0h1m7 0h1m-50 1h0m4 0h4m13 0h5m3 0h3m10 0h1m-43 1h0m3 0h1m17 0h0m7 0h3m3 0h3m7 0h2m-46 1h0m11 0h4m8 0h0m4 0h1m5 0h7m6 0h1m-47 1h0m19 0h0m4 0h3m14 0h0m4 0h0m17 0h0m-61 1h0m5 0h3m10 0h1m4 0h0m3 0h2m7 0h5m5 0h3m-48 1h1m3 0h0m3 0h0m3 0h1m4 0h2m3 0h0m5 0h2m3 0h5m9 0h0m10 0h0m5 0h1m4 0h0m-64 1h0m5 0h1m6 0h6m3 0h0m3 0h0m29 0h0m-53 1h0m3 0h0m6 0h3m8 0h2m3 0h2m3 0h0m6 0h2m6 0h0m6 0h0m-46 1h0m3 0h1m4 0h0m5 0h0m5 0h3m4 0h1m8 0h1m5 0h2m5 0h0m-51 1h0m14 0h3m3 0h0m3 0h0m4 0h5m4 0h0m4 0h4m14 0h0m-58 1h0m6 0h2m4 0h0m5 0h3m5 0h0m10 0h1m11 0h0m4 0h0m-51 1h0m3 0h0m6 0h0m6 0h0m3 0h0m3 0h0m3 0h0m8 0h0m4 0h4m3 0h0m5 0h0m12 0h0m-50 1h1m8 0h7m3 0h0m4 0h2m3 0h4m4 0h0m17 0h0m-63 1h0m12 0h1m3 0h2m4 0h1m7 0h11m14 0h0m8 0h0m-63 1h1m4 0h7m7 0h2m8 0h0m6 0h2m3 0h0m6 0h2m6 0h0m6 0h0m-60 1h0m5 0h1m7 0h2m5 0h2m3 0h1m5 0h2m5 0h2m3 0h1m3 0h4m8 0h0m4 0h0m-63 1h0m8 0h3m3 0h0m6 0h2m4 0h5m4 0h3m10 0h0m-48 1h0m7 0h0m7 0h0m3 0h1m4 0h1m3 0h0m5 0h1m8 0h2m15 0h0m-57 1h0m6 0h0m5 0h0m4 0h0m4 0h0m3 0h5m3 0h7m3 0h0m3 0h0m4 0h2m-42 1h0m10 0h0m4 0h0m6 0h2m3 0h3m3 0h2m4 0h2m3 0h0m4 0h0m7 0h0m-60 1h0m5 0h0m3 0h10m3 0h1m6 0h1m3 0h1m4 0h0m9 0h0m15 0h0m-61 1h0m5 0h0m3 0h3m4 0h0m6 0h6m3 0h0m6 0h1m4 0h0m8 0h0m-49 1h0m7 0h2m3 0h0m3 0h0m7 0h1m3 0h1m3 0h1m6 0h2m3 0h1m4 0h0m-47 1h0m6 0h3m8 0h1m7 0h1m8 0h3m4 0h0m5 0h3m4 0h0m-53 1h0m4 0h0m3 0h1m4 0h3m7 0h2m3 0h10m4 0h0m4 0h3m4 0h1m12 0h0m-65 1h2m4 0h0m7 0h0m3 0h0m4 0h2m4 0h0m4 0h0m4 0h7m4 0h0m8 0h0m-53 1h0m3 0h0m5 0h0m5 0h3m3 0h0m3 0h1m5 0h10m4 0h0m3 0h1m13 0h0m5 0h0m-64 1h1m9 0h0m3 0h0m3 0h1m5 0h4m5 0h2m3 0h8m5 0h0m4 0h0m15 0h0m-65 1h0m7 0h5m7 0h0m6 0h3m5 0h2m8 0h0m3 0h1m7 0h0m-57 1h0m4 0h5m5 0h1m3 0h1m3 0h2m4 0h0m3 0h14m4 0h0m-47 1h0m4 0h0m8 0h1m3 0h10m4 0h1m4 0h0m3 0h2m4 0h0m-46 1h0m3 0h0m4 0h0m3 0h2m6 0h15m5 0h1m6 0h0m5 0h0m5 0h0m29 0h0m-82 1h0m10 0h0m5 0h5m5 0h0m3 0h0m12 0h0m7 0h0m3 0h0m4 0h0m-56 1h0m5 0h2m4 0h0m5 0h10m4 0h5m3 0h1m5 0h1m4 0h2m7 0h0m18 0h0m-76 1h3m8 0h0m6 0h2m4 0h0m4 0h1m3 0h1m5 0h1m5 0h1m7 0h0m-51 1h0m6 0h0m7 0h0m3 0h0m6 0h4m3 0h17m5 0h0m-51 1h0m10 0h0m4 0h0m4 0h0m3 0h4m3 0h9m4 0h5m11 0h0m8 0h0m8 0h0m-73 1h0m14 0h0m3 0h0m3 0h4m3 0h2m4 0h0m3 0h4m4 0h5m18 0h0m-67 1h0m7 0h3m5 0h0m4 0h11m4 0h1m4 0h1m4 0h1m4 0h1m-50 1h0m4 0h4m4 0h0m3 0h0m3 0h0m3 0h2m3 0h0m3 0h0m5 0h4m4 0h0m4 0h1m7 0h0m13 0h0m-60 1h2m5 0h2m3 0h10m4 0h6m6 0h4m3 0h0m22 0h0m-74 1h3m3 0h0m4 0h1m4 0h6m4 0h4m3 0h3m3 0h1m3 0h4m5 0h1m3 0h0m3 0h0m-49 1h2m4 0h24m5 0h0m11 0h0m-55 1h0m10 0h0m5 0h0m3 0h7m3 0h17m17 0h0m4 0h0m-66 1h0m8 0h0m4 0h1m7 0h0m3 0h19m3 0h0m6 0h2m-51 1h0m3 0h0m4 0h0m9 0h0m3 0h10m3 0h2m3 0h0m5 0h0m6 0h0m8 0h0m-58 1h0m7 0h3m14 0h5m4 0h0m6 0h2m4 0h1m-46 1h0m6 0h1m8 0h1m3 0h1m5 0h0m7 0h2m3 0h1m4 0h4m-38 1h0m3 0h0m5 0h11m5 0h6m4 0h1m4 0h1m5 0h0m-53 1h0m10 0h0m5 0h0m3 0h1m4 0h3m3 0h9m3 0h2m3 0h0m19 0h0m-65 1h0m11 0h0m9 0h0m3 0h0m4 0h2m5 0h0m3 0h3m3 0h1m3 0h0m-47 1h0m11 0h0m6 0h6m3 0h15m3 0h1m-45 1h3m3 0h0m4 0h0m6 0h5m3 0h2m4 0h3m4 0h10m4 0h0m-34 1h12m3 0h2m3 0h0m10 0h0m-46 1h0m7 0h0m7 0h1m6 0h5m3 0h3m3 0h2m3 0h2m4 0h0m14 0h0m-61 1h1m6 0h3m6 0h0m4 0h0m3 0h13m4 0h1m3 0h0m5 0h0m-43 1h1m5 0h7m7 0h3m3 0h6m5 0h5m-44 1h0m4 0h0m4 0h8m3 0h7m3 0h7m3 0h1m4 0h1m-49 1h0m10 0h1m7 0h2m3 0h15m3 0h0m3 0h2m-38 1h2m4 0h0m6 0h2m3 0h4m3 0h3m9 0h4m4 0h1m-50 1h0m13 0h0m4 0h11m3 0h0m3 0h0m3 0h7m-47 1h0m6 0h2m3 0h1m5 0h3m3 0h5m5 0h1m7 0h2m3 0h1m-47 1h0m10 0h2m3 0h8m3 0h5m3 0h0m4 0h2m4 0h2m4 0h1m-43 1h1m11 0h3m4 0h5m3 0h4m7 0h0m-46 1h0m8 0h0m3 0h0m4 0h6m3 0h8m3 0h3m-38 1h0m4 0h0m5 0h0m4 0h16m4 0h0m6 0h0m3 0h0m17 0h0m-53 1h17m6 0h8m3 0h0m11 0h0m7 0h0m-50 1h0m10 0h1m4 0h13m7 0h0m4 0h0m6 0h0m-51 1h0m8 0h8m4 0h4m4 0h0m9 0h0m4 0h0m4 0h0m4 0h0m-50 1h0m11 0h3m4 0h4m3 0h12m3 0h1m3 0h2m6 0h0m-53 1h1m3 0h3m4 0h3m4 0h0m3 0h16m7 0h2m-46 1h0m4 0h3m5 0h5m3 0h3m4 0h2m4 0h5m3 0h0m3 0h0m3 0h0m-44 1h1m5 0h0m4 0h0m3 0h0m3 0h3m3 0h7m4 0h1m11 0h0m-48 1h0m3 0h3m3 0h2m3 0h1m4 0h4m3 0h5m3 0h1m3 0h0m-36 1h6m5 0h0m3 0h3m3 0h12m5 0h2m-35 1h2m3 0h4m3 0h2m3 0h8m8 0h0m-35 1h1m9 0h3m3 0h0m3 0h8m4 0h0m12 0h0m-45 1h0m6 0h8m4 0h2m3 0h1m3 0h0m4 0h1m4 0h0m-38 1h0m11 0h5m3 0h4m3 0h3m4 0h6m-39 1h0m8 0h21m3 0h1m4 0h1m8 0h0m-46 1h0m4 0h0m5 0h0m3 0h3m4 0h0m3 0h2m3 0h1m3 0h5m13 0h0m-44 1h5m6 0h7m4 0h3m4 0h4m-38 1h0m4 0h3m4 0h15m4 0h1m7 0h2m-36 1h0m5 0h5m4 0h12m3 0h0m3 0h2m16 0h0m-54 1h0m3 0h3m4 0h18m3 0h0m-26 1h6m6 0h11m3 0h0m3 0h0m3 0h0m6 0h0m-43 1h1m4 0h3m3 0h7m3 0h0m4 0h1m3 0h0m9 0h0m4 0h0m-42 1h0m9 0h13m3 0h5m9 0h1m-40 1h0m3 0h2m6 0h6m4 0h4m8 0h2m13 0h0m-48 1h0m5 0h0m4 0h10m5 0h0m8 0h0m5 0h0m3 0h0m-40 1h4m5 0h8m4 0h0m4 0h1m3 0h2m7 0h2m-40 1h0m5 0h15m3 0h5m3 0h1m5 0h1m6 0h0m-44 1h0m4 0h1m3 0h17m8 0h0m3 0h0m3 0h0m-39 1h6m5 0h15m3 0h0m6 0h0m-35 1h2m3 0h0m7 0h2m3 0h7m3 0h3m11 0h0m-34 1h12m3 0h2m7 0h0m-31 1h17m4 0h1m4 0h0m3 0h0m6 0h0m-35 1h0m3 0h20m6 0h1m-30 1h20m3 0h0m4 0h1m10 0h0m-38 1h1m5 0h15m3 0h0m5 0h1m-30 1h21m7 0h0m-28 1h2m4 0h4m4 0h1m3 0h2m7 0h1m11 0h0m-39 1h17m12 0h0m-29 1h2m3 0h12m3 0h0m7 0h2m-29 1h0m3 0h13m10 0h0m4 0h0m-30 1h12m4 0h1m5 0h0m3 0h2m5 0h0m-32 1h12m3 0h0m3 0h0m18 0h0m-36 1h19m3 0h0m-22 1h0m3 0h16m-19 1h17m4 0h0m4 0h0m-25 1h9m5 0h3m3 0h0m5 0h0m-25 1h13m5 0h1m23 0h0m-42 1h16m-16 1h12m3 0h0m-15 1h7m4 0h2m-13 1h6m8 0h0m6 0h0m15 0h0m-35 1h1m3 0h0m3 0h4m-11 1h11m3 0h3m-17 1h6m4 0h0m11 0h0m-21 1h10m10 0h0m-20 1h0m7 0h5m6 0h2m-19 1h9m11 0h1m-22 1h0m4 0h0m3 0h0m-7 1h3m3 0h0m3 0h2m9 0h2"/>
<path d="M127 435h0m5 0h6m4 0h9m5 0h0m5 0h9m3 0h7m-53 1h0m14 0h0m9 0h0m10 0h0m-31 1h0m18 0h0m31 0h0m-48 1h0m6 0h0m3 0h2m3 0h2m5 0h0m-24 1h0m4 0h0m3 0h0m3 0h0m20 0h1m3 0h0m3 0h0m4 0h0m-30 1h0m9 0h0m17 0h0m4 0h2m8 0h1m-52 1h1m16 0h2m7 0h1m3 0h0m14 0h0m-33 1h0m4 0h0m13 0h4m8 0h0m-39 1h0m3 0h0m4 0h0m5 0h0m3 0h0m6 0h3m17 0h1m7 0h0m-39 1h1m10 0h1m6 0h0m6 0h0m3 0h0m4 0h0m4 0h0m9 0h0m-55 1h1m3 0h0m9 0h0m6 0h0m5 0h3m5 0h2m3 0h0m7 0h0m-44 1h0m6 0h0m4 0h2m5 0h1m12 0h1m7 0h0m9 0h0m-47 1h2m3 0h0m6 0h4m8 0h1m5 0h0m-26 1h0m11 0h0m16 0h0m3 0h2m9 0h0m4 0h0m-48 1h0m5 0h1m7 0h2m3 0h0m4 0h2m4 0h0m17 0h2m3 0h2m-47 1h0m6 0h0m8 0h0m3 0h0m3 0h0m3 0h0m6 0h0m4 0h2m11 0h0m-51 1h0m6 0h0m10 0h0m4 0h0m4 0h2m4 0h0m19 0h0m4 0h0m-53 1h0m22 0h0m7 0h0m3 0h2m10 0h0m4 0h0m3 0h2m-53 1h0m8 0h0m3 0h5m4 0h2m5 0h1m8 0h0m4 0h0m8 0h0m-48 1h0m4 0h0m4 0h3m10 0h0m3 0h0m14 0h1m10 0h0m-49 1h0m9 0h0m5 0h0m6 0h1m16 0h1m6 0h0m-44 1h0m10 0h2m5 0h0m8 0h0m4 0h0m5 0h0m5 0h1m5 0h0m-45 1h0m16 0h3m6 0h0m4 0h0m3 0h1m6 0h0m6 0h0m-45 1h0m5 0h0m3 0h0m3 0h0m3 0h3m6 0h1m3 0h2m3 0h2m3 0h0m5 0h0m7 0h0m15 0h0m-63 1h0m8 0h1m4 0h2m4 0h1m4 0h3m6 0h2m13 0h0m-49 1h0m4 0h0m10 0h0m4 0h0m3 0h4m8 0h1m16 0h0m-46 1h2m3 0h0m10 0h0m4 0h0m10 0h0m8 0h3m5 0h0m-49 1h0m9 0h0m3 0h0m7 0h1m4 0h2m6 0h0m3 0h0m6 0h0m5 0h1m-47 1h0m8 0h7m3 0h7m16 0h0m-41 1h0m7 0h0m10 0h3m5 0h7m9 0h1m9 0h2m9 0h0m-62 1h1m4 0h0m3 0h1m5 0h2m6 0h1m3 0h0m6 0h0m3 0h2m4 0h2m13 0h0m5 0h0m-61 1h0m8 0h2m11 0h0m5 0h0m3 0h0m4 0h0m-33 1h1m7 0h0m5 0h0m8 0h0m5 0h2m6 0h0m3 0h5m3 0h0m36 0h0m-81 1h0m11 0h0m4 0h0m6 0h3m4 0h3m3 0h0m7 0h1m7 0h1m-50 1h0m4 0h4m13 0h5m3 0h3m10 0h1m-43 1h0m3 0h1m17 0h0m7 0h3m3 0h3m7 0h2m-46 1h0m11 0h4m8 0h0m4 0h1m5 0h7m6 0h1m-47 1h0m19 0h0m4 0h3m14 0h0m4 0h0m17 0h0m-61 1h0m5 0h3m10 0h1m4 0h0m3 0h2m7 0h5m5 0h3m-48 1h1m3 0h0m3 0h0m3 0h1m4 0h2m3 0h0m5 0h2m3 0h5m9 0h0m10 0h0m5 0h1m4 0h0m-64 1h0m5 0h1m6 0h6m3 0h0m3 0h0m29 0h0m-53 1h0m3 0h0m6 0h3m8 0h2m3 0h2m3 0h0m6 0h2m6 0h0m6 0h0m-46 1h0m3 0h1m4 0h0m5 0h0m5 0h3m4 0h1m8 0h1m5 0h2m5 0h0m-51 1h0m14 0h3m3 0h0m3 0h0m4 0h5m4 0h0m4 0h4m14 0h0m-58 1h0m6 0h2m4 0h0m5 0h3m5 0h0m10 0h1m11 0h0m4 0h0m-51 1h0m3 0h0m6 0h0m6 0h0m3 0h0m3 0h0m3 0h0m8 0h0m4 0h4m3 0h0m5 0h0m12 0h0m-50 1h1m8 0h7m3 0h0m4 0h2m3 0h4m4 0h0m17 0h0m-63 1h0m12 0h1m3 0h2m4 0h1m7 0h11m14 0h0m8 0h0m-63 1h1m4 0h7m7 0h2m8 0h0m6 0h2m3 0h0m6 0h2m6 0h0m6 0h0m-60 1h0m5 0h1m7 0h2m5 0h2m3 0h1m5 0h2m5 0h2m3 0h1m3 0h4m8 0h0m4 0h0m-63 1h0m8 0h3m3 0h0m6 0h2m4 0h5m4 0h3m10 0h0m-48 1h0m7 0h0m7 0h0m3 0h1m4 0h1m3 0h0m5 0h1m8 0h2m15 0h0m-57 1h0m6 0h0m5 0h0m4 0h0m4 0h0m3 0h5m3 0h7m3 0h0m3 0h0m4 0h2m-42 1h0m10 0h0m4 0h0m6 0h2m3 0h3m3 0h2m4 0h2m3 0h0m4 0h0m7 0h0m-60 1h0m5 0h0m3 0h10m3 0h1m6 0h1m3 0h1m4 0h0m9 0h0m15 0h0m-61 1h0m5 0h0m3 0h3m4 0h0m6 0h6m3 0h0m6 0h1m4 0h0m8 0h0m-49 1h0m7 0h2m3 0h0m3 0h0m7 0h1m3 0h1m3 0h1m6 0h2m3 0h1m4 0h0m-47 1h0m6 0h3m8 0h1m7 0h1m8 0h3m4 0h0m5 0h3m4 0h0m-53 1h0m4 0h0m3 0h1m4 0h3m7 0h2m3 0h10m4 0h0m4 0h3m4 0h1m12 0h0m-65 1h2m4 0h0m7 0h0m3 0h0m4 0h2m4 0h0m4 0h0m4 0h7m4 0h0m8 0h0m-53 1h0m3 0h0m5 0h0m5 0h3m3 0h0m3 0h1m5 0h10m4 0h0m3 0h1m13 0h0m5 0h0m-64 1h1m9 0h0m3 0h0m3 0h1m5 0h4m5 0h2m3 0h8m5 0h0m4 0h0m15 0h0m-65 1h0m7 0h5m7 0h0m6 0h3m5 0h2m8 0h0m3 0h1m7 0h0m-57 1h0m4 0h5m5 0h1m3 0h1m3 0h2m4 0h0m3 0h14m4 0h0m-47 1h0m4 0h0m8 0h1m3 0h10m4 0h1m4 0h0m3 0h2m4 0h0m-46 1h0m3 0h0m4 0h0m3 0h2m6 0h15m5 0h1m6 0h0m5 0h0m5 0h0m29 0h0m-82 1h0m10 0h0m5 0h5m5 0h0m3 0h0m12 0h0m7 0h0m3 0h0m4 0h0m-56 1h0m5 0h2m4 0h0m5 0h10m4 0h5m3 0h1m5 0h1m4 0h2m7 0h0m18 0h0m-76 1h3m8 0h0m6 0h2m4 0h0m4 0h1m3 0h1m5 0h1m5 0h1m7 0h0m-51 1h0m6 0h0m7 0h0m3 0h0m6 0h4m3 0h17m5 0h0m-51 1h0m10 0h0m4 0h0m4 0h0m3 0h4m3 0h9m4 0h5m11 0h0m8 0h0m8 0h0m-73 1h0m14 0h0m3 0h0m3 0h4m3 0h2m4 0h0m3 0h4m4 0h5m18 0h0m-67 1h0m7 0h3m5 0h0m4 0h11m4 0h1m4 0h1m4 0h1m4 0h1m-50 1h0m4 0h4m4 0h0m3 0h0m3 0h0m3 0h2m3 0h0m3 0h0m5 0h4m4 0h0m4 0h1m7 0h0m13 0h0m-60 1h2m5 0h2m3 0h10m4 0h6m6 0h4m3 0h0m22 0h0m-74 1h3m3 0h0m4 0h1m4 0h6m4 0h4m3 0h3m3 0h1m3 0h4m5 0h1m3 0h0m3 0h0m-49 1h2m4 0h24m5 0h0m11 0h0m-55 1h0m10 0h0m5 0h0m3 0h7m3 0h17m17 0h0m4 0h0m-66 1h0m8 0h0m4 0h1m7 0h0m3 0h19m3 0h0m6 0h2m-51 1h0m3 0h0m4 0h0m9 0h0m3 0h10m3 0h2m3 0h0m5 0h0m6 0h0m8 0h0m-58 1h0m7 0h3m14 0h5m4 0h0m6 0h2m4 0h1m-46 1h0m6 0h1m8 0h1m3 0h1m5 0h0m7 0h2m3 0h1m4 0h4m-38 1h0m3 0h0m5 0h11m5 0h6m4 0h1m4 0h1m5 0h0m-53 1h0m10 0h0m5 0h0m3 0h1m4 0h3m3 0h9m3 0h2m3 0h0m19 0h0m-65 1h0m11 0h0m9 0h0m3 0h0m4 0h2m5 0h0m3 0h3m3 0h1m3 0h0m-47 1h0m11 0h0m6 0h6m3 0h15m3 0h1m-45 1h3m3 0h0m4 0h0m6 0h5m3 0h2m4 0h3m4 0h10m4 0h0m-34 1h12m3 0h2m3 0h0m10 0h0m-46 1h0m7 0h0m7 0h1m6 0h5m3 0h3m3 0h2m3 0h2m4 0h0m14 0h0m-61 1h1m6 0h3m6 0h0m4 0h0m3 0h13m4 0h1m3 0h0m5 0h0m-43 1h1m5 0h7m7 0h3m3 0h6m5 0h5m-44 1h0m4 0h0m4 0h8m3 0h7m3 0h7m3 0h1m4 0h1m-49 1h0m10 0h1m7 0h2m3 0h15m3 0h0m3 0h2m-38 1h2m4 0h0m6 0h2m3 0h4m3 0h3m9 0h4m4 0h1m-50 1h0m13 0h0m4 0h11m3 0h0m3 0h0m3 0h7m-47 1h0m6 0h2m3 0h1m5 0h3m3 0h5m5 0h1m7 0h2m3 0h1m-47 1h0m10 0h2m3 0h8m3 0h5m3 0h0m4 0h2m4 0h2m4 0h1m-43 1h1m11 0h3m4 0h5m3 0h4m7 0h0m-46 1h0m8 0h0m3 0h0m4 0h6m3 0h8m3 0h3m-38 1h0m4 0h0m5 0h0m4 0h16m4 0h0m6 0h0m3 0h0m17 0h0m-53 1h17m6 0h8m3 0h0m11 0h0m7 0h0m-50 1h0m10 0h1m4 0h13m7 0h0m4 0h0m6 0h0m-51 1h0m8 0h8m4 0h4m4 0h0m9 0h0m4 0h0m4 0h0m4 0h0m-50 1h0m11 0h3m4 0h4m3 0h12m3 0h1m3 0h2m6 0h0m-53 1h1m3 0h3m4 0h3m4 0h0m3 0h16m7 0h2m-46 1h0m4 0h3m5 0h5m3 0h3m4 0h2m4 0h5m3 0h0m3 0h0m3 0h0m-44 1h1m5 0h0m4 0h0m3 0h0m3 0h3m3 0h7m4 0h1m11 0h0m-48 1h0m3 0h3m3 0h2m3 0h1m4 0h4m3 0h5m3 0h1m3 0h0m-36 1h6m5 0h0m3 0h3m3 0h12m5 0h2m-35 1h2m3 0h4m3 0h2m3 0h8m8 0h0m-35 1h1m9 0h3m3 0h0m3 0h8m4 0h0m12 0h0m-45 1h0m6 0h8m4 0h2m3 0h1m3 0h0m4 0h1m4 0h0m-38 1h0m11 0h5m3 0h4m3 0h3m4 0h6m-39 1h0m8 0h21m3 0h1m4 0h1m8 0h0m-46 1h0m4 0h0m5 0h0m3 0h3m4 0h0m3 0h2m3 0h1m3 0h5m13 0h0m-44 1h5m6 0h7m4 0h3m4 0h4m-38 1h0m4 0h3m4 0h15m4 0h1m7 0h2m-36 1h0m5 0h5m4 0h12m3 0h0m3 0h2m16 0h0m-54 1h0m3 0h3m4 0h18m3 0h0m-26 1h6m6 0h11m3 0h0m3 0h0m3 0h0m6 0h0m-43 1h1m4 0h3m3 0h7m3 0h0m4 0h1m3 0h0m9 0h0m4 0h0m-42 1h0m9 0h13m3 0h5m9 0h1m-40 1h0m3 0h2m6 0h6m4 0h4m8 0h2m13 0h0m-48 1h0m5 0h0m4 0h10m5 0h0m8 0h0m5 0h0m3 0h0m-40 1h4m5 0h8m4 0h0m4 0h1m3 0h2m7 0h2m-40 1h0m5 0h15m3 0h5m3 0h1m5 0h1m6 0h0m-44 1h0m4 0h1m3 0h17m8 0h0m3 0h0m3 0h0m-39 1h6m5 0h15m3 0h0m6 0h0m-35 1h2m3 0h0m7 0h2m3 0h7m3 0h3m11 0h0m-34 1h12m3 0h2m7 0h0m-31 1h17m4 0h1m4 0h0m3 0h0m6 0h0m-35 1h0m3 0h20m6 0h1m-30 1h20m3 0h0m4 0h1m10 0h0m-38 1h1m5 0h15m3 0h0m5 0h1m-30 1h21m7 0h0m-28 1h2m4 0h4m4 0h1m3 0h2m7 0h1m11 0h0m-39 1h17m12 0h0m-29 1h2m3 0h12m3 0h0m7 0h2m-29 1h0m3 0h13m10 0h0m4 0h0m-30 1h12m4 0h1m5 0h0m3 0h2m5 0h0m-32 1h12m3 0h0m3 0h0m18 0h0m-36 1h19m3 0h0m-22 1h0m3 0h16m-19 1h17m4 0h0m4 0h0m-25 1h9m5 0h3m3 0h0m5 0h0m-25 1h13m5 0h1m23 0h0m-42 1h16m-16 1h12m3 0h0m-15 1h7m4 0h2m-13 1h6m8 0h0m6 0h0m15 0h0m-35 1h1m3 0h0m3 0h4m-11 1h11m3 0h3m-17 1h6m4 0h0m11 0h0m-21 1h10m10 0h0m-20 1h0m7 0h5m6 0h2m-19 1h9m11 0h1m-22 1h0m4 0h0m3 0h0m-7 1h3m3 0h0m3 0h2m9 0h2"/>
<path d="M454 433h1m5 0h0m7 0h0m5 0h0m3 0h0m5 0h14m3 0h1m4 0h6m3 0h10m3 0h0m3 0h13m4 0h20m5 0h0m4 0h6m4 0h0m4 0h2m3 0h1m3 0h0m3 0h1m6 0h2m11 0h0m3 0h0m-81 1h0m-64 1h0m-40 1h0m35 1h0m10 0h0m-41 1h0m9 3h0m19 0h0m6 0h0m5 1h0m-42 1h0m11 0h0m20 0h0m-39 1h0m44 0h0m-44 1h0m18 0h0m28 0h0m-46 1h0m15 0h0m19 0h0m-22 1h0m5 0h0m7 0h0m-2 1h0m-22 1h1m6 0h0m4 0h0m11 0h0m-21 1h0m39 0h0m14 0h0m-45 1h0m7 0h0m6 0h0m3 0h0m10 0h0m-18 1h0m4 0h0m-13 1h2m3 0h0m3 0h0m6 0h0m7 0h0m-22 1h3m6 0h0m12 0h0m37 0h0m-65 1h0m12 0h0m4 0h3m3 0h0m22 0h0m-44 1h2m9 0h1m5 0h2m6 0h0m3 0h0m12 0h2m-39 1h0m3 0h0m4 0h1m12 0h0m8 0h0m12 0h0m4 0h0m-43 1h0m5 0h1m4 0h1m5 0h2m14 0h0m4 0h0m4 0h1m14 0h0m-59 1h2m6 0h7m3 0h1m4 0h0m3 0h0m7 0h0m3 0h1m20 0h0m-57 1h0m3 0h4m10 0h2m3 0h5m4 0h2m12 0h0m3 0h0m16 0h0m-64 1h2m3 0h5m3 0h1m3 0h0m4 0h2m4 0h0m6 0h7m5 0h0m11 0h0m5 0h0m14 0h0m-75 1h1m3 0h1m4 0h5m3 0h1m3 0h1m4 0h3m3 0h4m3 0h2m5 0h0m5 0h0m6 0h0m-57 1h1m4 0h0m3 0h0m4 0h6m3 0h2m6 0h2m4 0h0m3 0h5m13 0h0m-56 1h2m3 0h0m3 0h23m4 0h1m5 0h0m4 0h1m6 0h0m4 0h0m3 0h0m3 0h0m-62 1h0m6 0h14m3 0h6m3 0h2m3 0h0m3 0h0m11 0h0m-51 1h8m3 0h4m5 0h6m3 0h0m4 0h5m4 0h1m4 0h0m-47 1h8m3 0h4m3 0h13m3 0h1m3 0h0m3 0h1m3 0h0m3 0h0m6 0h0m3 0h0m11 0h0m-68 1h17m4 0h2m4 0h6m3 0h2m6 0h0m3 0h0m-47 1h2m3 0h29m5 0h4m3 0h0m3 0h0m4 0h0m-53 1h4m5 0h5m4 0h6m3 0h0m3 0h10m3 0h0m11 0h0m6 0h0m-60 1h4m4 0h3m3 0h4m3 0h16m3 0h1m5 0h4m-50 1h2m4 0h4m5 0h1m3 0h13m3 0h2m4 0h3m5 0h0m-49 1h9m3 0h5m3 0h5m3 0h4m3 0h9m6 0h0m6 0h0m-56 1h1m3 0h3m4 0h11m3 0h8m7 0h0m4 0h1m3 0h0m5 0h0m-53 1h3m3 0h16m5 0h0m5 0h2m3 0h0m8 0h3m3 0h2m3 0h2m-58 1h0m4 0h4m3 0h9m4 0h6m3 0h5m3 0h4m4 0h0m12 0h0m-61 1h11m3 0h7m4 0h13m4 0h0m13 0h0m-55 1h0m3 0h1m6 0h0m3 0h9m3 0h13m5 0h0m5 0h0m8 0h0m-56 1h0m5 0h0m3 0h27m3 0h2m3 0h5m3 0h0m11 0h1m3 0h0m-66 1h3m5 0h0m5 0h10m5 0h3m5 0h0m9 0h1m7 0h0m7 0h0m-60 1h5m6 0h7m3 0h1m4 0h1m4 0h2m5 0h1m3 0h2m4 0h0m4 0h0m-52 1h1m6 0h1m9 0h8m5 0h4m3 0h0m3 0h2m4 0h0m7 0h1m-54 1h4m8 0h2m4 0h0m4 0h10m3 0h0m6 0h0m-41 1h4m3 0h0m3 0h0m5 0h5m8 0h0m3 0h3m3 0h0m6 0h0m6 0h2m-51 1h0m3 0h0m3 0h2m4 0h2m4 0h2m5 0h2m4 0h0m5 0h2m4 0h0m3 0h0m6 0h0m6 0h0m-57 1h3m8 0h3m3 0h7m3 0h5m3 0h0m4 0h0m10 0h4m-53 1h1m5 0h2m4 0h5m3 0h10m4 0h2m5 0h0m6 0h0m11 0h0m-58 1h0m12 0h1m3 0h0m3 0h0m7 0h1m3 0h2m4 0h0m3 0h0m7 0h0m10 0h0m-56 1h4m6 0h1m3 0h0m5 0h2m4 0h2m3 0h5m11 0h0m8 0h0m16 0h0m-70 1h0m15 0h1m7 0h6m4 0h0m3 0h2m22 0h0m-57 1h1m6 0h0m3 0h0m4 0h4m3 0h0m5 0h0m5 0h0m3 0h0m5 0h0m3 0h0m13 0h0m-54 1h2m9 0h0m4 0h0m5 0h2m6 0h5m11 0h0m4 0h0m4 0h0m6 0h0m-62 1h0m5 0h0m8 0h10m3 0h0m3 0h0m3 0h3m3 0h0m3 0h1m4 0h0m4 0h0m4 0h0m-54 1h5m6 0h1m6 0h11m6 0h1m6 0h0m13 0h0m5 0h0m-60 1h4m3 0h0m3 0h0m8 0h3m3 0h2m3 0h0m5 0h2m12 0h0m-48 1h1m11 0h0m4 0h0m8 0h1m3 0h3m9 0h1m6 0h2m-49 1h1m3 0h0m5 0h0m6 0h4m5 0h0m3 0h0m3 0h9m3 0h3m4 0h0m4 0h0m-48 1h0m3 0h0m5 0h0m4 0h2m5 0h6m5 0h0m12 0h2m12 0h0m-61 1h0m6 0h0m8 0h0m3 0h3m3 0h2m6 0h1m3 0h3m3 0h1m8 0h0m4 0h2m-56 1h0m12 0h4m5 0h0m3 0h8m3 0h3m3 0h3m6 0h2m11 0h0m-62 1h2m5 0h0m3 0h1m5 0h2m5 0h3m3 0h3m3 0h2m3 0h0m-37 1h3m6 0h4m3 0h4m3 0h0m3 0h2m5 0h2m13 0h0m9 0h0m-61 1h2m6 0h0m3 0h0m4 0h0m3 0h5m3 0h2m5 0h2m3 0h0m4 0h0m14 0h0m-53 1h0m5 0h1m5 0h6m5 0h0m4 0h1m5 0h0m3 0h0m4 0h4m3 0h0m12 0h0m-61 1h0m7 0h0m4 0h0m7 0h18m5 0h0m5 0h0m3 0h0m3 0h0m4 0h0m-56 1h7m4 0h1m3 0h6m4 0h0m4 0h0m3 0h3m5 0h0m3 0h1m6 0h0m15 0h0m-65 1h0m19 0h15m4 0h1m3 0h0m8 0h0m8 0h0m4 0h0m-57 1h3m3 0h0m12 0h0m4 0h0m3 0h0m11 0h0m-41 1h0m3 0h0m5 0h7m3 0h7m5 0h4m11 0h0m7 0h2m9 0h0m-63 1h0m6 0h0m5 0h0m3 0h14m3 0h1m5 0h2m4 0h0m5 0h0m3 0h0m14 0h0m-61 1h3m3 0h0m3 0h8m3 0h2m3 0h2m6 0h0m4 0h1m4 0h0m7 0h0m5 0h0m-58 1h0m3 0h0m5 0h0m13 0h0m3 0h0m3 0h3m3 0h0m4 0h10m3 0h0m12 0h0m-59 1h1m4 0h2m6 0h6m3 0h0m3 0h6m3 0h0m4 0h2m4 0h0m4 0h0m-51 1h0m3 0h10m3 0h0m4 0h4m3 0h2m4 0h3m3 0h0m-39 1h2m5 0h0m5 0h8m3 0h6m9 0h0m15 0h0m-53 1h0m3 0h2m12 0h2m4 0h3m3 0h2m9 0h0m3 0h0m4 0h2m7 0h0m-50 1h1m4 0h2m6 0h13m8 0h0m4 0h2m3 0h0m-49 1h0m3 0h2m3 0h5m3 0h8m12 0h2m14 0h1m-53 1h0m7 0h0m6 0h0m4 0h0m6 0h5m6 0h2m3 0h0m-35 1h0m3 0h2m6 0h8m3 0h2m7 0h5m7 0h0m-47 1h0m4 0h0m3 0h0m4 0h3m3 0h9m8 0h0m3 0h3m10 0h0m-50 1h0m4 0h0m8 0h5m3 0h5m3 0h0m3 0h0m3 0h0m4 0h0m3 0h3m5 0h3m8 0h0m-60 1h0m5 0h3m3 0h5m3 0h5m4 0h2m5 0h1m5 0h5m14 0h0m-57 1h0m3 0h2m4 0h0m4 0h8m8 0h5m3 0h0m3 0h1m6 0h0m-46 1h0m6 0h0m4 0h2m3 0h1m9 0h2m5 0h0m7 0h1m5 0h0m15 0h0m-64 1h0m7 0h3m3 0h4m5 0h0m5 0h6m8 0h0m-35 1h0m4 0h13m3 0h0m4 0h0m3 0h0m7 0h0m-40 1h0m6 0h0m7 0h17m6 0h0m7 0h0m12 0h0m-55 1h2m5 0h4m4 0h8m5 0h2m4 0h0m6 0h0m-37 1h0m4 0h0m3 0h0m3 0h4m8 0h10m5 0h1m7 0h0m-48 1h0m3 0h3m7 0h3m3 0h2m4 0h8m5 0h2m3 0h0m3 0h0m4 0h0m-50 1h0m4 0h1m3 0h5m3 0h2m3 0h0m4 0h0m6 0h2m6 0h2m7 0h0m-48 1h0m8 0h0m3 0h7m3 0h1m3 0h0m5 0h1m7 0h2m3 0h1m6 0h0m-50 1h0m7 0h9m10 0h0m4 0h0m5 0h0m7 0h1m-43 1h0m3 0h2m3 0h0m3 0h5m3 0h0m3 0h0m3 0h0m4 0h3m4 0h0m6 0h0m-42 1h0m3 0h3m5 0h1m5 0h2m5 0h2m5 0h3m4 0h2m8 0h0m4 0h0m-52 1h2m6 0h0m7 0h0m5 0h14m-34 1h0m9 0h0m3 0h1m4 0h1m7 0h0m3 0h0m3 0h3m5 0h0m10 0h0m-42 1h0m4 0h2m3 0h0m4 0h4m10 0h0m4 0h0m13 0h0m7 0h0m-58 1h1m4 0h0m3 0h0m3 0h3m4 0h0m6 0h0m7 0h0m3 0h0m4 0h0m5 0h0m13 0h0m-48 1h6m5 0h4m6 0h0m4 0h0m16 0h1m13 0h0m-63 1h0m6 0h0m4 0h0m8 0h5m3 0h2m3 0h0m10 0h0m-41 1h3m4 0h3m3 0h2m6 0h0m3 0h1m8 0h0m9 0h0m12 0h0m-49 1h5m8 0h1m4 0h0m3 0h0m5 0h0m9 0h0m21 0h0m-60 1h7m6 0h1m5 0h2m5 0h0m4 0h3m7 0h0m10 0h0m-48 1h2m7 0h0m13 0h0m3 0h2m6 0h1m-37 1h4m10 0h4m5 0h0m4 0h0m3 0h0m3 0h0m5 0h0m7 0h0m-40 1h0m8 0h0m3 0h1m6 0h0m6 0h0m5 0h0m-34 1h0m7 0h2m3 0h2m3 0h0m19 0h0m12 0h0m-48 1h0m5 0h5m3 0h0m5 0h1m15 0h0m6 0h0m7 0h0m10 0h0m-57 1h3m9 0h0m6 0h0m4 0h0m23 0h0m-37 1h0m4 0h6m16 0h0m3 0h1m3 0h0m-41 1h0m3 0h7m12 0h1m-18 1h0m21 0h0m-20 1h2m11 0h0m3 0h0m4 0h0m-16 1h2m-12 1h0m5 0h0m6 0h1m18 0h2m4 0h0m-32 1h0m13 0h0m18 0h0m-28 1h0m5 0h1m9 0h0m19 0h1m-37 1h1m10 0h0m-15 1h0m3 0h1m3 0h2m-5 1h2m7 0h0m9 0h0m-23 1h0m3 0h1m25 0h0m-29 2h0m10 0h1m-5 1h2m5 0h0m9 0h0m-19 1h0m3 0h0m11 0h0m-17 1h0m4 0h0m13 0h0m-17 1h0m9 0h0m-9 1h0m6 0h0m7 0h0m-12 1h0m3 0h2m4 0h0m3 0h0m-13 1h0m3 0h2m6 0h2m-8 1h2m-7 1h2m7 0h0m5 0h0m0 1h0m4 0h0m-13 1h1m4 0h2m-12 1h0m4 0h3m5 0h0m-12 1h0m6 0h0m2 2h1m3 0h0m-10 1h2m14 0h0m-3 1h0m-15 1h0m9 0h0m-8 1h0m-1 2h0m8 0h0m-4 1h0m-4 1h0m12 0h2m-1 1h0m-7 2h2m6 0h0"/>
<path d="M454 433h1m5 0h0m7 0h0m5 0h0m3 0h0m5 0h14m3 0h1m4 0h6m3 0h10m3 0h0m3 0h13m4 0h20m5 0h0m4 0h6m4 0h0m4 0h2m3 0h1m3 0h0m3 0h1m6 0h2m11 0h0m3 0h0m-81 1h0m-64 1h0m-40 1h0m35 1h0m10 0h0m-41 1h0m9 3h0m19 0h0m6 0h0m5 1h0m-42 1h0m11 0h0m20 0h0m-39 1h0m44 0h0m-44 1h0m18 0h0m28 0h0m-46 1h0m15 0h0m19 0h0m-22 1h0m5 0h0m7 0h0m-2 1h0m-22 1h1m6 0h0m4 0h0m11 0h0m-21 1h0m39 0h0m14 0h0m-45 1h0m7 0h0m6 0h0m3 0h0m10 0h0m-18 1h0m4 0h0m-13 1h2m3 0h0m3 0h0m6 0h0m7 0h0m-22 1h3m6 0h0m12 0h0m37 0h0m-65 1h0m12 0h0m4 0h3m3 0h0m22 0h0m-44 1h2m9 0h1m5 0h2m6 0h0m3 0h0m12 0h2m-39 1h0m3 0h0m4 0h1m12 0h0m8 0h0m12 0h0m4 0h0m-43 1h0m5 0h1m4 0h1m5 0h2m14 0h0m4 0h0m4 0h1m14 0h0m-59 1h2m6 0h7m3 0h1m4 0h0m3 0h0m7 0h0m3 0h1m20 0h0m-57 1h0m3 0h4m10 0h2m3 0h5m4 0h2m12 0h0m3 0h0m16 0h0m-64 1h2m3 0h5m3 0h1m3 0h0m4 0h2m4 0h0m6 0h7m5 0h0m11 0h0m5 0h0m14 0h0m-75 1h1m3 0h1m4 0h5m3 0h1m3 0h1m4 0h3m3 0h4m3 0h2m5 0h0m5 0h0m6 0h0m-57 1h1m4 0h0m3 0h0m4 0h6m3 0h2m6 0h2m4 0h0m3 0h5m13 0h0m-56 1h2m3 0h0m3 0h23m4 0h1m5 0h0m4 0h1m6 0h0m4 0h0m3 0h0m3 0h0m-62 1h0m6 0h14m3 0h6m3 0h2m3 0h0m3 0h0m11 0h0m-51 1h8m3 0h4m5 0h6m3 0h0m4 0h5m4 0h1m4 0h0m-47 1h8m3 0h4m3 0h13m3 0h1m3 0h0m3 0h1m3 0h0m3 0h0m6 0h0m3 0h0m11 0h0m-68 1h17m4 0h2m4 0h6m3 0h2m6 0h0m3 0h0m-47 1h2m3 0h29m5 0h4m3 0h0m3 0h0m4 0h0m-53 1h4m5 0h5m4 0h6m3 0h0m3 0h10m3 0h0m11 0h0m6 0h0m-60 1h4m4 0h3m3 0h4m3 0h16m3 0h1m5 0h4m-50 1h2m4 0h4m5 0h1m3 0h13m3 0h2m4 0h3m5 0h0m-49 1h9m3 0h5m3 0h5m3 0h4m3 0h9m6 0h0m6 0h0m-56 1h1m3 0h3m4 0h11m3 0h8m7 0h0m4 0h1m3 0h0m5 0h0m-53 1h3m3 0h16m5 0h0m5 0h2m3 0h0m8 0h3m3 0h2m3 0h2m-58 1h0m4 0h4m3 0h9m4 0h6m3 0h5m3 0h4m4 0h0m12 0h0m-61 1h11m3 0h7m4 0h13m4 0h0m13 0h0m-55 1h0m3 0h1m6 0h0m3 0h9m3 0h13m5 0h0m5 0h0m8 0h0m-56 1h0m5 0h0m3 0h27m3 0h2m3 0h5m3 0h0m11 0h1m3 0h0m-66 1h3m5 0h0m5 0h10m5 0h3m5 0h0m9 0h1m7 0h0m7 0h0m-60 1h5m6 0h7m3 0h1m4 0h1m4 0h2m5 0h1m3 0h2m4 0h0m4 0h0m-52 1h1m6 0h1m9 0h8m5 0h4m3 0h0m3 0h2m4 0h0m7 0h1m-54 1h4m8 0h2m4 0h0m4 0h10m3 0h0m6 0h0m-41 1h4m3 0h0m3 0h0m5 0h5m8 0h0m3 0h3m3 0h0m6 0h0m6 0h2m-51 1h0m3 0h0m3 0h2m4 0h2m4 0h2m5 0h2m4 0h0m5 0h2m4 0h0m3 0h0m6 0h0m6 0h0m-57 1h3m8 0h3m3 0h7m3 0h5m3 0h0m4 0h0m10 0h4m-53 1h1m5 0h2m4 0h5m3 0h10m4 0h2m5 0h0m6 0h0m11 0h0m-58 1h0m12 0h1m3 0h0m3 0h0m7 0h1m3 0h2m4 0h0m3 0h0m7 0h0m10 0h0m-56 1h4m6 0h1m3 0h0m5 0h2m4 0h2m3 0h5m11 0h0m8 0h0m16 0h0m-70 1h0m15 0h1m7 0h6m4 0h0m3 0h2m22 0h0m-57 1h1m6 0h0m3 0h0m4 0h4m3 0h0m5 0h0m5 0h0m3 0h0m5 0h0m3 0h0m13 0h0m-54 1h2m9 0h0m4 0h0m5 0h2m6 0h5m11 0h0m4 0h0m4 0h0m6 0h0m-62 1h0m5 0h0m8 0h10m3 0h0m3 0h0m3 0h3m3 0h0m3 0h1m4 0h0m4 0h0m4 0h0m-54 1h5m6 0h1m6 0h11m6 0h1m6 0h0m13 0h0m5 0h0m-60 1h4m3 0h0m3 0h0m8 0h3m3 0h2m3 0h0m5 0h2m12 0h0m-48 1h1m11 0h0m4 0h0m8 0h1m3 0h3m9 0h1m6 0h2m-49 1h1m3 0h0m5 0h0m6 0h4m5 0h0m3 0h0m3 0h9m3 0h3m4 0h0m4 0h0m-48 1h0m3 0h0m5 0h0m4 0h2m5 0h6m5 0h0m12 0h2m12 0h0m-61 1h0m6 0h0m8 0h0m3 0h3m3 0h2m6 0h1m3 0h3m3 0h1m8 0h0m4 0h2m-56 1h0m12 0h4m5 0h0m3 0h8m3 0h3m3 0h3m6 0h2m11 0h0m-62 1h2m5 0h0m3 0h1m5 0h2m5 0h3m3 0h3m3 0h2m3 0h0m-37 1h3m6 0h4m3 0h4m3 0h0m3 0h2m5 0h2m13 0h0m9 0h0m-61 1h2m6 0h0m3 0h0m4 0h0m3 0h5m3 0h2m5 0h2m3 0h0m4 0h0m14 0h0m-53 1h0m5 0h1m5 0h6m5 0h0m4 0h1m5 0h0m3 0h0m4 0h4m3 0h0m12 0h0m-61 1h0m7 0h0m4 0h0m7 0h18m5 0h0m5 0h0m3 0h0m3 0h0m4 0h0m-56 1h7m4 0h1m3 0h6m4 0h0m4 0h0m3 0h3m5 0h0m3 0h1m6 0h0m15 0h0m-65 1h0m19 0h15m4 0h1m3 0h0m8 0h0m8 0h0m4 0h0m-57 1h3m3 0h0m12 0h0m4 0h0m3 0h0m11 0h0m-41 1h0m3 0h0m5 0h7m3 0h7m5 0h4m11 0h0m7 0h2m9 0h0m-63 1h0m6 0h0m5 0h0m3 0h14m3 0h1m5 0h2m4 0h0m5 0h0m3 0h0m14 0h0m-61 1h3m3 0h0m3 0h8m3 0h2m3 0h2m6 0h0m4 0h1m4 0h0m7 0h0m5 0h0m-58 1h0m3 0h0m5 0h0m13 0h0m3 0h0m3 0h3m3 0h0m4 0h10m3 0h0m12 0h0m-59 1h1m4 0h2m6 0h6m3 0h0m3 0h6m3 0h0m4 0h2m4 0h0m4 0h0m-51 1h0m3 0h10m3 0h0m4 0h4m3 0h2m4 0h3m3 0h0m-39 1h2m5 0h0m5 0h8m3 0h6m9 0h0m15 0h0m-53 1h0m3 0h2m12 0h2m4 0h3m3 0h2m9 0h0m3 0h0m4 0h2m7 0h0m-50 1h1m4 0h2m6 0h13m8 0h0m4 0h2m3 0h0m-49 1h0m3 0h2m3 0h5m3 0h8m12 0h2m14 0h1m-53 1h0m7 0h0m6 0h0m4 0h0m6 0h5m6 0h2m3 0h0m-35 1h0m3 0h2m6 0h8m3 0h2m7 0h5m7 0h0m-47 1h0m4 0h0m3 0h0m4 0h3m3 0h9m8 0h0m3 0h3m10 0h0m-50 1h0m4 0h0m8 0h5m3 0h5m3 0h0m3 0h0m3 0h0m4 0h0m3 0h3m5 0h3m8 0h0m-60 1h0m5 0h3m3 0h5m3 0h5m4 0h2m5 0h1m5 0h5m14 0h0m-57 1h0m3 0h2m4 0h0m4 0h8m8 0h5m3 0h0m3 0h1m6 0h0m-46 1h0m6 0h0m4 0h2m3 0h1m9 0h2m5 0h0m7 0h1m5 0h0m15 0h0m-64 1h0m7 0h3m3 0h4m5 0h0m5 0h6m8 0h0m-35 1h0m4 0h13m3 0h0m4 0h0m3 0h0m7 0h0m-40 1h0m6 0h0m7 0h17m6 0h0m7 0h0m12 0h0m-55 1h2m5 0h4m4 0h8m5 0h2m4 0h0m6 0h0m-37 1h0m4 0h0m3 0h0m3 0h4m8 0h10m5 0h1m7 0h0m-48 1h0m3 0h3m7 0h3m3 0h2m4 0h8m5 0h2m3 0h0m3 0h0m4 0h0m-50 1h0m4 0h1m3 0h5m3 0h2m3 0h0m4 0h0m6 0h2m6 0h2m7 0h0m-48 1h0m8 0h0m3 0h7m3 0h1m3 0h0m5 0h1m7 0h2m3 0h1m6 0h0m-50 1h0m7 0h9m10 0h0m4 0h0m5 0h0m7 0h1m-43 1h0m3 0h2m3 0h0m3 0h5m3 0h0m3 0h0m3 0h0m4 0h3m4 0h0m6 0h0m-42 1h0m3 0h3m5 0h1m5 0h2m5 0h2m5 0h3m4 0h2m8 0h0m4 0h0m-52 1h2m6 0h0m7 0h0m5 0h14m-34 1h0m9 0h0m3 0h1m4 0h1m7 0h0m3 0h0m3 0h3m5 0h0m10 0h0m-42 1h0m4 0h2m3 0h0m4 0h4m10 0h0m4 0h0m13 0h0m7 0h0m-58 1h1m4 0h0m3 0h0m3 0h3m4 0h0m6 0h0m7 0h0m3 0h0m4 0h0m5 0h0m13 0h0m-48 1h6m5 0h4m6 0h0m4 0h0m16 0h1m13 0h0m-63 1h0m6 0h0m4 0h0m8 0h5m3 0h2m3 0h0m10 0h0m-41 1h3m4 0h3m3 0h2m6 0h0m3 0h1m8 0h0m9 0h0m12 0h0m-49 1h5m8 0h1m4 0h0m3 0h0m5 0h0m9 0h0m21 0h0m-60 1h7m6 0h1m5 0h2m5 0h0m4 0h3m7 0h0m10 0h0m-48 1h2m7 0h0m13 0h0m3 0h2m6 0h1m-37 1h4m10 0h4m5 0h0m4 0h0m3 0h0m3 0h0m5 0h0m7 0h0m-40 1h0m8 0h0m3 0h1m6 0h0m6 0h0m5 0h0m-34 1h0m7 0h2m3 0h2m3 0h0m19 0h0m12 0h0m-48 1h0m5 0h5m3 0h0m5 0h1m15 0h0m6 0h0m7 0h0m10 0h0m-57 1h3m9 0h0m6 0h0m4 0h0m23 0h0m-37 1h0m4 0h6m16 0h0m3 0h1m3 0h0m-41 1h0m3 0h7m12 0h1m-18 1h0m21 0h0m-20 1h2m11 0h0m3 0h0m4 0h0m-16 1h2m-12 1h0m5 0h0m6 0h1m18 0h2m4 0h0m-32 1h0m13 0h0m18 0h0m-28 1h0m5 0h1m9 0h0m19 0h1m-37 1h1m10 0h0m-15 1h0m3 0h1m3 0h2m-5 1h2m7 0h0m9 0h0m-23 1h0m3 0h1m25 0h0m-29 2h0m10 0h1m-5 1h2m5 0h0m9 0h0m-19 1h0m3 0h0m11 0h0m-17 1h0m4 0h0m13 0h0m-17 1h0m9 0h0m-9 1h0m6 0h0m7 0h0m-12 1h0m3 0h2m4 0h0m3 0h0m-13 1h0m3 0h2m6 0h2m-8 1h2m-7 1h2m7 0h0m5 0h0m0 1h0m4 0h0m-13 1h1m4 0h2m-12 1h0m4 0h3m5 0h0m-12 1h0m6 0h0m2 2h1m3 0h0m-10 1h2m14 0h0m-3 1h0m-15 1h0m9 0h0m-8 1h0m-1 2h0m8 0h0m-4 1h0m-4 1h0m12 0h2m-1 1h0m-7 2h2m6 0h0"/>
<path d="M727 451h0m0 8h0m0 2h0m0 2h0m6 2h0m-6 1h0m0 2h0m4 0h0m22 1h0m-26 1h0m0 1h0m13 0h0m11 0h0m-24 1h0m0 1h0m20 0h0m8 0h0m-22 1h0m-6 1h0m4 0h0m12 0h0m-16 1h0m4 0h2m5 0h0m3 0h0m9 0h0m9 0h0m-31 1h0m8 0h0m-9 1h0m8 0h0m3 0h0m-11 1h1m17 0h0m5 0h0m-23 1h0m16 0h0m5 0h0m-21 1h0m4 0h0m9 0h0m3 0h2m-18 1h1m10 0h0m13 0h0m4 0h0m-22 1h0m6 0h4m4 0h2m-22 1h0m0 1h1m8 0h0m11 0h0m5 0h0m5 0h0m15 0h0m-45 1h1m4 0h2m6 0h1m5 0h1m6 0h0m-26 1h4m5 0h3m7 0h0m3 0h0m3 0h0m-18 1h2m3 0h0m4 0h0m3 0h2m8 0h0m3 0h0m-32 1h0m4 0h2m3 0h1m4 0h0m5 0h0m7 0h2m3 0h0m-31 1h0m3 0h0m10 0h2m7 0h0m21 0h0m-43 1h1m9 0h0m3 0h0m7 0h0m-20 1h0m10 0h3m7 0h0m9 0h2m3 0h0m-34 1h0m8 0h0m5 0h3m3 0h4m10 0h0m-33 1h0m5 0h0m7 0h0m7 0h2m4 0h4m3 0h0m5 0h0m-37 1h0m6 0h0m4 0h1m7 0h0m3 0h0m3 0h2m6 0h0m-32 1h0m10 0h1m4 0h3m6 0h2m5 0h0m-31 1h0m6 0h0m6 0h0m3 0h1m5 0h4m3 0h0m3 0h2m15 0h0m-48 1h0m14 0h2m3 0h0m4 0h2m3 0h4m-32 1h0m8 0h0m10 0h5m5 0h0m14 0h0m-42 1h0m8 0h0m8 0h0m5 0h1m16 0h0m-38 1h0m11 0h2m6 0h0m4 0h1m12 0h0m5 0h0m-41 1h0m11 0h1m4 0h0m4 0h0m3 0h4m3 0h0m3 0h0m3 0h0m-36 1h0m10 0h0m4 0h0m4 0h0m9 0h0m4 0h0m3 0h2m12 0h0m-41 1h0m5 0h1m3 0h2m5 0h2m3 0h4m-32 1h0m8 0h0m6 0h2m4 0h2m4 0h0m7 0h4m3 0h0m-40 1h0m9 0h2m3 0h0m4 0h0m3 0h1m4 0h3m14 0h0m-43 1h2m12 0h0m3 0h3m6 0h0m3 0h2m4 0h0m6 0h3m-44 1h0m11 0h0m3 0h0m3 0h2m8 0h4m3 0h7m4 0h0m-42 1h0m9 0h0m6 0h0m3 0h1m6 0h0m4 0h0m4 0h0m-36 1h0m16 0h0m6 0h7m5 0h6m42 0h0m-82 1h0m12 0h0m14 0h0m6 0h4m8 0h0m-44 1h0m15 0h0m3 0h5m5 0h0m8 0h0m16 0h0m-52 1h0m6 0h0m4 0h0m23 0h3m-15 1h0m4 0h0m3 0h7m4 0h4m4 0h0m3 0h1m-41 1h0m11 0h0m3 0h2m3 0h0m6 0h1m4 0h0m5 0h0m-26 1h0m3 0h2m7 0h0m3 0h0m6 0h0m4 0h1m29 0h0m-74 1h0m16 0h0m5 0h0m4 0h0m5 0h1m3 0h0m3 0h5m6 0h0m4 0h0m-52 1h0m25 0h0m8 0h7m3 0h2m-38 1h0m4 0h0m3 0h0m7 0h0m9 0h3m5 0h0m4 0h0m6 0h0m4 0h0m-52 1h0m23 0h0m3 0h1m4 0h0m5 0h0m3 0h1m5 0h6m-30 1h0m3 0h14m3 0h2m3 0h0m-29 1h0m8 0h0m3 0h4m3 0h3m3 0h2m3 0h2m14 0h0m-40 1h1m7 0h2m6 0h2m3 0h0m3 0h0m3 0h0m5 0h0m-33 1h0m4 0h0m5 0h7m3 0h2m12 0h1m11 0h0m-37 1h3m3 0h7m6 0h0m4 0h1m4 0h0m-49 1h0m22 0h0m3 0h0m5 0h0m4 0h4m3 0h0m-24 1h0m4 0h2m3 0h1m4 0h1m4 0h1m3 0h3m8 0h0m-29 1h7m3 0h3m3 0h6m-37 1h0m17 0h1m7 0h0m4 0h3m3 0h0m4 0h0m4 0h0m-35 1h0m6 0h0m4 0h3m3 0h0m3 0h0m3 0h4m8 0h0m-32 1h2m6 0h1m17 0h2m3 0h0m-24 1h3m3 0h4m3 0h0m6 0h0m4 0h2m-28 1h2m10 0h4m3 0h8m-28 1h1m3 0h0m4 0h5m3 0h0m3 0h1m6 0h0m-30 1h0m10 0h1m3 0h0m8 0h3m-26 1h0m9 0h0m12 0h3m3 0h4m-26 1h0m8 0h4m6 0h3m-24 1h0m3 0h0m7 0h8m6 0h0m3 0h0m-41 1h0m15 0h0m4 0h1m3 0h16m-32 1h0m14 0h0m4 0h3m3 0h7m13 0h0m-37 1h0m5 0h0m4 0h7m3 0h2m7 0h0m-26 1h2m3 0h11m3 0h1m-30 1h0m11 0h0m4 0h2m4 0h8m-30 1h0m4 0h0m6 0h0m3 0h1m3 0h2m4 0h7m3 0h0m-27 1h0m3 0h0m6 0h16m-33 1h0m4 0h3m3 0h1m6 0h6m3 0h4m3 0h0m-25 1h0m4 0h5m3 0h1m3 0h4m-18 1h3m3 0h11m4 0h0m-31 1h0m9 0h2m3 0h0m3 0h5m3 0h3m-26 1h0m6 0h20m-20 1h0m5 0h13m-18 1h2m3 0h13m-27 1h0m5 0h1m3 0h1m6 0h9m-28 1h0m5 0h2m4 0h5m3 0h6m3 0h0m-29 1h0m4 0h0m7 0h16m-28 1h0m11 0h6m3 0h4m3 0h0m-17 1h0m3 0h12m3 0h1m-29 1h2m7 0h4m3 0h1m3 0h1m4 0h0m-20 1h0m3 0h0m3 0h13m-29 1h0m5 0h1m9 0h6m3 0h6m-20 1h0m5 0h7m4 0h0m-21 1h2m5 0h2m3 0h9m-29 1h0m10 0h0m4 0h16m-18 1h3m3 0h1m3 0h3m-25 1h0m3 0h1m4 0h0m6 0h7m3 0h2m-23 1h0m3 0h20m-17 1h0m4 0h9m3 0h0m3 0h0m-26 1h1m5 0h17m-24 1h0m6 0h14m3 0h0m-20 1h16m-20 1h0m6 0h2m3 0h6m4 0h0m-18 1h14m3 0h1m-19 1h17m-18 1h17m-15 1h2m3 0h8m-10 1h12m-18 1h0m3 0h11m-14 1h14m-14 1h10m3 0h0m-12 1h13m-14 1h11m-11 1h10m-10 1h7m-7 1h7m-7 1h2m3 0h2m-7 1h4m-4 1h3m5 0h0m-8 1h3m-3 1h0m3 0h0m3 0h0m-6 1h1m-1 1h0m0 1h0"/>
<path d="M727 451h0m0 8h0m0 2h0m0 2h0m6 2h0m-6 1h0m0 2h0m4 0h0m22 1h0m-26 1h0m0 1h0m13 0h0m11 0h0m-24 1h0m0 1h0m20 0h0m8 0h0m-22 1h0m-6 1h0m4 0h0m12 0h0m-16 1h0m4 0h2m5 0h0m3 0h0m9 0h0m9 0h0m-31 1h0m8 0h0m-9 1h0m8 0h0m3 0h0m-11 1h1m17 0h0m5 0h0m-23 1h0m16 0h0m5 0h0m-21 1h0m4 0h0m9 0h0m3 0h2m-18 1h1m10 0h0m13 0h0m4 0h0m-22 1h0m6 0h4m4 0h2m-22 1h0m0 1h1m8 0h0m11 0h0m5 0h0m5 0h0m15 0h0m-45 1h1m4 0h2m6 0h1m5 0h1m6 0h0m-26 1h4m5 0h3m7 0h0m3 0h0m3 0h0m-18 1h2m3 0h0m4 0h0m3 0h2m8 0h0m3 0h0m-32 1h0m4 0h2m3 0h1m4 0h0m5 0h0m7 0h2m3 0h0m-31 1h0m3 0h0m10 0h2m7 0h0m21 0h0m-43 1h1m9 0h0m3 0h0m7 0h0m-20 1h0m10 0h3m7 0h0m9 0h2m3 0h0m-34 1h0m8 0h0m5 0h3m3 0h4m10 0h0m-33 1h0m5 0h0m7 0h0m7 0h2m4 0h4m3 0h0m5 0h0m-37 1h0m6 0h0m4 0h1m7 0h0m3 0h0m3 0h2m6 0h0m-32 1h0m10 0h1m4 0h3m6 0h2m5 0h0m-31 1h0m6 0h0m6 0h0m3 0h1m5 0h4m3 0h0m3 0h2m15 0h0m-48 1h0m14 0h2m3 0h0m4 0h2m3 0h4m-32 1h0m8 0h0m10 0h5m5 0h0m14 0h0m-42 1h0m8 0h0m8 0h0m5 0h1m16 0h0m-38 1h0m11 0h2m6 0h0m4 0h1m12 0h0m5 0h0m-41 1h0m11 0h1m4 0h0m4 0h0m3 0h4m3 0h0m3 0h0m3 0h0m-36 1h0m10 0h0m4 0h0m4 0h0m9 0h0m4 0h0m3 0h2m12 0h0m-41 1h0m5 0h1m3 0h2m5 0h2m3 0h4m-32 1h0m8 0h0m6 0h2m4 0h2m4 0h0m7 0h4m3 0h0m-40 1h0m9 0h2m3 0h0m4 0h0m3 0h1m4 0h3m14 0h0m-43 1h2m12 0h0m3 0h3m6 0h0m3 0h2m4 0h0m6 0h3m-44 1h0m11 0h0m3 0h0m3 0h2m8 0h4m3 0h7m4 0h0m-42 1h0m9 0h0m6 0h0m3 0h1m6 0h0m4 0h0m4 0h0m-36 1h0m16 0h0m6 0h7m5 0h6m42 0h0m-82 1h0m12 0h0m14 0h0m6 0h4m8 0h0m-44 1h0m15 0h0m3 0h5m5 0h0m8 0h0m16 0h0m-52 1h0m6 0h0m4 0h0m23 0h3m-15 1h0m4 0h0m3 0h7m4 0h4m4 0h0m3 0h1m-41 1h0m11 0h0m3 0h2m3 0h0m6 0h1m4 0h0m5 0h0m-26 1h0m3 0h2m7 0h0m3 0h0m6 0h0m4 0h1m29 0h0m-74 1h0m16 0h0m5 0h0m4 0h0m5 0h1m3 0h0m3 0h5m6 0h0m4 0h0m-52 1h0m25 0h0m8 0h7m3 0h2m-38 1h0m4 0h0m3 0h0m7 0h0m9 0h3m5 0h0m4 0h0m6 0h0m4 0h0m-52 1h0m23 0h0m3 0h1m4 0h0m5 0h0m3 0h1m5 0h6m-30 1h0m3 0h14m3 0h2m3 0h0m-29 1h0m8 0h0m3 0h4m3 0h3m3 0h2m3 0h2m14 0h0m-40 1h1m7 0h2m6 0h2m3 0h0m3 0h0m3 0h0m5 0h0m-33 1h0m4 0h0m5 0h7m3 0h2m12 0h1m11 0h0m-37 1h3m3 0h7m6 0h0m4 0h1m4 0h0m-49 1h0m22 0h0m3 0h0m5 0h0m4 0h4m3 0h0m-24 1h0m4 0h2m3 0h1m4 0h1m4 0h1m3 0h3m8 0h0m-29 1h7m3 0h3m3 0h6m-37 1h0m17 0h1m7 0h0m4 0h3m3 0h0m4 0h0m4 0h0m-35 1h0m6 0h0m4 0h3m3 0h0m3 0h0m3 0h4m8 0h0m-32 1h2m6 0h1m17 0h2m3 0h0m-24 1h3m3 0h4m3 0h0m6 0h0m4 0h2m-28 1h2m10 0h4m3 0h8m-28 1h1m3 0h0m4 0h5m3 0h0m3 0h1m6 0h0m-30 1h0m10 0h1m3 0h0m8 0h3m-26 1h0m9 0h0m12 0h3m3 0h4m-26 1h0m8 0h4m6 0h3m-24 1h0m3 0h0m7 0h8m6 0h0m3 0h0m-41 1h0m15 0h0m4 0h1m3 0h16m-32 1h0m14 0h0m4 0h3m3 0h7m13 0h0m-37 1h0m5 0h0m4 0h7m3 0h2m7 0h0m-26 1h2m3 0h11m3 0h1m-30 1h0m11 0h0m4 0h2m4 0h8m-30 1h0m4 0h0m6 0h0m3 0h1m3 0h2m4 0h7m3 0h0m-27 1h0m3 0h0m6 0h16m-33 1h0m4 0h3m3 0h1m6 0h6m3 0h4m3 0h0m-25 1h0m4 0h5m3 0h1m3 0h4m-18 1h3m3 0h11m4 0h0m-31 1h0m9 0h2m3 0h0m3 0h5m3 0h3m-26 1h0m6 0h20m-20 1h0m5 0h13m-18 1h2m3 0h13m-27 1h0m5 0h1m3 0h1m6 0h9m-28 1h0m5 0h2m4 0h5m3 0h6m3 0h0m-29 1h0m4 0h0m7 0h16m-28 1h0m11 0h6m3 0h4m3 0h0m-17 1h0m3 0h12m3 0h1m-29 1h2m7 0h4m3 0h1m3 0h1m4 0h0m-20 1h0m3 0h0m3 0h13m-29 1h0m5 0h1m9 0h6m3 0h6m-20 1h0m5 0h7m4 0h0m-21 1h2m5 0h2m3 0h9m-29 1h0m10 0h0m4 0h16m-18 1h3m3 0h1m3 0h3m-25 1h0m3 0h1m4 0h0m6 0h7m3 0h2m-23 1h0m3 0h20m-17 1h0m4 0h9m3 0h0m3 0h0m-26 1h1m5 0h17m-24 1h0m6 0h14m3 0h0m-20 1h16m-20 1h0m6 0h2m3 0h6m4 0h0m-18 1h14m3 0h1m-19 1h17m-18 1h17m-15 1h2m3 0h8m-10 1h12m-18 1h0m3 0h11m-14 1h14m-14 1h10m3 0h0m-12 1h13m-14 1h11m-11 1h10m-10 1h7m-7 1h7m-7 1h2m3 0h2m-7 1h4m-4 1h3m5 0h0m-8 1h3m-3 1h0m3 0h0m3 0h0m-6 1h1m-1 1h0m0 1h0"/>
<path d="M169 639h0m13 0h0m20 0h0m5 0h0m-57 1h0m52 1h0m13 1h0m-68 1h0m9 0h0m85 0h0m-24 1h0m-82 1h0m12 0h0m59 0h0m-54 1h0m35 0h0m-57 1h0m9 0h0m22 0h0m-25 1h0m14 0h0m5 0h0m25 1h0m6 0h0m-42 1h0m10 0h0m22 0h0m3 0h0m18 0h0m-41 1h1m7 0h0m5 0h0m8 0h0m-34 1h0m24 0h0m-7 2h1m13 0h0m24 0h0m4 0h0m-69 1h0m15 0h0m14 0h0m9 0h0m5 0h0m59 0h0m-90 1h0m25 0h0m45 0h0m-52 1h0m9 0h0m22 0h0m47 0h0m-115 1h0m19 0h0m18 0h0m18 0h0m5 0h0m24 0h0m6 0h0m4 0h0m7 0h0m6 0h0m13 0h0m-122 1h0m11 0h0m49 0h0m25 0h0m16 0h0m8 0h0m-109 1h0m18 0h0m17 0h0m3 0h0m30 0h0m5 0h0m13 0h0m-60 1h0m10 0h0m7 0h0m13 0h0m6 0h0m26 0h0m20 0h0m-76 1h0m-12 1h0m3 0h0m5 0h0m10 0h0m6 0h0m42 0h0m43 0h0m-120 1h1m8 0h0m7 0h2m9 0h0m4 0h0m19 0h0m19 0h0m22 0h0m22 0h0m-122 1h0m18 0h0m10 0h1m6 0h0m30 0h0m6 0h0m39 0h0m-88 1h0m4 0h6m11 0h4m6 0h0m49 0h1m26 0h0m-93 1h0m6 0h0m6 0h0m4 0h0m11 0h0m9 0h0m9 0h0m4 0h0m6 0h0m5 0h3m-91 1h0m5 0h2m15 0h0m3 0h0m3 0h0m3 0h0m3 0h0m17 0h1m18 0h0m9 0h2m9 0h0m-95 1h0m13 0h0m32 0h0m23 0h0m17 0h0m5 0h0m-93 1h0m4 0h0m9 0h0m19 0h0m5 0h1m3 0h0m3 0h0m6 0h0m42 0h2m3 0h0m-96 1h0m20 0h0m4 0h0m8 0h0m8 0h2m10 0h0m17 0h0m15 0h0m22 0h0m-93 1h0m16 0h0m6 0h0m22 0h2m11 0h2m29 0h0m3 0h0m-74 1h2m14 0h0m4 0h0m5 0h0m5 0h0m16 0h1m6 0h0m24 0h0m13 0h0m3 0h0m-112 1h0m3 0h0m8 0h0m8 0h1m4 0h1m10 0h0m9 0h0m13 0h2m10 0h0m18 0h0m5 0h0m15 0h0m8 0h0m-123 1h0m4 0h0m5 0h2m4 0h2m12 0h0m4 0h0m28 0h0m10 0h0m7 0h0m18 0h1m7 0h2m-79 1h3m4 0h0m14 0h0m12 0h0m11 0h1m13 0h0m20 0h0m14 0h0m-115 1h0m10 0h3m9 0h0m6 0h0m3 0h0m5 0h2m4 0h0m12 0h0m10 0h0m4 0h0m9 0h0m3 0h2m30 0h0m-120 1h2m15 0h0m9 0h2m3 0h1m10 0h0m8 0h0m15 0h2m6 0h0m9 0h0m-61 1h0m5 0h1m5 0h0m3 0h0m5 0h0m35 0h0m4 0h0m22 0h0m4 0h0m3 0h2m27 0h0m-137 1h0m5 0h0m7 0h0m5 0h0m6 0h2m14 0h2m13 0h1m20 0h0m9 0h0m5 0h0m22 0h2m-95 1h0m4 0h3m4 0h0m3 0h0m4 0h0m6 0h0m12 0h2m11 0h0m29 0h0m3 0h0m16 0h0m-115 1h0m13 0h1m3 0h0m9 0h0m5 0h0m3 0h2m5 0h0m6 0h0m6 0h0m35 0h1m4 0h0m9 0h0m-96 1h0m17 0h0m4 0h3m3 0h1m12 0h2m3 0h0m18 0h0m15 0h0m6 0h0m11 0h0m4 0h0m13 0h0m15 0h0m-102 1h0m5 0h0m3 0h1m4 0h1m17 0h0m3 0h0m3 0h1m5 0h0m5 0h0m4 0h2m6 0h0m4 0h0m-73 1h0m3 0h2m9 0h0m8 0h1m17 0h0m4 0h0m8 0h0m25 0h2m5 0h0m15 0h2m3 0h0m-110 1h1m5 0h3m3 0h0m6 0h0m4 0h0m5 0h0m4 0h0m3 0h2m9 0h0m8 0h0m4 0h0m21 0h2m3 0h0m22 0h0m-107 1h1m9 0h0m7 0h0m3 0h1m8 0h0m5 0h0m7 0h0m4 0h0m6 0h0m13 0h0m12 0h0m9 0h0m3 0h0m3 0h0m10 0h0m-99 1h0m10 0h2m5 0h1m5 0h5m25 0h0m5 0h2m11 0h0m10 0h2m-86 1h0m5 0h0m9 0h0m5 0h0m5 0h0m5 0h0m10 0h0m4 0h0m8 0h0m10 0h0m15 0h2m11 0h0m3 0h0m-102 1h0m9 0h0m6 0h0m8 0h0m3 0h1m4 0h3m5 0h0m4 0h0m10 0h1m7 0h0m6 0h0m3 0h0m11 0h0m8 0h0m6 0h0m-94 1h0m3 0h0m5 0h2m16 0h0m3 0h0m7 0h6m4 0h0m11 0h1m3 0h0m4 0h0m15 0h4m9 0h0m7 0h0m4 0h0m-100 1h0m5 0h0m13 0h0m6 0h2m3 0h0m3 0h3m9 0h0m9 0h0m17 0h0m11 0h0m9 0h2m20 0h0m-117 1h0m12 0h4m6 0h3m3 0h0m6 0h0m6 0h0m3 0h0m24 0h4m6 0h2m6 0h0m6 0h0m4 0h0m6 0h0m19 0h0m-104 1h8m3 0h3m12 0h0m6 0h0m5 0h1m18 0h4m8 0h0m8 0h0m-83 1h0m10 0h0m4 0h0m3 0h3m3 0h0m7 0h0m21 0h0m4 0h0m21 0h2m4 0h0m23 0h0m-117 1h0m9 0h0m5 0h6m3 0h7m3 0h1m16 0h0m3 0h0m16 0h0m15 0h0m12 0h0m11 0h0m-91 1h2m6 0h9m5 0h2m3 0h0m6 0h0m3 0h0m10 0h2m52 0h0m-114 1h0m24 0h0m9 0h0m8 0h0m9 0h0m11 0h0m8 0h0m13 0h0m12 0h0m16 0h0m13 0h0m-125 1h0m15 0h2m4 0h0m14 0h0m12 0h0m3 0h0m6 0h2m13 0h0m7 0h0m14 0h2m9 0h0m6 0h0m-105 1h0m13 0h0m3 0h0m7 0h2m5 0h0m4 0h0m4 0h1m7 0h0m22 0h0m4 0h0m20 0h0m13 0h0m4 0h0m-108 1h2m6 0h0m4 0h0m6 0h0m3 0h0m3 0h0m3 0h0m5 0h0m7 0h0m13 0h0m7 0h1m5 0h0m8 0h1m21 0h0m5 0h0m-98 1h0m7 0h0m9 0h0m7 0h1m3 0h0m9 0h0m14 0h0m27 0h0m5 0h0m-77 1h0m15 0h1m7 0h0m21 0h0m7 0h0m3 0h0m6 0h0m5 0h0m21 0h0m7 0h0m3 0h0m3 0h0m-108 1h0m22 0h0m3 0h0m7 0h0m3 0h1m14 0h0m19 0h1m33 0h1m5 0h0m22 0h0m-128 1h0m6 0h0m7 0h1m8 0h2m5 0h1m10 0h0m11 0h0m13 0h0m6 0h1m4 0h0m3 0h1m5 0h0m-85 1h0m25 0h1m5 0h4m8 0h0m14 0h1m6 0h2m3 0h0m18 0h2m3 0h2m20 0h0m-114 1h0m5 0h0m3 0h2m7 0h0m9 0h6m46 0h0m8 0h1m10 0h0m13 0h0m-115 1h0m6 0h0m12 0h0m4 0h0m3 0h0m7 0h0m6 0h0m3 0h0m8 0h1m29 0h0m5 0h0m3 0h0m8 0h0m5 0h0m26 0h0m-109 1h0m7 0h3m31 0h0m19 0h0m5 0h0m14 0h0m35 0h0m-131 1h0m14 0h0m22 0h0m9 0h2m29 0h0m27 0h0m8 0h0m-88 1h1m5 0h1m4 0h0m3 0h0m5 0h0m36 0h0m4 0h0m7 0h0m5 0h0m17 0h2m-101 1h2m12 0h0m5 0h1m5 0h1m4 0h1m14 0h2m10 0h0m9 0h0m16 0h0m3 0h0m11 0h0m10 0h0m-112 1h0m11 0h0m15 0h0m3 0h1m12 0h0m6 0h0m26 0h0m17 0h0m18 0h0m-115 1h0m23 0h0m16 0h0m5 0h0m3 0h0m14 0h0m7 0h0m9 0h0m12 0h0m12 0h0m-93 1h0m7 0h0m9 0h0m16 0h0m6 0h0m9 0h0m24 0h0m13 0h1m15 0h2m-80 1h0m4 0h0m5 0h0m4 0h0m-32 1h0m11 0h0m14 0h2m11 0h0m4 0h0m10 0h0m9 0h0m6 0h1m8 0h0m6 0h0m-93 1h0m26 0h0m3 0h0m8 0h0m6 0h2m40 0h0m26 0h0m-81 1h0m6 0h0m10 0h0m18 0h0m8 0h0m38 0h0m-91 1h1m23 0h2m6 0h0m20 0h0m7 0h2m7 0h0m10 0h0m8 0h0m4 0h0m-82 1h0m8 0h0m4 0h0m7 0h0m7 0h0m3 0h0m9 0h0m25 0h0m-78 1h0m6 0h0m5 0h0m6 0h0m3 0h0m28 0h0m4 0h0m7 0h0m3 0h0m-49 1h0m10 0h1m8 0h0m23 0h1m12 0h0m3 0h0m13 0h0m8 0h0m-93 1h0m4 0h0m17 0h1m5 0h0m3 0h2m22 0h1m3 0h2m17 0h0m9 0h0m27 0h0m-109 1h0m12 0h0m13 0h0m55 0h2m4 0h1m-78 1h0m4 0h0m3 0h0m3 0h5m3 0h0m29 0h0m24 0h0m4 0h0m-90 1h2m38 0h0m6 0h0m4 0h1m7 0h1m17 0h0m8 0h0m9 0h3m6 0h0m-96 1h0m17 0h0m3 0h0m17 0h2m23 0h0m3 0h1m11 0h0m17 0h0m6 0h0m-107 1h0m3 0h0m11 0h0m21 0h0m7 0h0m45 0h0m-77 1h0m10 0h3m3 0h0m5 0h0m7 0h5m8 0h0m19 0h2m7 0h0m-56 1h0m5 0h0m3 0h0m14 0h0m12 0h0m6 0h0m25 0h0m-80 1h0m10 0h0m4 0h0m7 0h0m6 0h0m5 0h0m10 0h0m9 0h0m7 0h0m19 0h3m-66 1h5m4 0h3m7 0h0m4 0h5m3 0h2m12 0h0m4 0h0m6 0h0m4 0h0m17 0h0m24 0h0m-113 1h0m15 0h1m5 0h8m4 0h0m10 0h0m8 0h0m4 0h0m7 0h0m3 0h0m11 0h1m3 0h0m26 0h2m-121 1h2m11 0h2m10 0h0m5 0h1m7 0h3m3 0h2m5 0h1m11 0h0m4 0h0m11 0h0m6 0h0m22 0h0m7 0h0m-96 1h0m3 0h0m7 0h0m4 0h0m6 0h0m6 0h2m9 0h0m6 0h1m6 0h0m13 0h2m3 0h0m25 0h0m-109 1h0m10 0h0m6 0h0m11 0h0m3 0h0m4 0h0m4 0h2m7 0h0m15 0h1m13 0h3m21 0h0m-89 1h0m7 0h0m8 0h0m11 0h0m7 0h2m3 0h0m5 0h0m15 0h0m5 0h1m4 0h1m18 0h0m7 0h0m-92 1h0m11 0h3m5 0h0m3 0h0m4 0h0m3 0h1m3 0h2m3 0h2m3 0h0m15 0h0m12 0h4m8 0h0m8 0h0m-90 1h1m3 0h4m3 0h1m7 0h0m3 0h0m4 0h0m3 0h2m3 0h1m13 0h0m7 0h0m18 0h0m13 0h0m7 0h2m-92 1h5m6 0h0m4 0h2m4 0h6m3 0h0m10 0h1m4 0h3m7 0h0m9 0h0m-69 1h0m5 0h0m3 0h3m5 0h1m3 0h2m4 0h0m4 0h0m10 0h0m3 0h0m4 0h0m18 0h0m4 0h0m36 0h0m-112 1h1m7 0h0m6 0h0m7 0h4m3 0h3m10 0h0m6 0h0m9 0h0m28 0h2m-80 1h4m4 0h0m5 0h0m4 0h1m3 0h2m3 0h2m7 0h2m14 0h0m13 0h0m10 0h0m39 0h0m-117 1h0m16 0h0m7 0h3m4 0h2m3 0h0m4 0h0m6 0h0m12 0h0m16 0h0m24 0h0m12 0h0m-115 1h0m13 0h0m3 0h7m6 0h0m6 0h0m4 0h1m3 0h0m6 0h0m8 0h1m3 0h0m11 0h0m10 0h2m13 0h0m-97 1h0m5 0h0m16 0h0m3 0h0m3 0h2m7 0h3m11 0h0m4 0h0m3 0h0m3 0h0m7 0h0m21 0h0m-82 1h0m3 0h0m5 0h4m9 0h0m14 0h0m3 0h0m10 0h0m5 0h0m7 0h0m7 0h0m9 0h2m5 0h0m11 0h0m-97 1h11m4 0h0m4 0h0m10 0h8m5 0h4m5 0h0m24 0h2m5 0h2m35 0h0m-109 1h4m3 0h0m3 0h0m4 0h0m5 0h2m3 0h7m3 0h0m3 0h0m3 0h2m4 0h0m13 0h0m18 0h1m12 0h0m-95 1h0m5 0h1m4 0h4m3 0h11m5 0h0m5 0h3m3 0h2m18 0h0m12 0h0m6 0h2m-94 1h0m13 0h0m7 0h3m5 0h0m8 0h8m7 0h0m36 0h0m-90 1h0m14 0h1m9 0h0m3 0h0m7 0h0m4 0h3m3 0h4m9 0h1m7 0h0m7 0h0m8 0h1m14 0h0m9 0h1m-86 1h4m5 0h1m7 0h3m4 0h1m5 0h0m8 0h0m25 0h0m17 0h0m-93 1h0m14 0h0m11 0h6m7 0h2m4 0h1m3 0h3m10 0h0m4 0h2m5 0h0m9 0h0m-75 1h0m7 0h0m7 0h0m3 0h3m5 0h0m6 0h0m3 0h2m6 0h0m3 0h0m14 0h0m13 0h2m28 0h0m-110 1h0m7 0h2m13 0h3m3 0h0m14 0h0m8 0h1m4 0h1m16 0h0m12 0h0m-81 1h0m3 0h1m4 0h0m4 0h2m6 0h0m7 0h0m4 0h1m5 0h2m15 0h0m3 0h0m4 0h0m20 0h0m5 0h0m13 0h0m-86 1h5m8 0h3m3 0h2m4 0h0m3 0h7m3 0h0m10 0h0m13 0h0m11 0h0m4 0h0m33 0h0m-119 1h2m8 0h3m4 0h0m11 0h4m5 0h0m7 0h0m40 0h1m32 0h0m-127 1h0m11 0h0m6 0h1m6 0h7m3 0h2m4 0h0m4 0h1m3 0h0m6 0h0m3 0h0m10 0h0m39 0h0m-96 1h0m17 0h3m7 0h2m9 0h3m10 0h0m37 0h0m6 0h0m7 0h0m-110 1h0m10 0h0m5 0h1m5 0h0m13 0h0m3 0h3m20 0h1m18 0h0m3 0h0m3 0h0m36 0h0m-108 1h0m4 0h0m5 0h2m6 0h0m3 0h1m5 0h0m6 0h0m6 0h0m35 0h0m11 0h0m22 0h0m-108 1h0m6 0h1m3 0h0m5 0h0m4 0h2m3 0h0m7 0h0m34 0h0m-63 1h2m22 0h6m3 0h0m30 0h0m-73 1h0m5 0h0m3 0h2m5 0h0m12 0h1m4 0h1m4 0h0m3 0h0m13 0h1m15 0h0m8 0h0m37 0h0m-109 1h0m8 0h2m3 0h4m3 0h0m5 0h0m5 0h0m26 0h0m32 0h0m-85 1h0m4 0h3m11 0h1m5 0h3m4 0h0m-34 1h0m5 0h3m12 0h0m8 0h0m4 0h2m13 0h0m9 0h0m-56 1h0m5 0h0m7 0h0m3 0h1m9 0h0m6 0h0m4 0h0m9 0h2m20 0h0m-73 1h0m9 0h2m11 0h1m5 0h1m3 0h0m5 0h2m4 0h0m53 0h0m-93 1h0m5 0h0m4 0h0m7 0h1m3 0h1m6 0h0m3 0h2m5 0h0m46 0h0m-88 1h0m3 0h2m4 0h4m10 0h0m3 0h2m11 0h0m3 0h0m54 0h0m14 0h0m-107 1h0m3 0h0m5 0h0m16 0h1m13 0h0m-37 1h3m3 0h0m4 0h0m6 0h0m7 0h0m7 0h0m33 0h0m-65 1h0m8 0h0m4 0h2m7 0h0m14 0h0m12 0h0m85 0h0m-134 1h0m7 0h0m13 0h0m10 0h3m49 0h0m-81 1h0m3 0h2m12 0h0m6 0h0m3 0h2m3 0h0m6 0h0m5 0h0m31 0h0m13 0h0m9 0h0m-90 1h0m3 0h2m3 0h0m8 0h0m6 0h1m58 0h0m-86 1h1m10 0h0m-12 1h4m7 0h0m102 0h0m-106 1h0m4 0h0m6 0h0m17 0h0m3 0h0m-35 1h1m5 0h0m11 0h0m3 0h0m10 0h0m48 0h0m-7 1h0m28 0h0m-99 1h0m10 0h0m29 0h0m-41 1h0m40 1h0m-27 1h0m43 0h0m-56 1h0m6 2h0m16 0h0m9 1h0m-27 2h0m-4 2h1"/>
<path d="M169 639h0m13 0h0m20 0h0m5 0h0m-57 1h0m52 1h0m13 1h0m-68 1h0m9 0h0m85 0h0m-24 1h0m-82 1h0m12 0h0m59 0h0m-54 1h0m35 0h0m-57 1h0m9 0h0m22 0h0m-25 1h0m14 0h0m5 0h0m25 1h0m6 0h0m-42 1h0m10 0h0m22 0h0m3 0h0m18 0h0m-41 1h1m7 0h0m5 0h0m8 0h0m-34 1h0m24 0h0m-7 2h1m13 0h0m24 0h0m4 0h0m-69 1h0m15 0h0m14 0h0m9 0h0m5 0h0m59 0h0m-90 1h0m25 0h0m45 0h0m-52 1h0m9 0h0m22 0h0m47 0h0m-115 1h0m19 0h0m18 0h0m18 0h0m5 0h0m24 0h0m6 0h0m4 0h0m7 0h0m6 0h0m13 0h0m-122 1h0m11 0h0m49 0h0m25 0h0m16 0h0m8 0h0m-109 1h0m18 0h0m17 0h0m3 0h0m30 0h0m5 0h0m13 0h0m-60 1h0m10 0h0m7 0h0m13 0h0m6 0h0m26 0h0m20 0h0m-76 1h0m-12 1h0m3 0h0m5 0h0m10 0h0m6 0h0m42 0h0m43 0h0m-120 1h1m8 0h0m7 0h2m9 0h0m4 0h0m19 0h0m19 0h0m22 0h0m22 0h0m-122 1h0m18 0h0m10 0h1m6 0h0m30 0h0m6 0h0m39 0h0m-88 1h0m4 0h6m11 0h4m6 0h0m49 0h1m26 0h0m-93 1h0m6 0h0m6 0h0m4 0h0m11 0h0m9 0h0m9 0h0m4 0h0m6 0h0m5 0h3m-91 1h0m5 0h2m15 0h0m3 0h0m3 0h0m3 0h0m3 0h0m17 0h1m18 0h0m9 0h2m9 0h0m-95 1h0m13 0h0m32 0h0m23 0h0m17 0h0m5 0h0m-93 1h0m4 0h0m9 0h0m19 0h0m5 0h1m3 0h0m3 0h0m6 0h0m42 0h2m3 0h0m-96 1h0m20 0h0m4 0h0m8 0h0m8 0h2m10 0h0m17 0h0m15 0h0m22 0h0m-93 1h0m16 0h0m6 0h0m22 0h2m11 0h2m29 0h0m3 0h0m-74 1h2m14 0h0m4 0h0m5 0h0m5 0h0m16 0h1m6 0h0m24 0h0m13 0h0m3 0h0m-112 1h0m3 0h0m8 0h0m8 0h1m4 0h1m10 0h0m9 0h0m13 0h2m10 0h0m18 0h0m5 0h0m15 0h0m8 0h0m-123 1h0m4 0h0m5 0h2m4 0h2m12 0h0m4 0h0m28 0h0m10 0h0m7 0h0m18 0h1m7 0h2m-79 1h3m4 0h0m14 0h0m12 0h0m11 0h1m13 0h0m20 0h0m14 0h0m-115 1h0m10 0h3m9 0h0m6 0h0m3 0h0m5 0h2m4 0h0m12 0h0m10 0h0m4 0h0m9 0h0m3 0h2m30 0h0m-120 1h2m15 0h0m9 0h2m3 0h1m10 0h0m8 0h0m15 0h2m6 0h0m9 0h0m-61 1h0m5 0h1m5 0h0m3 0h0m5 0h0m35 0h0m4 0h0m22 0h0m4 0h0m3 0h2m27 0h0m-137 1h0m5 0h0m7 0h0m5 0h0m6 0h2m14 0h2m13 0h1m20 0h0m9 0h0m5 0h0m22 0h2m-95 1h0m4 0h3m4 0h0m3 0h0m4 0h0m6 0h0m12 0h2m11 0h0m29 0h0m3 0h0m16 0h0m-115 1h0m13 0h1m3 0h0m9 0h0m5 0h0m3 0h2m5 0h0m6 0h0m6 0h0m35 0h1m4 0h0m9 0h0m-96 1h0m17 0h0m4 0h3m3 0h1m12 0h2m3 0h0m18 0h0m15 0h0m6 0h0m11 0h0m4 0h0m13 0h0m15 0h0m-102 1h0m5 0h0m3 0h1m4 0h1m17 0h0m3 0h0m3 0h1m5 0h0m5 0h0m4 0h2m6 0h0m4 0h0m-73 1h0m3 0h2m9 0h0m8 0h1m17 0h0m4 0h0m8 0h0m25 0h2m5 0h0m15 0h2m3 0h0m-110 1h1m5 0h3m3 0h0m6 0h0m4 0h0m5 0h0m4 0h0m3 0h2m9 0h0m8 0h0m4 0h0m21 0h2m3 0h0m22 0h0m-107 1h1m9 0h0m7 0h0m3 0h1m8 0h0m5 0h0m7 0h0m4 0h0m6 0h0m13 0h0m12 0h0m9 0h0m3 0h0m3 0h0m10 0h0m-99 1h0m10 0h2m5 0h1m5 0h5m25 0h0m5 0h2m11 0h0m10 0h2m-86 1h0m5 0h0m9 0h0m5 0h0m5 0h0m5 0h0m10 0h0m4 0h0m8 0h0m10 0h0m15 0h2m11 0h0m3 0h0m-102 1h0m9 0h0m6 0h0m8 0h0m3 0h1m4 0h3m5 0h0m4 0h0m10 0h1m7 0h0m6 0h0m3 0h0m11 0h0m8 0h0m6 0h0m-94 1h0m3 0h0m5 0h2m16 0h0m3 0h0m7 0h6m4 0h0m11 0h1m3 0h0m4 0h0m15 0h4m9 0h0m7 0h0m4 0h0m-100 1h0m5 0h0m13 0h0m6 0h2m3 0h0m3 0h3m9 0h0m9 0h0m17 0h0m11 0h0m9 0h2m20 0h0m-117 1h0m12 0h4m6 0h3m3 0h0m6 0h0m6 0h0m3 0h0m24 0h4m6 0h2m6 0h0m6 0h0m4 0h0m6 0h0m19 0h0m-104 1h8m3 0h3m12 0h0m6 0h0m5 0h1m18 0h4m8 0h0m8 0h0m-83 1h0m10 0h0m4 0h0m3 0h3m3 0h0m7 0h0m21 0h0m4 0h0m21 0h2m4 0h0m23 0h0m-117 1h0m9 0h0m5 0h6m3 0h7m3 0h1m16 0h0m3 0h0m16 0h0m15 0h0m12 0h0m11 0h0m-91 1h2m6 0h9m5 0h2m3 0h0m6 0h0m3 0h0m10 0h2m52 0h0m-114 1h0m24 0h0m9 0h0m8 0h0m9 0h0m11 0h0m8 0h0m13 0h0m12 0h0m16 0h0m13 0h0m-125 1h0m15 0h2m4 0h0m14 0h0m12 0h0m3 0h0m6 0h2m13 0h0m7 0h0m14 0h2m9 0h0m6 0h0m-105 1h0m13 0h0m3 0h0m7 0h2m5 0h0m4 0h0m4 0h1m7 0h0m22 0h0m4 0h0m20 0h0m13 0h0m4 0h0m-108 1h2m6 0h0m4 0h0m6 0h0m3 0h0m3 0h0m3 0h0m5 0h0m7 0h0m13 0h0m7 0h1m5 0h0m8 0h1m21 0h0m5 0h0m-98 1h0m7 0h0m9 0h0m7 0h1m3 0h0m9 0h0m14 0h0m27 0h0m5 0h0m-77 1h0m15 0h1m7 0h0m21 0h0m7 0h0m3 0h0m6 0h0m5 0h0m21 0h0m7 0h0m3 0h0m3 0h0m-108 1h0m22 0h0m3 0h0m7 0h0m3 0h1m14 0h0m19 0h1m33 0h1m5 0h0m22 0h0m-128 1h0m6 0h0m7 0h1m8 0h2m5 0h1m10 0h0m11 0h0m13 0h0m6 0h1m4 0h0m3 0h1m5 0h0m-85 1h0m25 0h1m5 0h4m8 0h0m14 0h1m6 0h2m3 0h0m18 0h2m3 0h2m20 0h0m-114 1h0m5 0h0m3 0h2m7 0h0m9 0h6m46 0h0m8 0h1m10 0h0m13 0h0m-115 1h0m6 0h0m12 0h0m4 0h0m3 0h0m7 0h0m6 0h0m3 0h0m8 0h1m29 0h0m5 0h0m3 0h0m8 0h0m5 0h0m26 0h0m-109 1h0m7 0h3m31 0h0m19 0h0m5 0h0m14 0h0m35 0h0m-131 1h0m14 0h0m22 0h0m9 0h2m29 0h0m27 0h0m8 0h0m-88 1h1m5 0h1m4 0h0m3 0h0m5 0h0m36 0h0m4 0h0m7 0h0m5 0h0m17 0h2m-101 1h2m12 0h0m5 0h1m5 0h1m4 0h1m14 0h2m10 0h0m9 0h0m16 0h0m3 0h0m11 0h0m10 0h0m-112 1h0m11 0h0m15 0h0m3 0h1m12 0h0m6 0h0m26 0h0m17 0h0m18 0h0m-115 1h0m23 0h0m16 0h0m5 0h0m3 0h0m14 0h0m7 0h0m9 0h0m12 0h0m12 0h0m-93 1h0m7 0h0m9 0h0m16 0h0m6 0h0m9 0h0m24 0h0m13 0h1m15 0h2m-80 1h0m4 0h0m5 0h0m4 0h0m-32 1h0m11 0h0m14 0h2m11 0h0m4 0h0m10 0h0m9 0h0m6 0h1m8 0h0m6 0h0m-93 1h0m26 0h0m3 0h0m8 0h0m6 0h2m40 0h0m26 0h0m-81 1h0m6 0h0m10 0h0m18 0h0m8 0h0m38 0h0m-91 1h1m23 0h2m6 0h0m20 0h0m7 0h2m7 0h0m10 0h0m8 0h0m4 0h0m-82 1h0m8 0h0m4 0h0m7 0h0m7 0h0m3 0h0m9 0h0m25 0h0m-78 1h0m6 0h0m5 0h0m6 0h0m3 0h0m28 0h0m4 0h0m7 0h0m3 0h0m-49 1h0m10 0h1m8 0h0m23 0h1m12 0h0m3 0h0m13 0h0m8 0h0m-93 1h0m4 0h0m17 0h1m5 0h0m3 0h2m22 0h1m3 0h2m17 0h0m9 0h0m27 0h0m-109 1h0m12 0h0m13 0h0m55 0h2m4 0h1m-78 1h0m4 0h0m3 0h0m3 0h5m3 0h0m29 0h0m24 0h0m4 0h0m-90 1h2m38 0h0m6 0h0m4 0h1m7 0h1m17 0h0m8 0h0m9 0h3m6 0h0m-96 1h0m17 0h0m3 0h0m17 0h2m23 0h0m3 0h1m11 0h0m17 0h0m6 0h0m-107 1h0m3 0h0m11 0h0m21 0h0m7 0h0m45 0h0m-77 1h0m10 0h3m3 0h0m5 0h0m7 0h5m8 0h0m19 0h2m7 0h0m-56 1h0m5 0h0m3 0h0m14 0h0m12 0h0m6 0h0m25 0h0m-80 1h0m10 0h0m4 0h0m7 0h0m6 0h0m5 0h0m10 0h0m9 0h0m7 0h0m19 0h3m-66 1h5m4 0h3m7 0h0m4 0h5m3 0h2m12 0h0m4 0h0m6 0h0m4 0h0m17 0h0m24 0h0m-113 1h0m15 0h1m5 0h8m4 0h0m10 0h0m8 0h0m4 0h0m7 0h0m3 0h0m11 0h1m3 0h0m26 0h2m-121 1h2m11 0h2m10 0h0m5 0h1m7 0h3m3 0h2m5 0h1m11 0h0m4 0h0m11 0h0m6 0h0m22 0h0m7 0h0m-96 1h0m3 0h0m7 0h0m4 0h0m6 0h0m6 0h2m9 0h0m6 0h1m6 0h0m13 0h2m3 0h0m25 0h0m-109 1h0m10 0h0m6 0h0m11 0h0m3 0h0m4 0h0m4 0h2m7 0h0m15 0h1m13 0h3m21 0h0m-89 1h0m7 0h0m8 0h0m11 0h0m7 0h2m3 0h0m5 0h0m15 0h0m5 0h1m4 0h1m18 0h0m7 0h0m-92 1h0m11 0h3m5 0h0m3 0h0m4 0h0m3 0h1m3 0h2m3 0h2m3 0h0m15 0h0m12 0h4m8 0h0m8 0h0m-90 1h1m3 0h4m3 0h1m7 0h0m3 0h0m4 0h0m3 0h2m3 0h1m13 0h0m7 0h0m18 0h0m13 0h0m7 0h2m-92 1h5m6 0h0m4 0h2m4 0h6m3 0h0m10 0h1m4 0h3m7 0h0m9 0h0m-69 1h0m5 0h0m3 0h3m5 0h1m3 0h2m4 0h0m4 0h0m10 0h0m3 0h0m4 0h0m18 0h0m4 0h0m36 0h0m-112 1h1m7 0h0m6 0h0m7 0h4m3 0h3m10 0h0m6 0h0m9 0h0m28 0h2m-80 1h4m4 0h0m5 0h0m4 0h1m3 0h2m3 0h2m7 0h2m14 0h0m13 0h0m10 0h0m39 0h0m-117 1h0m16 0h0m7 0h3m4 0h2m3 0h0m4 0h0m6 0h0m12 0h0m16 0h0m24 0h0m12 0h0m-115 1h0m13 0h0m3 0h7m6 0h0m6 0h0m4 0h1m3 0h0m6 0h0m8 0h1m3 0h0m11 0h0m10 0h2m13 0h0m-97 1h0m5 0h0m16 0h0m3 0h0m3 0h2m7 0h3m11 0h0m4 0h0m3 0h0m3 0h0m7 0h0m21 0h0m-82 1h0m3 0h0m5 0h4m9 0h0m14 0h0m3 0h0m10 0h0m5 0h0m7 0h0m7 0h0m9 0h2m5 0h0m11 0h0m-97 1h11m4 0h0m4 0h0m10 0h8m5 0h4m5 0h0m24 0h2m5 0h2m35 0h0m-109 1h4m3 0h0m3 0h0m4 0h0m5 0h2m3 0h7m3 0h0m3 0h0m3 0h2m4 0h0m13 0h0m18 0h1m12 0h0m-95 1h0m5 0h1m4 0h4m3 0h11m5 0h0m5 0h3m3 0h2m18 0h0m12 0h0m6 0h2m-94 1h0m13 0h0m7 0h3m5 0h0m8 0h8m7 0h0m36 0h0m-90 1h0m14 0h1m9 0h0m3 0h0m7 0h0m4 0h3m3 0h4m9 0h1m7 0h0m7 0h0m8 0h1m14 0h0m9 0h1m-86 1h4m5 0h1m7 0h3m4 0h1m5 0h0m8 0h0m25 0h0m17 0h0m-93 1h0m14 0h0m11 0h6m7 0h2m4 0h1m3 0h3m10 0h0m4 0h2m5 0h0m9 0h0m-75 1h0m7 0h0m7 0h0m3 0h3m5 0h0m6 0h0m3 0h2m6 0h0m3 0h0m14 0h0m13 0h2m28 0h0m-110 1h0m7 0h2m13 0h3m3 0h0m14 0h0m8 0h1m4 0h1m16 0h0m12 0h0m-81 1h0m3 0h1m4 0h0m4 0h2m6 0h0m7 0h0m4 0h1m5 0h2m15 0h0m3 0h0m4 0h0m20 0h0m5 0h0m13 0h0m-86 1h5m8 0h3m3 0h2m4 0h0m3 0h7m3 0h0m10 0h0m13 0h0m11 0h0m4 0h0m33 0h0m-119 1h2m8 0h3m4 0h0m11 0h4m5 0h0m7 0h0m40 0h1m32 0h0m-127 1h0m11 0h0m6 0h1m6 0h7m3 0h2m4 0h0m4 0h1m3 0h0m6 0h0m3 0h0m10 0h0m39 0h0m-96 1h0m17 0h3m7 0h2m9 0h3m10 0h0m37 0h0m6 0h0m7 0h0m-110 1h0m10 0h0m5 0h1m5 0h0m13 0h0m3 0h3m20 0h1m18 0h0m3 0h0m3 0h0m36 0h0m-108 1h0m4 0h0m5 0h2m6 0h0m3 0h1m5 0h0m6 0h0m6 0h0m35 0h0m11 0h0m22 0h0m-108 1h0m6 0h1m3 0h0m5 0h0m4 0h2m3 0h0m7 0h0m34 0h0m-63 1h2m22 0h6m3 0h0m30 0h0m-73 1h0m5 0h0m3 0h2m5 0h0m12 0h1m4 0h1m4 0h0m3 0h0m13 0h1m15 0h0m8 0h0m37 0h0m-109 1h0m8 0h2m3 0h4m3 0h0m5 0h0m5 0h0m26 0h0m32 0h0m-85 1h0m4 0h3m11 0h1m5 0h3m4 0h0m-34 1h0m5 0h3m12 0h0m8 0h0m4 0h2m13 0h0m9 0h0m-56 1h0m5 0h0m7 0h0m3 0h1m9 0h0m6 0h0m4 0h0m9 0h2m20 0h0m-73 1h0m9 0h2m11 0h1m5 0h1m3 0h0m5 0h2m4 0h0m53 0h0m-93 1h0m5 0h0m4 0h0m7 0h1m3 0h1m6 0h0m3 0h2m5 0h0m46 0h0m-88 1h0m3 0h2m4 0h4m10 0h0m3 0h2m11 0h0m3 0h0m54 0h0m14 0h0m-107 1h0m3 0h0m5 0h0m16 0h1m13 0h0m-37 1h3m3 0h0m4 0h0m6 0h0m7 0h0m7 0h0m33 0h0m-65 1h0m8 0h0m4 0h2m7 0h0m14 0h0m12 0h0m85 0h0m-134 1h0m7 0h0m13 0h0m10 0h3m49 0h0m-81 1h0m3 0h2m12 0h0m6 0h0m3 0h2m3 0h0m6 0h0m5 0h0m31 0h0m13 0h0m9 0h0m-90 1h0m3 0h2m3 0h0m8 0h0m6 0h1m58 0h0m-86 1h1m10 0h0m-12 1h4m7 0h0m102 0h0m-106 1h0m4 0h0m6 0h0m17 0h0m3 0h0m-35 1h1m5 0h0m11 0h0m3 0h0m10 0h0m48 0h0m-7 1h0m28 0h0m-99 1h0m10 0h0m29 0h0m-41 1h0m40 1h0m-27 1h0m43 0h0m-56 1h0m6 2h0m16 0h0m9 1h0m-27 2h0m-4 2h1"/>
<path d="M552 655h0m-107 1h0m3 1h0m46 1h0m-40 3h0m16 0h0m-31 1h1m13 0h3m20 0h0m47 0h0m-82 1h0m3 0h0m4 0h0m3 0h0m7 0h0m11 0h0m4 0h0m-40 1h0m8 0h2m4 0h1m15 0h0m5 0h0m26 0h0m18 0h0m15 0h0m-87 1h0m4 0h0m8 0h3m3 0h1m5 0h0m12 0h0m4 0h0m34 0h0m-77 1h0m3 0h0m10 0h0m3 0h2m3 0h0m4 0h1m4 0h2m6 0h0m4 0h2m10 0h0m8 0h0m50 0h0m-118 1h1m14 0h1m14 0h2m6 0h0m18 0h0m6 0h0m10 0h0m15 0h0m24 0h0m-111 1h0m6 0h6m4 0h2m3 0h0m4 0h0m3 0h1m4 0h2m10 0h1m10 0h0m4 0h2m20 0h0m4 0h0m16 0h0m16 0h0m-114 1h2m3 0h0m5 0h4m6 0h2m5 0h0m8 0h0m3 0h0m6 0h0m3 0h0m10 0h0m3 0h0m16 0h1m16 0h0m10 0h0m-107 1h4m6 0h0m3 0h9m5 0h0m3 0h2m3 0h3m4 0h0m8 0h1m40 0h0m-90 1h1m4 0h1m5 0h8m5 0h2m3 0h9m8 0h0m6 0h0m6 0h2m28 0h0m-89 1h4m7 0h0m5 0h1m5 0h3m3 0h3m4 0h0m3 0h9m16 0h0m4 0h3m6 0h0m5 0h0m14 0h0m-95 1h1m8 0h1m4 0h0m3 0h2m3 0h4m4 0h4m3 0h2m3 0h0m25 0h0m6 0h0m3 0h2m6 0h0m13 0h0m12 0h0m-109 1h0m3 0h0m6 0h19m4 0h1m5 0h0m29 0h0m8 0h0m3 0h5m4 0h4m4 0h0m10 0h0m-105 1h6m3 0h6m5 0h1m4 0h0m3 0h4m4 0h2m6 0h3m6 0h0m4 0h0m4 0h0m8 0h0m3 0h1m4 0h2m16 0h0m9 0h0m-104 1h0m3 0h3m3 0h6m3 0h12m5 0h4m6 0h1m5 0h0m8 0h1m3 0h0m5 0h1m5 0h0m3 0h0m4 0h0m3 0h0m6 0h0m3 0h0m6 0h0m3 0h0m-102 1h0m3 0h2m4 0h4m5 0h3m3 0h4m3 0h0m3 0h0m3 0h3m3 0h1m12 0h0m3 0h0m14 0h1m3 0h1m3 0h2m16 0h0m8 0h0m-107 1h5m4 0h2m5 0h10m3 0h5m5 0h5m3 0h0m10 0h0m7 0h0m3 0h0m3 0h2m11 0h0m7 0h0m16 0h0m-106 1h0m3 0h1m4 0h1m3 0h11m4 0h0m3 0h0m3 0h0m4 0h0m3 0h2m3 0h5m4 0h3m3 0h1m5 0h0m3 0h7m4 0h0m11 0h0m7 0h0m4 0h0m3 0h0m5 0h0m19 0h0m-128 1h0m5 0h1m3 0h15m4 0h0m3 0h4m3 0h0m4 0h0m4 0h0m7 0h8m4 0h2m4 0h2m11 0h1m4 0h0m6 0h0m3 0h0m6 0h0m20 0h0m6 0h0m-131 1h0m4 0h0m3 0h1m9 0h2m3 0h0m5 0h2m4 0h0m3 0h0m3 0h6m3 0h0m3 0h2m4 0h0m3 0h0m4 0h0m3 0h1m6 0h0m4 0h5m8 0h1m5 0h0m9 0h0m-106 1h1m5 0h5m3 0h3m3 0h16m3 0h0m4 0h4m18 0h1m13 0h0m9 0h0m3 0h0m3 0h3m8 0h0m3 0h0m3 0h0m32 0h0m-143 1h0m4 0h0m5 0h2m5 0h0m4 0h2m7 0h3m3 0h4m4 0h0m3 0h0m4 0h0m3 0h0m15 0h2m4 0h1m3 0h2m3 0h0m3 0h1m6 0h0m6 0h0m11 0h0m30 0h0m-140 1h0m6 0h2m3 0h1m6 0h2m3 0h1m6 0h0m3 0h1m4 0h8m18 0h1m6 0h0m3 0h0m3 0h2m9 0h3m4 0h0m4 0h0m3 0h0m4 0h0m8 0h0m-106 1h2m5 0h1m3 0h4m3 0h0m3 0h0m5 0h1m6 0h3m8 0h0m6 0h1m5 0h0m3 0h2m5 0h7m5 0h0m5 0h0m9 0h3m7 0h0m15 0h0m-125 1h0m17 0h2m8 0h1m6 0h0m6 0h0m8 0h0m19 0h0m8 0h0m11 0h4m7 0h2m-99 1h0m3 0h0m4 0h2m4 0h0m6 0h0m6 0h1m10 0h2m20 0h0m16 0h2m3 0h0m4 0h0m7 0h0m3 0h0m7 0h3m18 0h0m-116 1h0m6 0h0m8 0h0m5 0h0m3 0h4m3 0h4m6 0h0m4 0h2m4 0h0m3 0h0m20 0h0m4 0h0m3 0h0m3 0h4m4 0h0m4 0h0m8 0h0m28 0h0m-133 1h0m7 0h3m4 0h0m3 0h1m3 0h0m3 0h0m3 0h2m3 0h0m4 0h1m5 0h0m6 0h0m4 0h0m3 0h0m12 0h0m7 0h0m5 0h0m4 0h0m5 0h2m18 0h4m-114 1h0m4 0h1m4 0h0m7 0h0m4 0h3m3 0h0m3 0h1m3 0h0m3 0h1m6 0h0m5 0h0m8 0h0m10 0h1m12 0h3m4 0h1m7 0h0m7 0h0m-101 1h0m5 0h0m5 0h0m6 0h1m3 0h0m3 0h0m5 0h4m6 0h0m3 0h0m3 0h0m11 0h1m8 0h2m7 0h0m6 0h1m12 0h3m4 0h0m10 0h1m-103 1h0m3 0h0m8 0h3m5 0h0m3 0h0m9 0h1m13 0h4m8 0h2m4 0h1m10 0h0m7 0h0m3 0h0m8 0h0m-99 1h1m4 0h0m23 0h0m4 0h6m3 0h0m5 0h0m4 0h0m11 0h4m6 0h5m4 0h0m10 0h0m15 0h0m13 0h0m-118 1h0m15 0h0m6 0h1m7 0h0m11 0h0m8 0h2m8 0h0m23 0h0m8 0h0m7 0h0m3 0h0m6 0h0m12 0h0m-117 1h0m10 0h0m5 0h0m4 0h5m7 0h0m4 0h0m6 0h0m11 0h0m3 0h1m5 0h0m8 0h0m11 0h0m5 0h0m12 0h0m3 0h0m18 0h0m10 0h0m-101 1h3m8 0h0m5 0h0m5 0h0m3 0h0m27 0h0m6 0h0m4 0h1m6 0h0m4 0h0m7 0h0m-100 1h0m4 0h0m7 0h1m8 0h3m11 0h0m10 0h0m5 0h0m14 0h0m4 0h0m7 0h2m11 0h0m27 0h0m-115 1h0m7 0h1m6 0h0m3 0h1m3 0h3m3 0h1m6 0h0m4 0h0m6 0h0m4 0h0m5 0h1m7 0h0m3 0h0m10 0h0m11 0h2m11 0h0m-69 1h0m8 0h3m4 0h3m3 0h3m12 0h0m6 0h0m3 0h1m3 0h0m3 0h0m19 0h0m22 0h0m12 0h0m-128 1h0m4 0h1m4 0h2m7 0h1m5 0h0m8 0h0m20 0h0m4 0h0m5 0h0m25 0h2m5 0h1m7 0h0m6 0h0m-106 1h0m8 0h0m3 0h1m18 0h2m3 0h0m4 0h1m4 0h0m32 0h0m-79 1h0m7 0h1m7 0h0m10 0h1m6 0h0m20 0h0m11 0h4m8 0h0m9 0h0m6 0h0m-76 1h0m3 0h0m5 0h0m9 0h3m11 0h0m3 0h4m5 0h0m13 0h0m10 0h0m6 0h0m8 0h0m9 0h0m11 0h0m3 0h0m-99 1h0m10 0h1m3 0h0m6 0h0m3 0h0m21 0h0m4 0h0m19 0h0m-68 1h0m10 0h0m9 0h1m5 0h0m13 0h0m23 0h2m7 0h0m-87 1h0m17 0h0m14 0h0m4 0h0m7 0h0m3 0h1m9 0h0m16 0h4m10 0h0m6 0h0m-73 1h0m5 0h1m16 0h0m33 0h0m23 0h0m-88 1h0m3 0h1m13 0h0m3 0h1m24 0h1m5 0h0m15 0h0m33 0h0m-99 1h0m18 0h0m7 0h0m8 0h0m12 0h0m6 0h0m-38 1h0m7 0h0m17 0h0m12 0h0m-35 1h2m21 0h0m5 0h0m17 0h0m5 0h1m-65 1h0m16 0h0m15 0h0m3 0h0m24 0h0m-60 1h0m15 0h0m3 0h0m11 0h0m38 0h4m7 0h1m-91 1h0m20 0h2m4 0h0m7 0h0m5 0h0m27 0h1m15 0h0m-59 1h0m5 0h0m8 0h1m7 0h0m3 0h6m3 0h0m12 0h0m13 0h0m5 0h0m6 0h0m12 0h0m-86 1h0m7 0h0m5 0h0m8 0h0m6 0h2m10 0h1m6 0h0m9 0h0m17 0h0m10 0h0m-90 1h0m13 0h0m4 0h0m5 0h0m3 0h0m10 0h1m3 0h0m8 0h0m15 0h1m8 0h0m3 0h0m31 0h0m-74 1h1m4 0h0m3 0h0m4 0h0m16 0h0m3 0h0m7 0h0m7 0h0m-83 1h0m8 0h0m5 0h0m3 0h0m4 0h0m6 0h0m7 0h1m8 0h2m14 0h0m3 0h1m5 0h0m12 0h0m12 0h0m5 0h0m-79 1h2m3 0h0m4 0h0m3 0h2m3 0h0m4 0h1m31 0h2m18 0h0m-87 1h0m20 0h0m3 0h0m10 0h0m6 0h1m3 0h0m3 0h0m3 0h0m16 0h1m6 0h2m-70 1h0m10 0h1m3 0h1m5 0h0m3 0h0m3 0h0m4 0h8m3 0h0m18 0h0m24 0h0m25 0h0m-105 1h0m9 0h1m6 0h0m9 0h0m4 0h5m9 0h0m5 0h0m15 0h0m6 0h0m-62 1h2m4 0h0m6 0h3m3 0h0m3 0h4m4 0h3m7 0h0m11 0h0m-50 1h0m5 0h3m4 0h5m8 0h0m13 0h0m4 0h0m10 0h0m5 0h0m7 0h0m6 0h0m-71 1h0m6 0h2m3 0h2m10 0h4m4 0h1m7 0h0m16 0h0m3 0h0m6 0h0m36 0h0m-101 1h0m15 0h1m4 0h0m5 0h0m6 0h6m14 0h0m3 0h0m11 0h0m8 0h0m19 0h0m-90 1h0m7 0h0m3 0h2m3 0h1m16 0h0m5 0h1m9 0h0m10 0h0m4 0h0m10 0h0m9 0h0m-93 1h4m4 0h0m11 0h3m4 0h1m3 0h1m4 0h0m9 0h1m3 0h0m3 0h0m12 0h0m15 0h0m5 0h0m-71 1h0m4 0h3m4 0h0m3 0h0m3 0h9m5 0h0m5 0h0m19 0h0m14 0h0m6 0h0m-73 1h2m6 0h5m5 0h5m4 0h0m6 0h4m4 0h0m6 0h0m4 0h0m3 0h0m3 0h0m3 0h0m5 0h0m-56 1h9m7 0h6m11 0h1m3 0h2m6 0h0m4 0h0m6 0h0m8 0h0m-88 1h0m14 0h1m5 0h5m8 0h0m4 0h0m3 0h2m4 0h0m11 0h0m6 0h0m4 0h0m5 0h0m-49 1h3m4 0h0m3 0h0m4 0h3m5 0h0m5 0h0m9 0h1m23 0h0m7 0h0m-92 1h0m9 0h0m13 0h1m3 0h0m4 0h9m9 0h0m6 0h0m16 0h0m6 0h3m31 0h0m-86 1h0m6 0h2m4 0h8m3 0h0m7 0h0m10 0h0m3 0h5m20 0h0m-91 1h0m19 0h2m3 0h0m3 0h0m3 0h1m4 0h1m7 0h1m5 0h2m16 0h0m21 0h0m-87 1h0m12 0h4m8 0h1m3 0h4m3 0h0m3 0h1m4 0h1m5 0h0m6 0h0m3 0h0m17 0h0m-65 1h0m10 0h0m4 0h2m8 0h0m5 0h0m17 0h0m25 0h0m-59 1h0m3 0h4m3 0h0m9 0h0m4 0h0m4 0h0m7 0h1m8 0h0m3 0h0m4 0h2m-51 1h0m6 0h4m3 0h5m6 0h0m9 0h3m16 0h0m6 0h0m-65 1h2m6 0h0m4 0h0m8 0h0m5 0h0m8 0h1m3 0h0m8 0h0m13 0h0m19 0h0m-73 1h7m3 0h2m8 0h0m4 0h1m22 0h0m-50 1h0m9 0h0m6 0h5m11 0h0m4 0h2m4 0h0m14 0h0m12 0h0m3 0h2m-67 1h3m7 0h0m7 0h1m8 0h0m5 0h0m10 0h0m7 0h1m-67 1h0m17 0h2m4 0h1m7 0h0m3 0h0m3 0h1m6 0h2m8 0h0m13 0h0m-67 1h0m6 0h0m7 0h0m5 0h0m3 0h2m3 0h1m13 0h0m11 0h0m5 0h0m-60 1h0m5 0h0m10 0h0m11 0h0m10 0h0m8 0h0m7 0h0m5 0h1m-31 1h0m4 0h3m22 0h0m13 0h0m-56 1h0m12 0h0m7 0h0m7 0h0m4 0h0m3 0h0m4 0h0m3 0h0m16 0h0m-64 1h0m10 0h0m12 0h7m9 0h2m9 0h0m29 0h0m-65 1h4m23 0h0m3 0h3m6 0h0m16 0h1m-68 1h0m22 0h0m9 0h0m35 0h0m-72 1h0m9 0h0m12 0h0m12 0h0m7 0h0m5 0h0m-46 1h0m12 0h0m7 0h0m5 0h0m3 0h0m8 0h0m6 0h1m7 0h0m3 0h0m3 0h0m44 0h0m10 0h0m-90 1h0m5 0h0m8 0h0m6 0h0m15 0h0m3 0h0m10 0h2m63 0h0m-117 1h0m13 0h0m8 0h0m8 0h0m69 0h0m-114 1h2m21 0h0m17 0h4m34 0h0m-80 1h0m6 0h0m7 0h0m8 0h0m7 0h0m4 0h1m3 0h0m4 0h0m4 0h0m-40 1h0m9 0h0m23 0h0m9 0h0m59 0h0m-104 1h0m7 0h0m32 0h0m7 0h0m35 0h0m-53 1h0m8 0h0m10 0h0m3 0h0m36 0h0m-80 1h0m12 0h0m70 0h0m-87 1h0m5 0h0m4 0h0m3 0h0m52 0h0m-48 1h0m3 0h0m31 0h0m-47 1h0m8 0h0m1 1h0m3 0h0m36 0h0m33 0h0m-74 1h0m18 0h0m6 0h0m-34 1h0m5 0h0m7 0h1m-13 1h0m6 0h0m7 0h0m-13 1h0m9 0h0m18 0h0m-17 1h1m-5 1h0m3 0h0m7 0h1m96 0h0m-109 1h0m4 0h0m5 0h0m29 0h0m48 0h0m-87 1h0m11 0h1m5 0h0m5 0h0m-17 1h0m4 0h0m94 0h0m-106 1h0m3 0h0m11 0h0m32 0h0m68 0h0m-111 1h2m5 0h0m29 0h0m-36 1h1m121 0h0m-125 1h0m14 0h1m-13 3h1m3 0h2m46 0h0m38 0h0m9 0h0m-93 2h0m7 1h0m83 0h0m-94 1h0m10 0h0m-6 1h0m95 0h0m-99 2h0m-3 1h0m10 1h0m2 3h0m-8 1h0m4 0h2"/>
<path d="M552 655h0m-107 1h0m3 1h0m46 1h0m-40 3h0m16 0h0m-31 1h1m13 0h3m20 0h0m47 0h0m-82 1h0m3 0h0m4 0h0m3 0h0m7 0h0m11 0h0m4 0h0m-40 1h0m8 0h2m4 0h1m15 0h0m5 0h0m26 0h0m18 0h0m15 0h0m-87 1h0m4 0h0m8 0h3m3 0h1m5 0h0m12 0h0m4 0h0m34 0h0m-77 1h0m3 0h0m10 0h0m3 0h2m3 0h0m4 0h1m4 0h2m6 0h0m4 0h2m10 0h0m8 0h0m50 0h0m-118 1h1m14 0h1m14 0h2m6 0h0m18 0h0m6 0h0m10 0h0m15 0h0m24 0h0m-111 1h0m6 0h6m4 0h2m3 0h0m4 0h0m3 0h1m4 0h2m10 0h1m10 0h0m4 0h2m20 0h0m4 0h0m16 0h0m16 0h0m-114 1h2m3 0h0m5 0h4m6 0h2m5 0h0m8 0h0m3 0h0m6 0h0m3 0h0m10 0h0m3 0h0m16 0h1m16 0h0m10 0h0m-107 1h4m6 0h0m3 0h9m5 0h0m3 0h2m3 0h3m4 0h0m8 0h1m40 0h0m-90 1h1m4 0h1m5 0h8m5 0h2m3 0h9m8 0h0m6 0h0m6 0h2m28 0h0m-89 1h4m7 0h0m5 0h1m5 0h3m3 0h3m4 0h0m3 0h9m16 0h0m4 0h3m6 0h0m5 0h0m14 0h0m-95 1h1m8 0h1m4 0h0m3 0h2m3 0h4m4 0h4m3 0h2m3 0h0m25 0h0m6 0h0m3 0h2m6 0h0m13 0h0m12 0h0m-109 1h0m3 0h0m6 0h19m4 0h1m5 0h0m29 0h0m8 0h0m3 0h5m4 0h4m4 0h0m10 0h0m-105 1h6m3 0h6m5 0h1m4 0h0m3 0h4m4 0h2m6 0h3m6 0h0m4 0h0m4 0h0m8 0h0m3 0h1m4 0h2m16 0h0m9 0h0m-104 1h0m3 0h3m3 0h6m3 0h12m5 0h4m6 0h1m5 0h0m8 0h1m3 0h0m5 0h1m5 0h0m3 0h0m4 0h0m3 0h0m6 0h0m3 0h0m6 0h0m3 0h0m-102 1h0m3 0h2m4 0h4m5 0h3m3 0h4m3 0h0m3 0h0m3 0h3m3 0h1m12 0h0m3 0h0m14 0h1m3 0h1m3 0h2m16 0h0m8 0h0m-107 1h5m4 0h2m5 0h10m3 0h5m5 0h5m3 0h0m10 0h0m7 0h0m3 0h0m3 0h2m11 0h0m7 0h0m16 0h0m-106 1h0m3 0h1m4 0h1m3 0h11m4 0h0m3 0h0m3 0h0m4 0h0m3 0h2m3 0h5m4 0h3m3 0h1m5 0h0m3 0h7m4 0h0m11 0h0m7 0h0m4 0h0m3 0h0m5 0h0m19 0h0m-128 1h0m5 0h1m3 0h15m4 0h0m3 0h4m3 0h0m4 0h0m4 0h0m7 0h8m4 0h2m4 0h2m11 0h1m4 0h0m6 0h0m3 0h0m6 0h0m20 0h0m6 0h0m-131 1h0m4 0h0m3 0h1m9 0h2m3 0h0m5 0h2m4 0h0m3 0h0m3 0h6m3 0h0m3 0h2m4 0h0m3 0h0m4 0h0m3 0h1m6 0h0m4 0h5m8 0h1m5 0h0m9 0h0m-106 1h1m5 0h5m3 0h3m3 0h16m3 0h0m4 0h4m18 0h1m13 0h0m9 0h0m3 0h0m3 0h3m8 0h0m3 0h0m3 0h0m32 0h0m-143 1h0m4 0h0m5 0h2m5 0h0m4 0h2m7 0h3m3 0h4m4 0h0m3 0h0m4 0h0m3 0h0m15 0h2m4 0h1m3 0h2m3 0h0m3 0h1m6 0h0m6 0h0m11 0h0m30 0h0m-140 1h0m6 0h2m3 0h1m6 0h2m3 0h1m6 0h0m3 0h1m4 0h8m18 0h1m6 0h0m3 0h0m3 0h2m9 0h3m4 0h0m4 0h0m3 0h0m4 0h0m8 0h0m-106 1h2m5 0h1m3 0h4m3 0h0m3 0h0m5 0h1m6 0h3m8 0h0m6 0h1m5 0h0m3 0h2m5 0h7m5 0h0m5 0h0m9 0h3m7 0h0m15 0h0m-125 1h0m17 0h2m8 0h1m6 0h0m6 0h0m8 0h0m19 0h0m8 0h0m11 0h4m7 0h2m-99 1h0m3 0h0m4 0h2m4 0h0m6 0h0m6 0h1m10 0h2m20 0h0m16 0h2m3 0h0m4 0h0m7 0h0m3 0h0m7 0h3m18 0h0m-116 1h0m6 0h0m8 0h0m5 0h0m3 0h4m3 0h4m6 0h0m4 0h2m4 0h0m3 0h0m20 0h0m4 0h0m3 0h0m3 0h4m4 0h0m4 0h0m8 0h0m28 0h0m-133 1h0m7 0h3m4 0h0m3 0h1m3 0h0m3 0h0m3 0h2m3 0h0m4 0h1m5 0h0m6 0h0m4 0h0m3 0h0m12 0h0m7 0h0m5 0h0m4 0h0m5 0h2m18 0h4m-114 1h0m4 0h1m4 0h0m7 0h0m4 0h3m3 0h0m3 0h1m3 0h0m3 0h1m6 0h0m5 0h0m8 0h0m10 0h1m12 0h3m4 0h1m7 0h0m7 0h0m-101 1h0m5 0h0m5 0h0m6 0h1m3 0h0m3 0h0m5 0h4m6 0h0m3 0h0m3 0h0m11 0h1m8 0h2m7 0h0m6 0h1m12 0h3m4 0h0m10 0h1m-103 1h0m3 0h0m8 0h3m5 0h0m3 0h0m9 0h1m13 0h4m8 0h2m4 0h1m10 0h0m7 0h0m3 0h0m8 0h0m-99 1h1m4 0h0m23 0h0m4 0h6m3 0h0m5 0h0m4 0h0m11 0h4m6 0h5m4 0h0m10 0h0m15 0h0m13 0h0m-118 1h0m15 0h0m6 0h1m7 0h0m11 0h0m8 0h2m8 0h0m23 0h0m8 0h0m7 0h0m3 0h0m6 0h0m12 0h0m-117 1h0m10 0h0m5 0h0m4 0h5m7 0h0m4 0h0m6 0h0m11 0h0m3 0h1m5 0h0m8 0h0m11 0h0m5 0h0m12 0h0m3 0h0m18 0h0m10 0h0m-101 1h3m8 0h0m5 0h0m5 0h0m3 0h0m27 0h0m6 0h0m4 0h1m6 0h0m4 0h0m7 0h0m-100 1h0m4 0h0m7 0h1m8 0h3m11 0h0m10 0h0m5 0h0m14 0h0m4 0h0m7 0h2m11 0h0m27 0h0m-115 1h0m7 0h1m6 0h0m3 0h1m3 0h3m3 0h1m6 0h0m4 0h0m6 0h0m4 0h0m5 0h1m7 0h0m3 0h0m10 0h0m11 0h2m11 0h0m-69 1h0m8 0h3m4 0h3m3 0h3m12 0h0m6 0h0m3 0h1m3 0h0m3 0h0m19 0h0m22 0h0m12 0h0m-128 1h0m4 0h1m4 0h2m7 0h1m5 0h0m8 0h0m20 0h0m4 0h0m5 0h0m25 0h2m5 0h1m7 0h0m6 0h0m-106 1h0m8 0h0m3 0h1m18 0h2m3 0h0m4 0h1m4 0h0m32 0h0m-79 1h0m7 0h1m7 0h0m10 0h1m6 0h0m20 0h0m11 0h4m8 0h0m9 0h0m6 0h0m-76 1h0m3 0h0m5 0h0m9 0h3m11 0h0m3 0h4m5 0h0m13 0h0m10 0h0m6 0h0m8 0h0m9 0h0m11 0h0m3 0h0m-99 1h0m10 0h1m3 0h0m6 0h0m3 0h0m21 0h0m4 0h0m19 0h0m-68 1h0m10 0h0m9 0h1m5 0h0m13 0h0m23 0h2m7 0h0m-87 1h0m17 0h0m14 0h0m4 0h0m7 0h0m3 0h1m9 0h0m16 0h4m10 0h0m6 0h0m-73 1h0m5 0h1m16 0h0m33 0h0m23 0h0m-88 1h0m3 0h1m13 0h0m3 0h1m24 0h1m5 0h0m15 0h0m33 0h0m-99 1h0m18 0h0m7 0h0m8 0h0m12 0h0m6 0h0m-38 1h0m7 0h0m17 0h0m12 0h0m-35 1h2m21 0h0m5 0h0m17 0h0m5 0h1m-65 1h0m16 0h0m15 0h0m3 0h0m24 0h0m-60 1h0m15 0h0m3 0h0m11 0h0m38 0h4m7 0h1m-91 1h0m20 0h2m4 0h0m7 0h0m5 0h0m27 0h1m15 0h0m-59 1h0m5 0h0m8 0h1m7 0h0m3 0h6m3 0h0m12 0h0m13 0h0m5 0h0m6 0h0m12 0h0m-86 1h0m7 0h0m5 0h0m8 0h0m6 0h2m10 0h1m6 0h0m9 0h0m17 0h0m10 0h0m-90 1h0m13 0h0m4 0h0m5 0h0m3 0h0m10 0h1m3 0h0m8 0h0m15 0h1m8 0h0m3 0h0m31 0h0m-74 1h1m4 0h0m3 0h0m4 0h0m16 0h0m3 0h0m7 0h0m7 0h0m-83 1h0m8 0h0m5 0h0m3 0h0m4 0h0m6 0h0m7 0h1m8 0h2m14 0h0m3 0h1m5 0h0m12 0h0m12 0h0m5 0h0m-79 1h2m3 0h0m4 0h0m3 0h2m3 0h0m4 0h1m31 0h2m18 0h0m-87 1h0m20 0h0m3 0h0m10 0h0m6 0h1m3 0h0m3 0h0m3 0h0m16 0h1m6 0h2m-70 1h0m10 0h1m3 0h1m5 0h0m3 0h0m3 0h0m4 0h8m3 0h0m18 0h0m24 0h0m25 0h0m-105 1h0m9 0h1m6 0h0m9 0h0m4 0h5m9 0h0m5 0h0m15 0h0m6 0h0m-62 1h2m4 0h0m6 0h3m3 0h0m3 0h4m4 0h3m7 0h0m11 0h0m-50 1h0m5 0h3m4 0h5m8 0h0m13 0h0m4 0h0m10 0h0m5 0h0m7 0h0m6 0h0m-71 1h0m6 0h2m3 0h2m10 0h4m4 0h1m7 0h0m16 0h0m3 0h0m6 0h0m36 0h0m-101 1h0m15 0h1m4 0h0m5 0h0m6 0h6m14 0h0m3 0h0m11 0h0m8 0h0m19 0h0m-90 1h0m7 0h0m3 0h2m3 0h1m16 0h0m5 0h1m9 0h0m10 0h0m4 0h0m10 0h0m9 0h0m-93 1h4m4 0h0m11 0h3m4 0h1m3 0h1m4 0h0m9 0h1m3 0h0m3 0h0m12 0h0m15 0h0m5 0h0m-71 1h0m4 0h3m4 0h0m3 0h0m3 0h9m5 0h0m5 0h0m19 0h0m14 0h0m6 0h0m-73 1h2m6 0h5m5 0h5m4 0h0m6 0h4m4 0h0m6 0h0m4 0h0m3 0h0m3 0h0m3 0h0m5 0h0m-56 1h9m7 0h6m11 0h1m3 0h2m6 0h0m4 0h0m6 0h0m8 0h0m-88 1h0m14 0h1m5 0h5m8 0h0m4 0h0m3 0h2m4 0h0m11 0h0m6 0h0m4 0h0m5 0h0m-49 1h3m4 0h0m3 0h0m4 0h3m5 0h0m5 0h0m9 0h1m23 0h0m7 0h0m-92 1h0m9 0h0m13 0h1m3 0h0m4 0h9m9 0h0m6 0h0m16 0h0m6 0h3m31 0h0m-86 1h0m6 0h2m4 0h8m3 0h0m7 0h0m10 0h0m3 0h5m20 0h0m-91 1h0m19 0h2m3 0h0m3 0h0m3 0h1m4 0h1m7 0h1m5 0h2m16 0h0m21 0h0m-87 1h0m12 0h4m8 0h1m3 0h4m3 0h0m3 0h1m4 0h1m5 0h0m6 0h0m3 0h0m17 0h0m-65 1h0m10 0h0m4 0h2m8 0h0m5 0h0m17 0h0m25 0h0m-59 1h0m3 0h4m3 0h0m9 0h0m4 0h0m4 0h0m7 0h1m8 0h0m3 0h0m4 0h2m-51 1h0m6 0h4m3 0h5m6 0h0m9 0h3m16 0h0m6 0h0m-65 1h2m6 0h0m4 0h0m8 0h0m5 0h0m8 0h1m3 0h0m8 0h0m13 0h0m19 0h0m-73 1h7m3 0h2m8 0h0m4 0h1m22 0h0m-50 1h0m9 0h0m6 0h5m11 0h0m4 0h2m4 0h0m14 0h0m12 0h0m3 0h2m-67 1h3m7 0h0m7 0h1m8 0h0m5 0h0m10 0h0m7 0h1m-67 1h0m17 0h2m4 0h1m7 0h0m3 0h0m3 0h1m6 0h2m8 0h0m13 0h0m-67 1h0m6 0h0m7 0h0m5 0h0m3 0h2m3 0h1m13 0h0m11 0h0m5 0h0m-60 1h0m5 0h0m10 0h0m11 0h0m10 0h0m8 0h0m7 0h0m5 0h1m-31 1h0m4 0h3m22 0h0m13 0h0m-56 1h0m12 0h0m7 0h0m7 0h0m4 0h0m3 0h0m4 0h0m3 0h0m16 0h0m-64 1h0m10 0h0m12 0h7m9 0h2m9 0h0m29 0h0m-65 1h4m23 0h0m3 0h3m6 0h0m16 0h1m-68 1h0m22 0h0m9 0h0m35 0h0m-72 1h0m9 0h0m12 0h0m12 0h0m7 0h0m5 0h0m-46 1h0m12 0h0m7 0h0m5 0h0m3 0h0m8 0h0m6 0h1m7 0h0m3 0h0m3 0h0m44 0h0m10 0h0m-90 1h0m5 0h0m8 0h0m6 0h0m15 0h0m3 0h0m10 0h2m63 0h0m-117 1h0m13 0h0m8 0h0m8 0h0m69 0h0m-114 1h2m21 0h0m17 0h4m34 0h0m-80 1h0m6 0h0m7 0h0m8 0h0m7 0h0m4 0h1m3 0h0m4 0h0m4 0h0m-40 1h0m9 0h0m23 0h0m9 0h0m59 0h0m-104 1h0m7 0h0m32 0h0m7 0h0m35 0h0m-53 1h0m8 0h0m10 0h0m3 0h0m36 0h0m-80 1h0m12 0h0m70 0h0m-87 1h0m5 0h0m4 0h0m3 0h0m52 0h0m-48 1h0m3 0h0m31 0h0m-47 1h0m8 0h0m1 1h0m3 0h0m36 0h0m33 0h0m-74 1h0m18 0h0m6 0h0m-34 1h0m5 0h0m7 0h1m-13 1h0m6 0h0m7 0h0m-13 1h0m9 0h0m18 0h0m-17 1h1m-5 1h0m3 0h0m7 0h1m96 0h0m-109 1h0m4 0h0m5 0h0m29 0h0m48 0h0m-87 1h0m11 0h1m5 0h0m5 0h0m-17 1h0m4 0h0m94 0h0m-106 1h0m3 0h0m11 0h0m32 0h0m68 0h0m-111 1h2m5 0h0m29 0h0m-36 1h1m121 0h0m-125 1h0m14 0h1m-13 3h1m3 0h2m46 0h0m38 0h0m9 0h0m-93 2h0m7 1h0m83 0h0m-94 1h0m10 0h0m-6 1h0m95 0h0m-99 2h0m-3 1h0m10 1h0m2 3h0m-8 1h0m4 0h2"/>
<path d="M787 652h0m-47 2h0m31 2h0m-30 1h0m-15 2h0m0 2h0m31 0h0m-31 1h0m24 2h0m16 1h0m-25 1h0m54 0h0m-69 1h0m91 0h0m-58 2h0m3 0h0m-36 1h0m20 0h0m17 1h0m-37 1h0m15 0h2m-17 1h0m22 0h0m27 0h0m-49 1h0m45 0h0m25 0h0m5 0h0m-38 1h0m36 0h0m-73 1h0m8 0h0m-8 1h0m79 0h0m-79 1h0m24 0h0m4 0h2m5 0h0m3 0h0m8 0h0m26 0h0m16 0h0m-88 1h0m26 0h0m6 0h0m10 0h0m20 0h0m4 0h0m25 0h0m-66 1h0m11 0h0m5 0h0m4 0h0m5 0h0m16 0h0m23 0h0m-78 1h0m63 0h0m-67 1h0m19 0h0m7 0h0m6 0h0m20 0h1m10 0h0m3 0h0m3 0h0m24 0h0m-100 1h0m10 0h0m21 0h0m3 0h0m12 0h0m32 0h0m-51 1h0m9 0h0m6 0h0m-42 1h0m32 0h0m30 0h0m5 0h0m10 0h0m-47 1h0m14 0h0m5 0h0m22 0h0m-71 1h0m17 0h0m7 0h0m10 0h0m10 0h2m3 0h0m15 0h0m3 0h0m-67 1h2m19 0h0m3 0h2m14 0h0m6 0h0m10 0h0m20 0h1m10 0h0m-53 1h0m12 0h0m15 0h0m18 0h0m-49 1h0m4 0h3m31 0h0m20 0h0m-78 1h0m14 0h0m8 0h4m8 0h0m23 0h0m-54 1h0m14 0h0m30 0h0m6 0h0m12 0h0m-75 1h0m16 0h0m3 0h0m8 0h2m8 0h0m16 0h0m12 0h0m-46 1h0m7 0h2m14 0h0m30 0h2m-65 1h0m13 0h1m10 0h2m3 0h0m8 0h0m4 0h0m6 0h2m14 0h0m-50 1h0m3 0h0m6 0h2m29 0h0m-58 1h0m21 0h0m3 0h0m7 0h0m5 0h0m3 0h0m28 0h0m18 0h0m-73 1h0m3 0h0m6 0h0m12 0h0m4 0h0m16 0h0m24 0h0m-58 1h2m9 0h0m25 0h0m13 0h0m5 0h0m10 0h0m-87 1h0m3 0h0m13 0h1m9 0h0m7 0h2m5 0h0m4 0h0m36 0h0m-62 1h0m3 0h0m5 0h0m5 0h0m29 0h0m13 0h0m18 0h0m-91 1h0m22 0h0m6 0h0m5 0h0m5 0h2m6 0h0m12 0h0m25 0h0m9 0h0m-74 1h0m9 0h4m4 0h0m5 0h0m3 0h3m26 0h0m5 0h0m-60 1h1m6 0h0m10 0h1m5 0h0m3 0h0m19 0h0m4 0h0m8 0h0m24 0h0m-87 1h0m11 0h3m10 0h0m7 0h0m21 0h0m8 0h0m4 0h0m6 0h0m6 0h0m3 0h0m3 0h0m5 0h0m-81 1h0m26 0h2m23 0h0m10 0h0m-56 1h0m6 0h2m11 0h2m10 0h0m13 0h0m-44 1h0m5 0h0m3 0h2m6 0h0m9 0h0m24 0h0m6 0h0m-58 1h2m3 0h0m4 0h4m13 0h0m12 0h0m6 0h0m6 0h0m3 0h0m-62 1h0m12 0h0m23 0h0m6 0h0m3 0h0m5 0h0m10 0h0m5 0h0m6 0h0m-48 1h0m6 0h0m7 0h0m3 0h0m8 0h0m12 0h0m9 0h0m-55 1h0m9 0h1m11 0h0m5 0h2m26 0h2m10 0h0m-62 1h3m16 0h0m15 0h0m4 0h0m5 0h0m-50 1h0m7 0h0m3 0h0m3 0h0m3 0h0m4 0h0m4 0h0m6 0h0m7 0h0m9 0h0m7 0h0m-47 1h2m3 0h2m9 0h0m32 0h1m16 0h0m-76 1h0m35 0h0m4 0h0m46 0h0m-99 1h0m35 0h1m13 0h0m24 0h0m7 0h0m32 0h0m-100 1h0m27 0h1m9 0h0m10 0h0m7 0h0m15 0h0m-59 1h1m9 0h0m3 0h0m12 0h0m9 0h0m4 0h0m-28 1h0m4 0h1m8 0h2m5 0h0m4 0h0m5 0h0m-35 1h2m11 0h1m13 0h0m4 0h0m13 0h0m10 0h2m-48 1h3m9 0h2m24 0h0m-43 1h0m8 0h0m7 0h0m7 0h4m4 0h0m16 0h0m15 0h0m-65 1h0m13 0h0m12 0h0m3 0h0m6 0h0m-38 1h2m3 0h0m6 0h0m7 0h0m12 0h1m5 0h1m-41 1h0m7 0h0m15 0h1m12 0h0m4 0h3m5 0h0m7 0h0m4 0h0m-41 1h0m4 0h0m3 0h2m3 0h0m-8 1h0m9 0h0m14 0h1m5 0h0m13 0h0m-51 1h0m10 0h0m4 0h0m9 0h2m6 0h0m-37 1h0m5 0h0m10 0h1m14 0h2m21 0h0m-54 1h1m16 0h0m4 0h2m14 0h0m-25 1h0m4 0h0m5 0h0m5 0h0m6 0h0m6 0h0m4 0h0m7 0h0m3 0h0m4 0h0m-63 1h0m14 0h0m12 0h2m5 0h2m7 0h0m4 0h0m8 0h0m21 0h0m-40 2h0m3 0h0m6 0h1m8 0h0m4 0h0m5 0h0m-63 1h0m21 0h0m7 0h1m14 0h0m6 0h0m8 0h3m9 0h0m10 0h0m-58 1h0m7 0h3m6 0h1m4 0h3m3 0h0m8 0h0m5 0h0m5 0h0m5 0h0m-58 1h0m22 0h0m5 0h3m9 0h3m-29 1h3m5 0h0m9 0h2m7 0h0m5 0h0m3 0h0m3 0h0m-41 1h0m4 0h0m5 0h0m4 0h3m3 0h0m4 0h0m5 0h6m4 0h0m-34 1h0m8 0h7m7 0h0m6 0h4m4 0h1m3 0h0m-39 1h0m3 0h0m3 0h10m4 0h0m4 0h0m5 0h2m14 0h0m-60 1h0m12 0h2m5 0h0m3 0h1m3 0h2m3 0h0m3 0h1m4 0h4m6 0h0m-37 1h2m4 0h0m5 0h5m3 0h0m6 0h2m6 0h0m7 0h0m10 0h0m-52 1h0m3 0h0m5 0h4m3 0h3m4 0h0m4 0h0m4 0h0m3 0h0m3 0h0m8 0h0m-48 1h0m6 0h5m3 0h0m4 0h6m5 0h0m5 0h2m3 0h0m7 0h0m3 0h0m9 0h0m-52 1h0m4 0h9m4 0h4m11 0h0m5 0h3m19 0h0m-63 1h1m3 0h0m6 0h0m3 0h14m4 0h0m6 0h8m8 0h0m-49 1h0m4 0h19m4 0h6m3 0h0m-38 1h22m3 0h0m3 0h6m4 0h0m5 0h1m-47 1h1m4 0h19m3 0h6m5 0h0m3 0h3m4 0h0m-45 1h19m3 0h0m3 0h7m3 0h0m3 0h0m-41 1h1m4 0h21m13 0h0m3 0h4m-48 1h0m3 0h1m3 0h21m11 0h0m23 0h0m-60 1h5m3 0h7m4 0h5m6 0h0m3 0h2m4 0h4m-47 1h0m3 0h24m4 0h0m5 0h1m8 0h0m-43 1h4m3 0h12m3 0h4m3 0h0m4 0h2m4 0h0m7 0h0m16 0h0m-62 1h0m4 0h24m3 0h2m6 0h6m4 0h0m-50 1h0m3 0h1m3 0h7m3 0h8m3 0h4m4 0h1m3 0h0m8 0h0m-55 1h0m8 0h0m5 0h0m4 0h6m3 0h11m3 0h0m3 0h1m3 0h0m6 0h0m-47 1h0m4 0h0m3 0h17m3 0h7m4 0h0m11 0h1m-52 1h0m9 0h17m13 0h1m5 0h0m5 0h1m15 0h0m-72 1h0m7 0h8m4 0h6m3 0h2m3 0h0m7 0h0m6 0h0m5 0h0m4 0h0m7 0h0m-53 1h21m10 0h2m9 0h1m6 0h0m-58 1h0m10 0h18m4 0h3m4 0h1m7 0h0m4 0h2m7 0h0m-53 1h1m5 0h0m3 0h21m5 0h0m3 0h1m3 0h0m3 0h0m7 0h0m9 0h0m-56 1h0m5 0h9m3 0h0m3 0h0m4 0h2m10 0h0m5 0h2m5 0h1m-51 1h0m3 0h12m3 0h0m3 0h2m7 0h0m3 0h0m8 0h0m3 0h0m4 0h0m15 0h0m-72 1h0m5 0h0m6 0h3m3 0h2m3 0h8m4 0h0m6 0h1m3 0h1m8 0h3m6 0h2m-57 1h5m3 0h7m5 0h5m5 0h0m3 0h0m5 0h0m3 0h1m3 0h1m-48 1h0m6 0h2m3 0h2m3 0h8m4 0h0m3 0h3m3 0h0m4 0h0m4 0h3m6 0h0m-60 1h0m8 0h0m4 0h4m3 0h3m18 0h0m8 0h3m-48 1h0m4 0h4m3 0h4m4 0h2m3 0h0m24 0h4m-51 1h12m7 0h6m6 0h0m3 0h0m7 0h0m7 0h0m8 0h2m5 0h0m-67 1h13m7 0h1m3 0h1m10 0h0m9 0h0m7 0h0m6 0h0m3 0h0m3 0h0m-62 1h0m4 0h10m6 0h0m13 0h0m4 0h0m13 0h0m8 0h0m6 0h0m-69 1h1m3 0h9m4 0h1m6 0h0m16 0h0m5 0h0m6 0h1m10 0h1m-60 1h12m3 0h1m4 0h0m10 0h0m19 0h0m4 0h2m4 0h0m-66 1h0m4 0h2m3 0h5m3 0h0m14 0h0m14 0h1m3 0h0m3 0h1m8 0h0m-59 1h0m3 0h10m3 0h0m37 0h0m14 0h0m7 0h0m-82 1h0m7 0h12m6 0h0m5 0h0m28 0h0m4 0h0m9 0h0m-62 1h2m3 0h2m8 0h0m24 0h0m-46 1h0m8 0h3m3 0h1m38 0h0m4 0h0m7 0h0m10 0h0m7 0h0m-76 1h0m11 0h0m8 0h0m35 0h1m-57 1h0m4 0h0m3 0h0m7 0h0m30 0h2m8 0h0m10 0h0m-65 1h3m3 0h1m3 0h0m3 0h0m17 0h0m19 0h0m7 0h0m4 0h3m7 0h0m-39 1h0m22 0h0m8 0h0m-59 1h0m53 0h0m3 0h1m-61 1h0m47 0h0m6 0h0m9 0h0m8 0h0m6 0h0m-10 1h0m-22 1h0m9 0h0m-58 1h0m58 0h2m8 0h0m11 0h0m-14 1h1m10 1h0m-7 1h0m-26 2h2m5 0h0m6 0h1m3 0h3m3 0h1m4 0h5m4 0h19m5 0h0"/>
<path d="M787 652h0m-47 2h0m31 2h0m-30 1h0m-15 2h0m0 2h0m31 0h0m-31 1h0m24 2h0m16 1h0m-25 1h0m54 0h0m-69 1h0m91 0h0m-58 2h0m3 0h0m-36 1h0m20 0h0m17 1h0m-37 1h0m15 0h2m-17 1h0m22 0h0m27 0h0m-49 1h0m45 0h0m25 0h0m5 0h0m-38 1h0m36 0h0m-73 1h0m8 0h0m-8 1h0m79 0h0m-79 1h0m24 0h0m4 0h2m5 0h0m3 0h0m8 0h0m26 0h0m16 0h0m-88 1h0m26 0h0m6 0h0m10 0h0m20 0h0m4 0h0m25 0h0m-66 1h0m11 0h0m5 0h0m4 0h0m5 0h0m16 0h0m23 0h0m-78 1h0m63 0h0m-67 1h0m19 0h0m7 0h0m6 0h0m20 0h1m10 0h0m3 0h0m3 0h0m24 0h0m-100 1h0m10 0h0m21 0h0m3 0h0m12 0h0m32 0h0m-51 1h0m9 0h0m6 0h0m-42 1h0m32 0h0m30 0h0m5 0h0m10 0h0m-47 1h0m14 0h0m5 0h0m22 0h0m-71 1h0m17 0h0m7 0h0m10 0h0m10 0h2m3 0h0m15 0h0m3 0h0m-67 1h2m19 0h0m3 0h2m14 0h0m6 0h0m10 0h0m20 0h1m10 0h0m-53 1h0m12 0h0m15 0h0m18 0h0m-49 1h0m4 0h3m31 0h0m20 0h0m-78 1h0m14 0h0m8 0h4m8 0h0m23 0h0m-54 1h0m14 0h0m30 0h0m6 0h0m12 0h0m-75 1h0m16 0h0m3 0h0m8 0h2m8 0h0m16 0h0m12 0h0m-46 1h0m7 0h2m14 0h0m30 0h2m-65 1h0m13 0h1m10 0h2m3 0h0m8 0h0m4 0h0m6 0h2m14 0h0m-50 1h0m3 0h0m6 0h2m29 0h0m-58 1h0m21 0h0m3 0h0m7 0h0m5 0h0m3 0h0m28 0h0m18 0h0m-73 1h0m3 0h0m6 0h0m12 0h0m4 0h0m16 0h0m24 0h0m-58 1h2m9 0h0m25 0h0m13 0h0m5 0h0m10 0h0m-87 1h0m3 0h0m13 0h1m9 0h0m7 0h2m5 0h0m4 0h0m36 0h0m-62 1h0m3 0h0m5 0h0m5 0h0m29 0h0m13 0h0m18 0h0m-91 1h0m22 0h0m6 0h0m5 0h0m5 0h2m6 0h0m12 0h0m25 0h0m9 0h0m-74 1h0m9 0h4m4 0h0m5 0h0m3 0h3m26 0h0m5 0h0m-60 1h1m6 0h0m10 0h1m5 0h0m3 0h0m19 0h0m4 0h0m8 0h0m24 0h0m-87 1h0m11 0h3m10 0h0m7 0h0m21 0h0m8 0h0m4 0h0m6 0h0m6 0h0m3 0h0m3 0h0m5 0h0m-81 1h0m26 0h2m23 0h0m10 0h0m-56 1h0m6 0h2m11 0h2m10 0h0m13 0h0m-44 1h0m5 0h0m3 0h2m6 0h0m9 0h0m24 0h0m6 0h0m-58 1h2m3 0h0m4 0h4m13 0h0m12 0h0m6 0h0m6 0h0m3 0h0m-62 1h0m12 0h0m23 0h0m6 0h0m3 0h0m5 0h0m10 0h0m5 0h0m6 0h0m-48 1h0m6 0h0m7 0h0m3 0h0m8 0h0m12 0h0m9 0h0m-55 1h0m9 0h1m11 0h0m5 0h2m26 0h2m10 0h0m-62 1h3m16 0h0m15 0h0m4 0h0m5 0h0m-50 1h0m7 0h0m3 0h0m3 0h0m3 0h0m4 0h0m4 0h0m6 0h0m7 0h0m9 0h0m7 0h0m-47 1h2m3 0h2m9 0h0m32 0h1m16 0h0m-76 1h0m35 0h0m4 0h0m46 0h0m-99 1h0m35 0h1m13 0h0m24 0h0m7 0h0m32 0h0m-100 1h0m27 0h1m9 0h0m10 0h0m7 0h0m15 0h0m-59 1h1m9 0h0m3 0h0m12 0h0m9 0h0m4 0h0m-28 1h0m4 0h1m8 0h2m5 0h0m4 0h0m5 0h0m-35 1h2m11 0h1m13 0h0m4 0h0m13 0h0m10 0h2m-48 1h3m9 0h2m24 0h0m-43 1h0m8 0h0m7 0h0m7 0h4m4 0h0m16 0h0m15 0h0m-65 1h0m13 0h0m12 0h0m3 0h0m6 0h0m-38 1h2m3 0h0m6 0h0m7 0h0m12 0h1m5 0h1m-41 1h0m7 0h0m15 0h1m12 0h0m4 0h3m5 0h0m7 0h0m4 0h0m-41 1h0m4 0h0m3 0h2m3 0h0m-8 1h0m9 0h0m14 0h1m5 0h0m13 0h0m-51 1h0m10 0h0m4 0h0m9 0h2m6 0h0m-37 1h0m5 0h0m10 0h1m14 0h2m21 0h0m-54 1h1m16 0h0m4 0h2m14 0h0m-25 1h0m4 0h0m5 0h0m5 0h0m6 0h0m6 0h0m4 0h0m7 0h0m3 0h0m4 0h0m-63 1h0m14 0h0m12 0h2m5 0h2m7 0h0m4 0h0m8 0h0m21 0h0m-40 2h0m3 0h0m6 0h1m8 0h0m4 0h0m5 0h0m-63 1h0m21 0h0m7 0h1m14 0h0m6 0h0m8 0h3m9 0h0m10 0h0m-58 1h0m7 0h3m6 0h1m4 0h3m3 0h0m8 0h0m5 0h0m5 0h0m5 0h0m-58 1h0m22 0h0m5 0h3m9 0h3m-29 1h3m5 0h0m9 0h2m7 0h0m5 0h0m3 0h0m3 0h0m-41 1h0m4 0h0m5 0h0m4 0h3m3 0h0m4 0h0m5 0h6m4 0h0m-34 1h0m8 0h7m7 0h0m6 0h4m4 0h1m3 0h0m-39 1h0m3 0h0m3 0h10m4 0h0m4 0h0m5 0h2m14 0h0m-60 1h0m12 0h2m5 0h0m3 0h1m3 0h2m3 0h0m3 0h1m4 0h4m6 0h0m-37 1h2m4 0h0m5 0h5m3 0h0m6 0h2m6 0h0m7 0h0m10 0h0m-52 1h0m3 0h0m5 0h4m3 0h3m4 0h0m4 0h0m4 0h0m3 0h0m3 0h0m8 0h0m-48 1h0m6 0h5m3 0h0m4 0h6m5 0h0m5 0h2m3 0h0m7 0h0m3 0h0m9 0h0m-52 1h0m4 0h9m4 0h4m11 0h0m5 0h3m19 0h0m-63 1h1m3 0h0m6 0h0m3 0h14m4 0h0m6 0h8m8 0h0m-49 1h0m4 0h19m4 0h6m3 0h0m-38 1h22m3 0h0m3 0h6m4 0h0m5 0h1m-47 1h1m4 0h19m3 0h6m5 0h0m3 0h3m4 0h0m-45 1h19m3 0h0m3 0h7m3 0h0m3 0h0m-41 1h1m4 0h21m13 0h0m3 0h4m-48 1h0m3 0h1m3 0h21m11 0h0m23 0h0m-60 1h5m3 0h7m4 0h5m6 0h0m3 0h2m4 0h4m-47 1h0m3 0h24m4 0h0m5 0h1m8 0h0m-43 1h4m3 0h12m3 0h4m3 0h0m4 0h2m4 0h0m7 0h0m16 0h0m-62 1h0m4 0h24m3 0h2m6 0h6m4 0h0m-50 1h0m3 0h1m3 0h7m3 0h8m3 0h4m4 0h1m3 0h0m8 0h0m-55 1h0m8 0h0m5 0h0m4 0h6m3 0h11m3 0h0m3 0h1m3 0h0m6 0h0m-47 1h0m4 0h0m3 0h17m3 0h7m4 0h0m11 0h1m-52 1h0m9 0h17m13 0h1m5 0h0m5 0h1m15 0h0m-72 1h0m7 0h8m4 0h6m3 0h2m3 0h0m7 0h0m6 0h0m5 0h0m4 0h0m7 0h0m-53 1h21m10 0h2m9 0h1m6 0h0m-58 1h0m10 0h18m4 0h3m4 0h1m7 0h0m4 0h2m7 0h0m-53 1h1m5 0h0m3 0h21m5 0h0m3 0h1m3 0h0m3 0h0m7 0h0m9 0h0m-56 1h0m5 0h9m3 0h0m3 0h0m4 0h2m10 0h0m5 0h2m5 0h1m-51 1h0m3 0h12m3 0h0m3 0h2m7 0h0m3 0h0m8 0h0m3 0h0m4 0h0m15 0h0m-72 1h0m5 0h0m6 0h3m3 0h2m3 0h8m4 0h0m6 0h1m3 0h1m8 0h3m6 0h2m-57 1h5m3 0h7m5 0h5m5 0h0m3 0h0m5 0h0m3 0h1m3 0h1m-48 1h0m6 0h2m3 0h2m3 0h8m4 0h0m3 0h3m3 0h0m4 0h0m4 0h3m6 0h0m-60 1h0m8 0h0m4 0h4m3 0h3m18 0h0m8 0h3m-48 1h0m4 0h4m3 0h4m4 0h2m3 0h0m24 0h4m-51 1h12m7 0h6m6 0h0m3 0h0m7 0h0m7 0h0m8 0h2m5 0h0m-67 1h13m7 0h1m3 0h1m10 0h0m9 0h0m7 0h0m6 0h0m3 0h0m3 0h0m-62 1h0m4 0h10m6 0h0m13 0h0m4 0h0m13 0h0m8 0h0m6 0h0m-69 1h1m3 0h9m4 0h1m6 0h0m16 0h0m5 0h0m6 0h1m10 0h1m-60 1h12m3 0h1m4 0h0m10 0h0m19 0h0m4 0h2m4 0h0m-66 1h0m4 0h2m3 0h5m3 0h0m14 0h0m14 0h1m3 0h0m3 0h1m8 0h0m-59 1h0m3 0h10m3 0h0m37 0h0m14 0h0m7 0h0m-82 1h0m7 0h12m6 0h0m5 0h0m28 0h0m4 0h0m9 0h0m-62 1h2m3 0h2m8 0h0m24 0h0m-46 1h0m8 0h3m3 0h1m38 0h0m4 0h0m7 0h0m10 0h0m7 0h0m-76 1h0m11 0h0m8 0h0m35 0h1m-57 1h0m4 0h0m3 0h0m7 0h0m30 0h2m8 0h0m10 0h0m-65 1h3m3 0h1m3 0h0m3 0h0m17 0h0m19 0h0m7 0h0m4 0h3m7 0h0m-39 1h0m22 0h0m8 0h0m-59 1h0m53 0h0m3 0h1m-61 1h0m47 0h0m6 0h0m9 0h0m8 0h0m6 0h0m-10 1h0m-22 1h0m9 0h0m-58 1h0m58 0h2m8 0h0m11 0h0m-14 1h1m10 1h0m-7 1h0m-26 2h2m5 0h0m6 0h1m3 0h3m3 0h1m4 0h5m4 0h19m5 0h0"/></g>
<g fill="none" stroke="#0a0a0a" stroke-width="1.6">
<rect x="60" y="11.5" width="98.6" height="81.4"/>
<path d="M86.8 11.5V94.4M60 55.6H158.6"/>
<rect x="214.6" y="12.3" width="97.1" height="81.2"/>
<path d="M240.4 12.3V93.5M214.6 49.4H311.7"/>
<rect x="362.3" y="12.5" width="96.3" height="82.4"/>
<path d="M392.8 12.5V96.4M362.3 66.2H458.6"/>
<rect x="60.4" y="114.9" width="98.2" height="80.9"/>
<path d="M87.0 114.9V197.3M60.4 157.7H158.6"/>
<rect x="214.0" y="114.9" width="97.7" height="81.0"/>
<path d="M240.3 114.9V195.9M214.0 150.3H311.7"/>
<rect x="362.6" y="114.9" width="96.0" height="80.9"/>
<path d="M392.6 114.9V197.3M362.6 166.1H458.6"/>
<rect x="62.3" y="216.8" width="97.3" height="80.5"/>
<path d="M89.0 216.8V298.8M62.3 259.1H159.6"/>
<rect x="213.9" y="216.0" width="97.8" height="80.8"/>
<path d="M240.3 216.0V296.8M213.9 251.8H311.7"/>
<rect x="362.2" y="216.9" width="96.4" height="80.3"/>
<path d="M391.6 216.9V298.7M362.2 267.1H458.6"/>
<rect x="61.0" y="318.9" width="97.7" height="80.8"/>
<path d="M87.2 318.9V401.2M61.0 361.5H158.7"/>
<rect x="214.6" y="318.6" width="97.4" height="80.7"/>
<path d="M240.3 318.6V399.3M214.6 353.7H312"/>
<rect x="362.1" y="319.0" width="96.4" height="80.7"/>
<path d="M391.5 319.0V401.2M362.1 369.3H458.5"/>
</g>
<g fill="none" stroke="#0a0a0a" stroke-width="1.5">
<path d="M140.6 13.5V43.2M125.9 28.8H156.5"/>
<path d="M293.8 13.5V44M280 29.3H310"/>
<path d="M438.2 14.5V45M424 30.3H454.5"/>
<path d="M140.3 116.5V146.5M125.9 131.6H156"/>
<path d="M294.0 116.9V146.5M280 131.6H310"/>
<path d="M438.6 116.5V146.5M424.4 131.1H454.4"/>
<path d="M142.8 218.9V248M128 233.3H158.5"/>
<path d="M293.8 218.5V248.5M280 234.3H310"/>
<path d="M439.2 219.5V249M424.4 235.0H454.4"/>
<path d="M140.4 320.4V350.7M125.9 335.2H156.5"/>
<path d="M294.3 321V350.7M280 335.2H310.6"/>
<path d="M441.2 321V351.5M427 336.1H457"/>
</g>
<g font-family="'Liberation Serif', 'DejaVu Serif', serif" font-size="15" fill="#0a0a0a" text-anchor="middle">
<text transform="translate(130.8 24.2) scale(0.87 1)">24</text>
<text transform="translate(150.5 24.2) scale(0.87 1)">7</text>
<text transform="translate(130.2 42.2) scale(0.87 1)">44</text>
<text transform="translate(149.8 42.2) scale(0.87 1)">25</text>
<text transform="translate(286.1 25.4) scale(0.87 1)">31</text>
<text transform="translate(303.9 25.4) scale(0.87 1)">10</text>
<text transform="translate(285.1 42.2) scale(0.87 1)">37</text>
<text transform="translate(303.2 42.2) scale(0.87 1)">22</text>
<text transform="translate(430.9 26.4) scale(0.87 1)">2</text>
<text transform="translate(446.3 26.4) scale(0.87 1)">0</text>
<text transform="translate(428.7 43.2) scale(0.87 1)">73</text>
<text transform="translate(447.2 43.2) scale(0.87 1)">21</text>
<text transform="translate(131.8 128.4) scale(0.87 1)">36</text>
<text transform="translate(149.3 128.4) scale(0.87 1)">7</text>
<text transform="translate(130.1 145.2) scale(0.87 1)">33</text>
<text transform="translate(148.4 145.2) scale(0.87 1)">24</text>
<text transform="translate(285.9 128.9) scale(0.87 1)">48</text>
<text transform="translate(303.6 128.9) scale(0.87 1)">14</text>
<text transform="translate(285.4 145.2) scale(0.87 1)">21</text>
<text transform="translate(303.4 145.2) scale(0.87 1)">17</text>
<text transform="translate(430.1 127.1) scale(0.87 1)">11</text>
<text transform="translate(449.6 127.1) scale(0.87 1)">2</text>
<text transform="translate(430.9 144.7) scale(0.87 1)">67</text>
<text transform="translate(448.9 144.7) scale(0.87 1)">18</text>
<text transform="translate(134.9 229.9) scale(0.87 1)">59</text>
<text transform="translate(150.8 229.9) scale(0.87 1)">1</text>
<text transform="translate(134.2 246.3) scale(0.87 1)">40</text>
<text transform="translate(151.0 246.3) scale(0.87 1)">0</text>
<text transform="translate(286.1 230.4) scale(0.87 1)">52</text>
<text transform="translate(303.9 230.4) scale(0.87 1)">0</text>
<text transform="translate(285.9 245.8) scale(0.87 1)">48</text>
<text transform="translate(304.1 245.8) scale(0.87 1)">0</text>
<text transform="translate(431.8 230.9) scale(0.87 1)">12</text>
<text transform="translate(447.9 230.9) scale(0.87 1)">0</text>
<text transform="translate(430.6 247.2) scale(0.87 1)">88</text>
<text transform="translate(446.7 247.2) scale(0.87 1)">0</text>
<text transform="translate(132.0 330.9) scale(0.87 1)">35</text>
<text transform="translate(149.8 332.4) scale(0.87 1)">20</text>
<text transform="translate(131.8 347.3) scale(0.87 1)">36</text>
<text transform="translate(149.1 347.3) scale(0.87 1)">12</text>
<text transform="translate(284.7 331.4) scale(0.87 1)">36</text>
<text transform="translate(303.6 331.9) scale(0.87 1)">22</text>
<text transform="translate(284.9 348.7) scale(0.87 1)">32</text>
<text transform="translate(303.4 348.7) scale(0.87 1)">10</text>
<text transform="translate(433.0 332.9) scale(0.87 1)">11</text>
<text transform="translate(449.6 332.9) scale(0.87 1)">6</text>
<text transform="translate(433.0 349.2) scale(0.87 1)">63</text>
<text transform="translate(449.9 349.7) scale(0.87 1)">15</text>
</g>
<g font-family="'Liberation Serif', 'DejaVu Serif', serif" font-size="10" fill="#111" stroke="#111" stroke-width="0.15">
<text transform="translate(59.0 108.0) scale(0.96 1)">10<tspan font-size="6.5" dy="-4.2">0</tspan></text>
<text transform="translate(80.8 108.0) scale(0.96 1)">10<tspan font-size="6.5" dy="-4.2">1</tspan></text>
<text transform="translate(102.7 108.0) scale(0.96 1)">10<tspan font-size="6.5" dy="-4.2">2</tspan></text>
<text transform="translate(127.5 108.0) scale(0.96 1)">10<tspan font-size="6.5" dy="-4.2">3</tspan></text>
<text transform="translate(150.2 108.0) scale(0.96 1)">10<tspan font-size="6.5" dy="-4.2">4</tspan></text>
<text transform="translate(56.2 92.1) rotate(-90) scale(0.96 1)">10<tspan font-size="6.5" dy="-4.2">0</tspan></text>
<text transform="translate(56.2 72.7) rotate(-90) scale(0.96 1)">10<tspan font-size="6.5" dy="-4.2">1</tspan></text>
<text transform="translate(56.2 52.1) rotate(-90) scale(0.96 1)">10<tspan font-size="6.5" dy="-4.2">2</tspan></text>
<text transform="translate(56.2 30.4) rotate(-90) scale(0.96 1)">10<tspan font-size="6.5" dy="-4.2">3</tspan></text>
<text transform="translate(56.2 12.6) rotate(-90) scale(0.96 1)">10<tspan font-size="6.5" dy="-4.2">4</tspan></text>
<text transform="translate(214.0 107.8) scale(0.96 1)">10<tspan font-size="6.5" dy="-4.2">0</tspan></text>
<text transform="translate(235.8 107.8) scale(0.96 1)">10<tspan font-size="6.5" dy="-4.2">1</tspan></text>
<text transform="translate(257.7 107.8) scale(0.96 1)">10<tspan font-size="6.5" dy="-4.2">2</tspan></text>
<text transform="translate(282.5 107.8) scale(0.96 1)">10<tspan font-size="6.5" dy="-4.2">3</tspan></text>
<text transform="translate(305.2 107.8) scale(0.96 1)">10<tspan font-size="6.5" dy="-4.2">4</tspan></text>
<text transform="translate(208.6 92.5) rotate(-90) scale(0.96 1)">10<tspan font-size="6.5" dy="-4.2">0</tspan></text>
<text transform="translate(208.6 73.1) rotate(-90) scale(0.96 1)">10<tspan font-size="6.5" dy="-4.2">1</tspan></text>
<text transform="translate(208.6 52.5) rotate(-90) scale(0.96 1)">10<tspan font-size="6.5" dy="-4.2">2</tspan></text>
<text transform="translate(208.6 30.8) rotate(-90) scale(0.96 1)">10<tspan font-size="6.5" dy="-4.2">3</tspan></text>
<text transform="translate(208.6 13.0) rotate(-90) scale(0.96 1)">10<tspan font-size="6.5" dy="-4.2">4</tspan></text>
<text transform="translate(360.2 107.0) scale(0.96 1)">10<tspan font-size="6.5" dy="-4.2">0</tspan></text>
<text transform="translate(382.0 107.0) scale(0.96 1)">10<tspan font-size="6.5" dy="-4.2">1</tspan></text>
<text transform="translate(403.9 107.0) scale(0.96 1)">10<tspan font-size="6.5" dy="-4.2">2</tspan></text>
<text transform="translate(428.7 107.0) scale(0.96 1)">10<tspan font-size="6.5" dy="-4.2">3</tspan></text>
<text transform="translate(451.4 107.0) scale(0.96 1)">10<tspan font-size="6.5" dy="-4.2">4</tspan></text>
<text transform="translate(358.0 94.6) rotate(-90) scale(0.96 1)">10<tspan font-size="6.5" dy="-4.2">0</tspan></text>
<text transform="translate(358.0 75.2) rotate(-90) scale(0.96 1)">10<tspan font-size="6.5" dy="-4.2">1</tspan></text>
<text transform="translate(358.0 54.6) rotate(-90) scale(0.96 1)">10<tspan font-size="6.5" dy="-4.2">2</tspan></text>
<text transform="translate(358.0 32.9) rotate(-90) scale(0.96 1)">10<tspan font-size="6.5" dy="-4.2">3</tspan></text>
<text transform="translate(358.0 15.1) rotate(-90) scale(0.96 1)">10<tspan font-size="6.5" dy="-4.2">4</tspan></text>
<text transform="translate(59.0 209.6) scale(0.96 1)">10<tspan font-size="6.5" dy="-4.2">0</tspan></text>
<text transform="translate(80.8 209.6) scale(0.96 1)">10<tspan font-size="6.5" dy="-4.2">1</tspan></text>
<text transform="translate(102.7 209.6) scale(0.96 1)">10<tspan font-size="6.5" dy="-4.2">2</tspan></text>
<text transform="translate(127.5 209.6) scale(0.96 1)">10<tspan font-size="6.5" dy="-4.2">3</tspan></text>
<text transform="translate(150.2 209.6) scale(0.96 1)">10<tspan font-size="6.5" dy="-4.2">4</tspan></text>
<text transform="translate(56.2 196.4) rotate(-90) scale(0.96 1)">10<tspan font-size="6.5" dy="-4.2">0</tspan></text>
<text transform="translate(56.2 177.0) rotate(-90) scale(0.96 1)">10<tspan font-size="6.5" dy="-4.2">1</tspan></text>
<text transform="translate(56.2 156.4) rotate(-90) scale(0.96 1)">10<tspan font-size="6.5" dy="-4.2">2</tspan></text>
<text transform="translate(56.2 134.7) rotate(-90) scale(0.96 1)">10<tspan font-size="6.5" dy="-4.2">3</tspan></text>
<text transform="translate(56.2 116.9) rotate(-90) scale(0.96 1)">10<tspan font-size="6.5" dy="-4.2">4</tspan></text>
<text transform="translate(214.0 209.6) scale(0.96 1)">10<tspan font-size="6.5" dy="-4.2">0</tspan></text>
<text transform="translate(235.8 209.6) scale(0.96 1)">10<tspan font-size="6.5" dy="-4.2">1</tspan></text>
<text transform="translate(257.7 209.6) scale(0.96 1)">10<tspan font-size="6.5" dy="-4.2">2</tspan></text>
<text transform="translate(282.5 209.6) scale(0.96 1)">10<tspan font-size="6.5" dy="-4.2">3</tspan></text>
<text transform="translate(305.2 209.6) scale(0.96 1)">10<tspan font-size="6.5" dy="-4.2">4</tspan></text>
<text transform="translate(208.6 196.3) rotate(-90) scale(0.96 1)">10<tspan font-size="6.5" dy="-4.2">0</tspan></text>
<text transform="translate(208.6 176.9) rotate(-90) scale(0.96 1)">10<tspan font-size="6.5" dy="-4.2">1</tspan></text>
<text transform="translate(208.6 156.3) rotate(-90) scale(0.96 1)">10<tspan font-size="6.5" dy="-4.2">2</tspan></text>
<text transform="translate(208.6 134.6) rotate(-90) scale(0.96 1)">10<tspan font-size="6.5" dy="-4.2">3</tspan></text>
<text transform="translate(208.6 116.8) rotate(-90) scale(0.96 1)">10<tspan font-size="6.5" dy="-4.2">4</tspan></text>
<text transform="translate(360.2 209.6) scale(0.96 1)">10<tspan font-size="6.5" dy="-4.2">0</tspan></text>
<text transform="translate(382.0 209.6) scale(0.96 1)">10<tspan font-size="6.5" dy="-4.2">1</tspan></text>
<text transform="translate(403.9 209.6) scale(0.96 1)">10<tspan font-size="6.5" dy="-4.2">2</tspan></text>
<text transform="translate(428.7 209.6) scale(0.96 1)">10<tspan font-size="6.5" dy="-4.2">3</tspan></text>
<text transform="translate(451.4 209.6) scale(0.96 1)">10<tspan font-size="6.5" dy="-4.2">4</tspan></text>
<text transform="translate(358.0 196.6) rotate(-90) scale(0.96 1)">10<tspan font-size="6.5" dy="-4.2">0</tspan></text>
<text transform="translate(358.0 177.2) rotate(-90) scale(0.96 1)">10<tspan font-size="6.5" dy="-4.2">1</tspan></text>
<text transform="translate(358.0 156.6) rotate(-90) scale(0.96 1)">10<tspan font-size="6.5" dy="-4.2">2</tspan></text>
<text transform="translate(358.0 134.9) rotate(-90) scale(0.96 1)">10<tspan font-size="6.5" dy="-4.2">3</tspan></text>
<text transform="translate(358.0 117.1) rotate(-90) scale(0.96 1)">10<tspan font-size="6.5" dy="-4.2">4</tspan></text>
<text transform="translate(59.0 311.0) scale(0.96 1)">10<tspan font-size="6.5" dy="-4.2">0</tspan></text>
<text transform="translate(80.8 311.0) scale(0.96 1)">10<tspan font-size="6.5" dy="-4.2">1</tspan></text>
<text transform="translate(102.7 311.0) scale(0.96 1)">10<tspan font-size="6.5" dy="-4.2">2</tspan></text>
<text transform="translate(127.5 311.0) scale(0.96 1)">10<tspan font-size="6.5" dy="-4.2">3</tspan></text>
<text transform="translate(150.2 311.0) scale(0.96 1)">10<tspan font-size="6.5" dy="-4.2">4</tspan></text>
<text transform="translate(56.2 297.3) rotate(-90) scale(0.96 1)">10<tspan font-size="6.5" dy="-4.2">0</tspan></text>
<text transform="translate(56.2 277.9) rotate(-90) scale(0.96 1)">10<tspan font-size="6.5" dy="-4.2">1</tspan></text>
<text transform="translate(56.2 257.3) rotate(-90) scale(0.96 1)">10<tspan font-size="6.5" dy="-4.2">2</tspan></text>
<text transform="translate(56.2 235.6) rotate(-90) scale(0.96 1)">10<tspan font-size="6.5" dy="-4.2">3</tspan></text>
<text transform="translate(56.2 217.8) rotate(-90) scale(0.96 1)">10<tspan font-size="6.5" dy="-4.2">4</tspan></text>
<text transform="translate(214.0 310.5) scale(0.96 1)">10<tspan font-size="6.5" dy="-4.2">0</tspan></text>
<text transform="translate(235.8 310.5) scale(0.96 1)">10<tspan font-size="6.5" dy="-4.2">1</tspan></text>
<text transform="translate(257.7 310.5) scale(0.96 1)">10<tspan font-size="6.5" dy="-4.2">2</tspan></text>
<text transform="translate(282.5 310.5) scale(0.96 1)">10<tspan font-size="6.5" dy="-4.2">3</tspan></text>
<text transform="translate(305.2 310.5) scale(0.96 1)">10<tspan font-size="6.5" dy="-4.2">4</tspan></text>
<text transform="translate(208.6 297.8) rotate(-90) scale(0.96 1)">10<tspan font-size="6.5" dy="-4.2">0</tspan></text>
<text transform="translate(208.6 278.4) rotate(-90) scale(0.96 1)">10<tspan font-size="6.5" dy="-4.2">1</tspan></text>
<text transform="translate(208.6 257.8) rotate(-90) scale(0.96 1)">10<tspan font-size="6.5" dy="-4.2">2</tspan></text>
<text transform="translate(208.6 236.1) rotate(-90) scale(0.96 1)">10<tspan font-size="6.5" dy="-4.2">3</tspan></text>
<text transform="translate(208.6 218.3) rotate(-90) scale(0.96 1)">10<tspan font-size="6.5" dy="-4.2">4</tspan></text>
<text transform="translate(360.2 311.0) scale(0.96 1)">10<tspan font-size="6.5" dy="-4.2">0</tspan></text>
<text transform="translate(382.0 311.0) scale(0.96 1)">10<tspan font-size="6.5" dy="-4.2">1</tspan></text>
<text transform="translate(403.9 311.0) scale(0.96 1)">10<tspan font-size="6.5" dy="-4.2">2</tspan></text>
<text transform="translate(428.7 311.0) scale(0.96 1)">10<tspan font-size="6.5" dy="-4.2">3</tspan></text>
<text transform="translate(451.4 311.0) scale(0.96 1)">10<tspan font-size="6.5" dy="-4.2">4</tspan></text>
<text transform="translate(358.0 297.5) rotate(-90) scale(0.96 1)">10<tspan font-size="6.5" dy="-4.2">0</tspan></text>
<text transform="translate(358.0 278.1) rotate(-90) scale(0.96 1)">10<tspan font-size="6.5" dy="-4.2">1</tspan></text>
<text transform="translate(358.0 257.5) rotate(-90) scale(0.96 1)">10<tspan font-size="6.5" dy="-4.2">2</tspan></text>
<text transform="translate(358.0 235.8) rotate(-90) scale(0.96 1)">10<tspan font-size="6.5" dy="-4.2">3</tspan></text>
<text transform="translate(358.0 218.0) rotate(-90) scale(0.96 1)">10<tspan font-size="6.5" dy="-4.2">4</tspan></text>
<text transform="translate(59.0 413.8) scale(0.96 1)">10<tspan font-size="6.5" dy="-4.2">0</tspan></text>
<text transform="translate(80.8 413.8) scale(0.96 1)">10<tspan font-size="6.5" dy="-4.2">1</tspan></text>
<text transform="translate(102.7 413.8) scale(0.96 1)">10<tspan font-size="6.5" dy="-4.2">2</tspan></text>
<text transform="translate(127.5 413.8) scale(0.96 1)">10<tspan font-size="6.5" dy="-4.2">3</tspan></text>
<text transform="translate(150.2 413.8) scale(0.96 1)">10<tspan font-size="6.5" dy="-4.2">4</tspan></text>
<text transform="translate(56.2 398.9) rotate(-90) scale(0.96 1)">10<tspan font-size="6.5" dy="-4.2">0</tspan></text>
<text transform="translate(56.2 379.5) rotate(-90) scale(0.96 1)">10<tspan font-size="6.5" dy="-4.2">1</tspan></text>
<text transform="translate(56.2 358.9) rotate(-90) scale(0.96 1)">10<tspan font-size="6.5" dy="-4.2">2</tspan></text>
<text transform="translate(56.2 337.2) rotate(-90) scale(0.96 1)">10<tspan font-size="6.5" dy="-4.2">3</tspan></text>
<text transform="translate(56.2 319.4) rotate(-90) scale(0.96 1)">10<tspan font-size="6.5" dy="-4.2">4</tspan></text>
<text transform="translate(214.0 413.8) scale(0.96 1)">10<tspan font-size="6.5" dy="-4.2">0</tspan></text>
<text transform="translate(235.8 413.8) scale(0.96 1)">10<tspan font-size="6.5" dy="-4.2">1</tspan></text>
<text transform="translate(257.7 413.8) scale(0.96 1)">10<tspan font-size="6.5" dy="-4.2">2</tspan></text>
<text transform="translate(282.5 413.8) scale(0.96 1)">10<tspan font-size="6.5" dy="-4.2">3</tspan></text>
<text transform="translate(305.2 413.8) scale(0.96 1)">10<tspan font-size="6.5" dy="-4.2">4</tspan></text>
<text transform="translate(208.6 399.1) rotate(-90) scale(0.96 1)">10<tspan font-size="6.5" dy="-4.2">0</tspan></text>
<text transform="translate(208.6 379.7) rotate(-90) scale(0.96 1)">10<tspan font-size="6.5" dy="-4.2">1</tspan></text>
<text transform="translate(208.6 359.1) rotate(-90) scale(0.96 1)">10<tspan font-size="6.5" dy="-4.2">2</tspan></text>
<text transform="translate(208.6 337.4) rotate(-90) scale(0.96 1)">10<tspan font-size="6.5" dy="-4.2">3</tspan></text>
<text transform="translate(208.6 319.6) rotate(-90) scale(0.96 1)">10<tspan font-size="6.5" dy="-4.2">4</tspan></text>
<text transform="translate(360.2 413.8) scale(0.96 1)">10<tspan font-size="6.5" dy="-4.2">0</tspan></text>
<text transform="translate(382.0 413.8) scale(0.96 1)">10<tspan font-size="6.5" dy="-4.2">1</tspan></text>
<text transform="translate(403.9 413.8) scale(0.96 1)">10<tspan font-size="6.5" dy="-4.2">2</tspan></text>
<text transform="translate(428.7 413.8) scale(0.96 1)">10<tspan font-size="6.5" dy="-4.2">3</tspan></text>
<text transform="translate(451.4 413.8) scale(0.96 1)">10<tspan font-size="6.5" dy="-4.2">4</tspan></text>
<text transform="translate(358.0 399.3) rotate(-90) scale(0.96 1)">10<tspan font-size="6.5" dy="-4.2">0</tspan></text>
<text transform="translate(358.0 379.9) rotate(-90) scale(0.96 1)">10<tspan font-size="6.5" dy="-4.2">1</tspan></text>
<text transform="translate(358.0 359.3) rotate(-90) scale(0.96 1)">10<tspan font-size="6.5" dy="-4.2">2</tspan></text>
<text transform="translate(358.0 337.6) rotate(-90) scale(0.96 1)">10<tspan font-size="6.5" dy="-4.2">3</tspan></text>
<text transform="translate(358.0 319.8) rotate(-90) scale(0.96 1)">10<tspan font-size="6.5" dy="-4.2">4</tspan></text>
</g>
<g stroke="#0a0a0a" stroke-width="1.6" fill="#0a0a0a">
<path d="M31.1 18V182.5M31.1 252.5V400.5"/>
<path stroke="none" d="M31.1 8.8L36.5 19.2H25.700000000000003Z"/>
<path d="M186.1 18V178M186.1 252.5V400.3"/>
<path stroke="none" d="M186.1 8.8L191.5 19.2H180.7Z"/>
<path d="M336.6 18V177.7M336.6 251.5V401.5"/>
<path stroke="none" d="M336.6 8.8L342.0 19.2H331.20000000000005Z"/>
<path d="M49 422.2H453"/><path stroke="none" d="M462.3 422.3L452.0 417.2V427.5Z"/>
</g>
<g font-family="'Liberation Serif', 'DejaVu Serif', serif" fill="#111">
<text transform="translate(35.8 226.3) rotate(-90)" font-size="16.7">I-A<tspan font-size="11" dy="-4.6">K</tspan></text>
<text transform="translate(191.7 232.3) rotate(-90)" font-size="17.6">CD86</text>
<text transform="translate(341.9 225.6) rotate(-90)" font-size="16.7" textLength="31" lengthAdjust="spacingAndGlyphs">IL12</text>
</g>
<g font-family="'Liberation Sans', 'DejaVu Sans', sans-serif" font-weight="bold" font-size="26" fill="#000">
<text x="0.6" y="19.6">A</text>
<text x="-0.5" y="123.6">B</text>
<text x="0.0" y="224.8">C</text>
<text x="-0.4" y="326.1">D</text>
<text x="-0.8" y="493.6">E</text>
<text x="272.0" y="494">F</text>
</g>
<g font-family="'Liberation Serif', 'DejaVu Serif', serif" font-weight="bold" font-size="16.9" fill="#0a0a0a" stroke="#0a0a0a" stroke-width="0.25">
<rect x="475.3" y="41.800000000000004" width="5.8" height="7.6" fill="#b2b2b2" stroke="none"/><rect x="475.3" y="41.800000000000004" width="5.8" height="1.5" fill="#6a6a6a" stroke="none"/><text x="475.9" y="49.0" font-size="10.5" fill="#8a8a8a" stroke="none">r</text><text x="482.9" y="49.2">VV</text>
<rect x="475.3" y="144.79999999999998" width="5.8" height="7.6" fill="#b2b2b2" stroke="none"/><rect x="475.3" y="144.79999999999998" width="5.8" height="1.5" fill="#6a6a6a" stroke="none"/><text x="475.9" y="152.0" font-size="10.5" fill="#8a8a8a" stroke="none">r</text><text x="482.9" y="152.2">VV <tspan stroke-width="0.9">+</tspan></text>
<text x="475.4" y="173">LPS</text>
<text x="475.4" y="262.4">LPS</text>
<text x="475.4" y="361.9">LPS <tspan stroke-width="0.9">+</tspan></text>
<rect x="475.3" y="374.90000000000003" width="5.8" height="7.6" fill="#b2b2b2" stroke="none"/><rect x="475.3" y="374.90000000000003" width="5.8" height="1.5" fill="#6a6a6a" stroke="none"/><text x="475.9" y="382.1" font-size="10.5" fill="#8a8a8a" stroke="none">r</text><text x="482.9" y="382.3">VV</text>
<text x="237" y="444.6" font-size="17.2" stroke-width="0.35">GFP</text>
</g>
<g stroke="#0a0a0a" stroke-width="1.5" fill="none">
<path d="M18.8 509.6V699.1H215.7M15.600000000000001 699.10H18.8M15.600000000000001 675.50H18.8M15.600000000000001 651.90H18.8M15.600000000000001 628.30H18.8M15.600000000000001 604.70H18.8M15.600000000000001 581.10H18.8M15.600000000000001 557.50H18.8M15.600000000000001 533.90H18.8M15.600000000000001 510.30H18.8M51.5 699.1V702.7M84.2 699.1V702.7M116.9 699.1V702.7M149.6 699.1V702.7M182.3 699.1V702.7M215.0 699.1V702.7"/>
</g>
<g stroke="#0a0a0a" stroke-width="1.6" fill="#888">
<path fill="none" stroke-width="1.6" d="M35.6 612.3V602.5M32.4 602.6H38.800000000000004"/>
<rect x="28.9" y="612.3" width="13.4" height="86.8"/>
<path fill="none" stroke-width="1.6" d="M68 627.7V611.0M64.8 611.1H71.2"/>
<rect x="61.3" y="627.7" width="13.4" height="71.4"/>
<path fill="none" stroke-width="1.6" d="M101.2 626.2V610.0M98.0 610.1H104.4"/>
<rect x="94.5" y="626.2" width="13.4" height="72.9"/>
<path fill="none" stroke-width="1.6" d="M133.2 559.7V559.2M130.0 559.3H136.39999999999998"/>
<rect x="126.5" y="559.7" width="13.4" height="139.4"/>
<path fill="none" stroke-width="1.6" d="M166.2 541.5V535.2M163.0 535.3H169.39999999999998"/>
<rect x="159.5" y="541.5" width="13.4" height="157.6"/>
<path fill="none" stroke-width="1.6" d="M198.9 551.5V539.9M195.70000000000002 540.0H202.1"/>
<rect x="192.2" y="551.5" width="13.4" height="147.6"/>
<path d="M98.8 540.6H133.8" stroke-width="1.6"/>
</g>
<g font-family="'Liberation Serif', 'DejaVu Serif', serif" fill="#0a0a0a" stroke="#0a0a0a" stroke-width="0.2" font-size="14.8">
<text x="15.200000000000001" y="704.0" text-anchor="end">0</text>
<text x="15.200000000000001" y="680.4" text-anchor="end">10</text>
<text x="15.200000000000001" y="656.8" text-anchor="end">20</text>
<text x="15.200000000000001" y="633.2" text-anchor="end">30</text>
<text x="15.200000000000001" y="609.6" text-anchor="end">40</text>
<text x="15.200000000000001" y="586.0" text-anchor="end">50</text>
<text x="15.200000000000001" y="562.4" text-anchor="end">60</text>
<text x="15.200000000000001" y="538.8" text-anchor="end">70</text>
<text x="15.200000000000001" y="515.2" text-anchor="end">80</text>
</g>
<g font-family="'Liberation Serif', 'DejaVu Serif', serif" fill="#0a0a0a" stroke="#0a0a0a" stroke-width="0.15" font-size="14.2" text-anchor="middle">
<text x="34.8" y="714.6">C</text>
<text x="66.3" y="714.6">rVV</text>
<text x="100.0" y="714.6">rVV+</text>
<text x="98.0" y="729.9">LPS</text>
<text x="133.5" y="714.6">LPS</text>
<text x="133.0" y="729.9">8h</text>
<text x="167.4" y="714.6">LPS+</text>
<text x="165.8" y="729.9">rVV</text>
<text x="199.4" y="714.6">LPS</text>
<text x="199.7" y="729.9">16h</text>
<text x="116.3" y="540.1" font-size="15">*</text>
</g>
<g stroke="#0a0a0a" stroke-width="1.5" fill="none">
<path d="M292.2 507.7V698.0H489.1M289.0 698.00H292.2M289.0 674.30H292.2M289.0 650.60H292.2M289.0 626.90H292.2M289.0 603.20H292.2M289.0 579.50H292.2M289.0 555.80H292.2M289.0 532.10H292.2M289.0 508.40H292.2M324.9 698.0V701.6M357.6 698.0V701.6M390.3 698.0V701.6M423.0 698.0V701.6M455.7 698.0V701.6M488.4 698.0V701.6"/>
</g>
<g stroke="#0a0a0a" stroke-width="1.6" fill="#888">
<path fill="none" stroke-width="1.6" d="M307.9 590.4V587.5M304.7 587.6H311.09999999999997"/>
<rect x="301.2" y="590.4" width="13.4" height="107.6"/>
<path fill="none" stroke-width="1.6" d="M340.6 618.5V596.0M337.40000000000003 596.1H343.8"/>
<rect x="333.9" y="618.5" width="13.4" height="79.5"/>
<path fill="none" stroke-width="1.6" d="M373.4 605.8V595.6M370.2 595.7H376.59999999999997"/>
<rect x="366.7" y="605.8" width="13.4" height="92.2"/>
<path fill="none" stroke-width="1.6" d="M406.6 564.2V555.6M403.40000000000003 555.7H409.8"/>
<rect x="399.9" y="564.2" width="13.4" height="133.8"/>
<path fill="none" stroke-width="1.6" d="M439.4 531.9V512.1M436.2 512.2H442.59999999999997"/>
<rect x="432.7" y="531.9" width="13.4" height="166.1"/>
<path fill="none" stroke-width="1.6" d="M472.3 556.9V545.6M469.1 545.7H475.5"/>
<rect x="465.6" y="556.9" width="13.4" height="141.1"/>
<path d="M375.4 539.4H410.4" stroke-width="1.6"/>
</g>
<g font-family="'Liberation Serif', 'DejaVu Serif', serif" fill="#0a0a0a" stroke="#0a0a0a" stroke-width="0.2" font-size="14.8">
<text x="288.59999999999997" y="702.9" text-anchor="end">0</text>
<text x="288.59999999999997" y="679.2" text-anchor="end">10</text>
<text x="288.59999999999997" y="655.5" text-anchor="end">20</text>
<text x="288.59999999999997" y="631.8" text-anchor="end">30</text>
<text x="288.59999999999997" y="608.1" text-anchor="end">40</text>
<text x="288.59999999999997" y="584.4" text-anchor="end">50</text>
<text x="288.59999999999997" y="560.7" text-anchor="end">60</text>
<text x="288.59999999999997" y="537.0" text-anchor="end">70</text>
<text x="288.59999999999997" y="513.3" text-anchor="end">80</text>
</g>
<g font-family="'Liberation Serif', 'DejaVu Serif', serif" fill="#0a0a0a" stroke="#0a0a0a" stroke-width="0.15" font-size="14.2" text-anchor="middle">
<text x="307.5" y="713.6">C</text>
<text x="339.1" y="713.6">rVV</text>
<text x="372.4" y="713.6">rVV+</text>
<text x="370.2" y="728.6">LPS</text>
<text x="406.1" y="713.6">LPS</text>
<text x="405.8" y="728.6">8h</text>
<text x="440.5" y="713.6">LPS+</text>
<text x="438.4" y="728.6">rVV</text>
<text x="472.3" y="713.6">LPS</text>
<text x="472.9" y="728.6">16h</text>
<text x="392.9" y="538.9" font-size="15">*</text>
</g>
<g font-family="'Liberation Serif', 'DejaVu Serif', serif" font-weight="bold" fill="#0a0a0a" stroke="#0a0a0a" stroke-width="0.35" font-size="17.2">
<text x="104.8" y="488">I-A<tspan font-size="10.8" dy="-4.6" stroke-width="0.15">k</tspan></text>
<text x="378.6" y="487.8" font-size="17.8">CD86</text>
</g>
</svg>
</body></html>
